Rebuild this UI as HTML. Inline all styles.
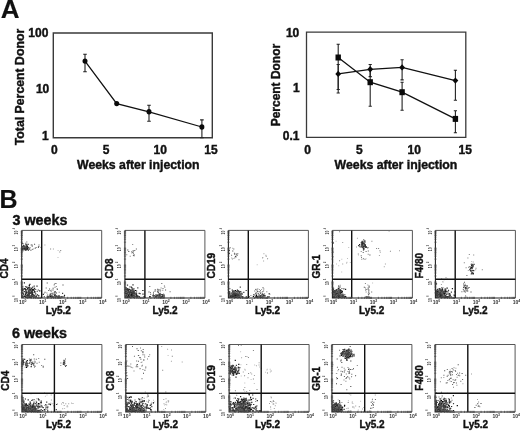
<!DOCTYPE html>
<html><head><meta charset="utf-8"><style>
html,body{margin:0;padding:0;background:#fff;width:520px;height:431px;overflow:hidden}
svg{display:block;filter:blur(0.35px)}
</style></head><body>
<svg width="520" height="431" viewBox="0 0 520 431">
<path fill="rgb(0,0,0)" d="M27.1 248.2h1.2v1.2h-1.2zM23.9 247.7h1.2v1.2h-1.2zM22.2 248.9h1.2v1.2h-1.2zM26.2 249.1h1.2v1.2h-1.2zM27.1 247.7h1.2v1.2h-1.2zM23.0 248.5h1.2v1.2h-1.2zM24.2 246.9h1.2v1.2h-1.2zM24.7 247.4h1.2v1.2h-1.2zM26.4 248.4h1.2v1.2h-1.2zM26.8 245.6h1.2v1.2h-1.2zM22.2 247.8h1.2v1.2h-1.2zM25.3 246.5h1.2v1.2h-1.2zM27.3 246.7h1.2v1.2h-1.2zM28.4 295.0h1.2v1.2h-1.2zM22.2 289.3h1.2v1.2h-1.2zM31.7 292.5h1.2v1.2h-1.2zM24.9 288.5h1.2v1.2h-1.2zM31.5 293.1h1.2v1.2h-1.2zM29.3 288.7h1.2v1.2h-1.2zM22.4 289.1h1.2v1.2h-1.2zM28.9 293.1h1.2v1.2h-1.2zM32.1 291.7h1.2v1.2h-1.2zM22.2 292.7h1.2v1.2h-1.2zM25.3 293.2h1.2v1.2h-1.2zM28.6 293.5h1.2v1.2h-1.2zM27.2 294.5h1.2v1.2h-1.2zM30.3 295.4h1.2v1.2h-1.2zM23.9 288.0h1.2v1.2h-1.2zM26.7 295.7h1.2v1.2h-1.2zM39.2 290.3h1.2v1.2h-1.2zM32.9 289.0h1.2v1.2h-1.2zM25.2 296.3h1.2v1.2h-1.2zM28.7 284.7h1.2v1.2h-1.2zM25.5 292.6h1.2v1.2h-1.2zM22.2 289.7h1.2v1.2h-1.2zM26.4 289.1h1.2v1.2h-1.2zM30.8 296.3h1.2v1.2h-1.2zM28.7 296.3h1.2v1.2h-1.2zM22.6 296.3h1.2v1.2h-1.2zM26.1 295.1h1.2v1.2h-1.2zM22.5 293.4h1.2v1.2h-1.2zM29.7 296.2h1.2v1.2h-1.2zM22.2 296.3h1.2v1.2h-1.2zM31.9 294.0h1.2v1.2h-1.2zM50.4 296.3h1.2v1.2h-1.2zM56.3 295.7h1.2v1.2h-1.2zM49.8 295.8h1.2v1.2h-1.2zM61.1 296.3h1.2v1.2h-1.2zM51.8 296.0h1.2v1.2h-1.2zM46.6 296.3h1.2v1.2h-1.2zM50.2 295.9h1.2v1.2h-1.2zM50.1 293.6h1.2v1.2h-1.2zM54.1 294.6h1.2v1.2h-1.2zM25.5 362.2h1.2v1.2h-1.2zM26.0 366.8h1.2v1.2h-1.2zM30.8 363.7h1.2v1.2h-1.2zM22.4 361.0h1.2v1.2h-1.2zM22.4 359.7h1.2v1.2h-1.2zM25.0 364.1h1.2v1.2h-1.2zM62.9 362.9h1.2v1.2h-1.2zM62.8 363.4h1.2v1.2h-1.2zM26.7 410.3h1.2v1.2h-1.2zM22.4 408.3h1.2v1.2h-1.2zM33.4 407.1h1.2v1.2h-1.2zM28.4 407.7h1.2v1.2h-1.2zM29.5 406.2h1.2v1.2h-1.2zM34.7 406.0h1.2v1.2h-1.2zM33.1 408.8h1.2v1.2h-1.2zM22.4 408.9h1.2v1.2h-1.2zM29.4 409.1h1.2v1.2h-1.2zM35.0 408.1h1.2v1.2h-1.2zM39.9 401.4h1.2v1.2h-1.2zM31.7 405.9h1.2v1.2h-1.2zM23.3 400.5h1.2v1.2h-1.2zM27.1 410.3h1.2v1.2h-1.2zM37.8 403.0h1.2v1.2h-1.2zM26.5 410.3h1.2v1.2h-1.2zM33.3 408.0h1.2v1.2h-1.2zM48.5 403.6h1.2v1.2h-1.2zM25.3 404.2h1.2v1.2h-1.2zM25.1 409.2h1.2v1.2h-1.2zM22.4 397.2h1.2v1.2h-1.2zM34.8 409.1h1.2v1.2h-1.2zM35.4 408.7h1.2v1.2h-1.2zM29.6 401.6h1.2v1.2h-1.2zM24.7 410.3h1.2v1.2h-1.2zM25.9 410.3h1.2v1.2h-1.2zM34.5 403.1h1.2v1.2h-1.2zM34.0 410.3h1.2v1.2h-1.2zM33.0 408.0h1.2v1.2h-1.2zM32.7 409.0h1.2v1.2h-1.2zM31.9 410.3h1.2v1.2h-1.2zM22.4 405.6h1.2v1.2h-1.2zM40.6 401.9h1.2v1.2h-1.2zM30.3 406.5h1.2v1.2h-1.2zM22.4 407.5h1.2v1.2h-1.2zM32.6 404.2h1.2v1.2h-1.2zM37.8 403.4h1.2v1.2h-1.2zM32.9 406.2h1.2v1.2h-1.2zM30.7 408.4h1.2v1.2h-1.2zM35.0 409.9h1.2v1.2h-1.2zM29.7 410.3h1.2v1.2h-1.2zM28.5 409.5h1.2v1.2h-1.2zM26.4 410.3h1.2v1.2h-1.2zM32.3 410.3h1.2v1.2h-1.2zM26.7 410.3h1.2v1.2h-1.2zM30.3 410.3h1.2v1.2h-1.2zM24.7 410.3h1.2v1.2h-1.2zM30.6 410.3h1.2v1.2h-1.2zM25.7 409.3h1.2v1.2h-1.2zM29.3 410.1h1.2v1.2h-1.2zM26.0 408.7h1.2v1.2h-1.2zM31.5 410.3h1.2v1.2h-1.2zM33.8 410.3h1.2v1.2h-1.2zM24.3 409.7h1.2v1.2h-1.2zM135.9 293.5h1.2v1.2h-1.2zM125.4 290.8h1.2v1.2h-1.2zM129.3 291.7h1.2v1.2h-1.2zM134.9 289.9h1.2v1.2h-1.2zM142.3 289.9h1.2v1.2h-1.2zM127.2 291.4h1.2v1.2h-1.2zM131.2 295.2h1.2v1.2h-1.2zM130.4 294.7h1.2v1.2h-1.2zM133.4 290.5h1.2v1.2h-1.2zM134.6 293.5h1.2v1.2h-1.2zM130.4 289.8h1.2v1.2h-1.2zM131.7 292.8h1.2v1.2h-1.2zM132.9 291.6h1.2v1.2h-1.2zM125.4 293.0h1.2v1.2h-1.2zM134.1 292.3h1.2v1.2h-1.2zM138.8 296.3h1.2v1.2h-1.2zM131.4 295.6h1.2v1.2h-1.2zM130.5 290.0h1.2v1.2h-1.2zM130.8 293.5h1.2v1.2h-1.2zM128.0 294.4h1.2v1.2h-1.2zM126.8 296.3h1.2v1.2h-1.2zM128.0 296.0h1.2v1.2h-1.2zM134.7 294.0h1.2v1.2h-1.2zM132.7 296.3h1.2v1.2h-1.2zM128.7 296.3h1.2v1.2h-1.2zM132.6 296.3h1.2v1.2h-1.2zM127.9 295.1h1.2v1.2h-1.2zM129.0 295.0h1.2v1.2h-1.2zM131.8 293.9h1.2v1.2h-1.2zM129.7 294.6h1.2v1.2h-1.2zM161.2 296.3h1.2v1.2h-1.2zM149.5 295.9h1.2v1.2h-1.2zM155.7 296.3h1.2v1.2h-1.2zM159.2 294.1h1.2v1.2h-1.2zM149.1 296.3h1.2v1.2h-1.2zM161.9 294.2h1.2v1.2h-1.2zM157.1 294.8h1.2v1.2h-1.2zM140.1 409.2h1.2v1.2h-1.2zM139.0 399.1h1.2v1.2h-1.2zM131.5 404.4h1.2v1.2h-1.2zM136.9 409.3h1.2v1.2h-1.2zM128.9 410.3h1.2v1.2h-1.2zM139.1 403.5h1.2v1.2h-1.2zM147.7 407.8h1.2v1.2h-1.2zM128.5 406.4h1.2v1.2h-1.2zM135.1 407.6h1.2v1.2h-1.2zM132.7 407.0h1.2v1.2h-1.2zM126.3 407.6h1.2v1.2h-1.2zM137.1 409.4h1.2v1.2h-1.2zM129.9 404.5h1.2v1.2h-1.2zM136.4 405.4h1.2v1.2h-1.2zM140.6 405.0h1.2v1.2h-1.2zM147.5 407.3h1.2v1.2h-1.2zM134.0 410.3h1.2v1.2h-1.2zM138.7 402.4h1.2v1.2h-1.2zM143.8 400.2h1.2v1.2h-1.2zM135.9 406.0h1.2v1.2h-1.2zM141.6 401.1h1.2v1.2h-1.2zM126.3 404.1h1.2v1.2h-1.2zM129.0 396.8h1.2v1.2h-1.2zM133.8 403.3h1.2v1.2h-1.2zM136.3 404.0h1.2v1.2h-1.2zM126.3 408.7h1.2v1.2h-1.2zM136.2 407.9h1.2v1.2h-1.2zM128.5 410.3h1.2v1.2h-1.2zM130.7 406.0h1.2v1.2h-1.2zM139.0 404.4h1.2v1.2h-1.2zM131.4 406.8h1.2v1.2h-1.2zM131.0 402.6h1.2v1.2h-1.2zM140.1 407.9h1.2v1.2h-1.2zM127.2 410.0h1.2v1.2h-1.2zM142.7 410.3h1.2v1.2h-1.2zM126.3 404.1h1.2v1.2h-1.2zM126.3 402.4h1.2v1.2h-1.2zM150.5 409.3h1.2v1.2h-1.2zM131.0 402.6h1.2v1.2h-1.2zM126.3 405.6h1.2v1.2h-1.2zM129.9 400.2h1.2v1.2h-1.2zM137.0 409.6h1.2v1.2h-1.2zM146.2 407.2h1.2v1.2h-1.2zM135.4 408.0h1.2v1.2h-1.2zM140.8 410.3h1.2v1.2h-1.2zM137.2 406.4h1.2v1.2h-1.2zM152.8 402.3h1.2v1.2h-1.2zM138.6 407.1h1.2v1.2h-1.2zM136.4 409.2h1.2v1.2h-1.2zM132.5 408.9h1.2v1.2h-1.2zM129.1 408.3h1.2v1.2h-1.2zM133.7 410.3h1.2v1.2h-1.2zM129.2 410.2h1.2v1.2h-1.2zM129.7 409.1h1.2v1.2h-1.2zM140.5 409.6h1.2v1.2h-1.2zM140.3 410.3h1.2v1.2h-1.2zM130.2 410.3h1.2v1.2h-1.2zM133.0 410.3h1.2v1.2h-1.2zM126.3 409.4h1.2v1.2h-1.2zM126.3 410.3h1.2v1.2h-1.2zM133.9 409.0h1.2v1.2h-1.2zM129.5 410.3h1.2v1.2h-1.2zM126.3 410.3h1.2v1.2h-1.2zM130.2 410.3h1.2v1.2h-1.2zM132.0 410.3h1.2v1.2h-1.2zM130.9 408.4h1.2v1.2h-1.2zM237.0 294.6h1.2v1.2h-1.2zM238.1 296.3h1.2v1.2h-1.2zM234.4 296.3h1.2v1.2h-1.2zM239.2 296.3h1.2v1.2h-1.2zM230.6 292.6h1.2v1.2h-1.2zM234.8 290.1h1.2v1.2h-1.2zM235.7 296.3h1.2v1.2h-1.2zM234.3 293.3h1.2v1.2h-1.2zM235.9 294.5h1.2v1.2h-1.2zM228.9 291.0h1.2v1.2h-1.2zM230.1 295.0h1.2v1.2h-1.2zM232.4 292.4h1.2v1.2h-1.2zM237.5 294.5h1.2v1.2h-1.2zM235.0 294.1h1.2v1.2h-1.2zM237.7 290.4h1.2v1.2h-1.2zM233.4 290.5h1.2v1.2h-1.2zM241.6 296.3h1.2v1.2h-1.2zM232.3 294.0h1.2v1.2h-1.2zM236.2 290.8h1.2v1.2h-1.2zM237.1 294.8h1.2v1.2h-1.2zM238.2 290.7h1.2v1.2h-1.2zM239.4 294.5h1.2v1.2h-1.2zM229.5 296.3h1.2v1.2h-1.2zM234.9 296.3h1.2v1.2h-1.2zM235.0 294.7h1.2v1.2h-1.2zM231.5 295.4h1.2v1.2h-1.2zM231.0 296.3h1.2v1.2h-1.2zM230.9 295.4h1.2v1.2h-1.2zM254.3 294.4h1.2v1.2h-1.2zM256.3 296.3h1.2v1.2h-1.2zM256.0 296.3h1.2v1.2h-1.2zM255.9 294.9h1.2v1.2h-1.2zM263.1 295.0h1.2v1.2h-1.2zM252.8 295.8h1.2v1.2h-1.2zM262.8 295.6h1.2v1.2h-1.2zM234.9 370.2h1.2v1.2h-1.2zM234.4 370.9h1.2v1.2h-1.2zM234.5 366.5h1.2v1.2h-1.2zM238.2 363.8h1.2v1.2h-1.2zM231.2 367.9h1.2v1.2h-1.2zM236.1 372.7h1.2v1.2h-1.2zM230.5 369.5h1.2v1.2h-1.2zM232.9 370.9h1.2v1.2h-1.2zM230.7 368.3h1.2v1.2h-1.2zM229.7 367.1h1.2v1.2h-1.2zM235.1 371.9h1.2v1.2h-1.2zM234.1 371.2h1.2v1.2h-1.2zM237.0 370.9h1.2v1.2h-1.2zM233.9 368.5h1.2v1.2h-1.2zM237.5 372.4h1.2v1.2h-1.2zM229.6 370.6h1.2v1.2h-1.2zM230.8 365.8h1.2v1.2h-1.2zM233.6 372.1h1.2v1.2h-1.2zM244.0 401.8h1.2v1.2h-1.2zM250.9 399.0h1.2v1.2h-1.2zM242.7 401.1h1.2v1.2h-1.2zM243.7 402.3h1.2v1.2h-1.2zM233.7 410.3h1.2v1.2h-1.2zM252.6 407.5h1.2v1.2h-1.2zM239.9 405.9h1.2v1.2h-1.2zM242.7 405.8h1.2v1.2h-1.2zM233.7 403.3h1.2v1.2h-1.2zM239.3 402.1h1.2v1.2h-1.2zM232.3 403.3h1.2v1.2h-1.2zM229.6 410.3h1.2v1.2h-1.2zM242.4 399.9h1.2v1.2h-1.2zM250.8 409.0h1.2v1.2h-1.2zM241.4 407.2h1.2v1.2h-1.2zM247.5 405.3h1.2v1.2h-1.2zM247.2 408.4h1.2v1.2h-1.2zM242.1 399.1h1.2v1.2h-1.2zM232.2 408.1h1.2v1.2h-1.2zM240.8 399.1h1.2v1.2h-1.2zM244.3 401.6h1.2v1.2h-1.2zM247.0 403.0h1.2v1.2h-1.2zM237.4 399.9h1.2v1.2h-1.2zM229.6 409.5h1.2v1.2h-1.2zM234.0 404.7h1.2v1.2h-1.2zM229.6 403.9h1.2v1.2h-1.2zM247.3 407.4h1.2v1.2h-1.2zM248.6 394.1h1.2v1.2h-1.2zM245.1 404.2h1.2v1.2h-1.2zM238.0 401.7h1.2v1.2h-1.2zM248.5 408.1h1.2v1.2h-1.2zM240.1 410.3h1.2v1.2h-1.2zM244.4 406.8h1.2v1.2h-1.2zM238.0 406.7h1.2v1.2h-1.2zM240.1 402.9h1.2v1.2h-1.2zM241.6 410.3h1.2v1.2h-1.2zM259.4 410.3h1.2v1.2h-1.2zM254.8 406.5h1.2v1.2h-1.2zM248.4 399.6h1.2v1.2h-1.2zM246.1 406.6h1.2v1.2h-1.2zM244.0 401.3h1.2v1.2h-1.2zM248.2 410.3h1.2v1.2h-1.2zM255.4 409.3h1.2v1.2h-1.2zM229.6 408.1h1.2v1.2h-1.2zM249.8 408.9h1.2v1.2h-1.2zM239.8 403.2h1.2v1.2h-1.2zM231.6 407.0h1.2v1.2h-1.2zM252.3 410.3h1.2v1.2h-1.2zM239.3 407.3h1.2v1.2h-1.2zM235.8 407.8h1.2v1.2h-1.2zM249.0 410.3h1.2v1.2h-1.2zM243.8 408.2h1.2v1.2h-1.2zM249.3 410.3h1.2v1.2h-1.2zM238.3 407.3h1.2v1.2h-1.2zM249.2 407.7h1.2v1.2h-1.2zM363.7 245.8h1.2v1.2h-1.2zM364.4 245.3h1.2v1.2h-1.2zM361.7 244.0h1.2v1.2h-1.2zM362.0 245.5h1.2v1.2h-1.2zM361.2 245.5h1.2v1.2h-1.2zM362.7 243.2h1.2v1.2h-1.2zM362.9 247.7h1.2v1.2h-1.2zM364.7 244.7h1.2v1.2h-1.2zM362.2 241.7h1.2v1.2h-1.2zM361.9 245.0h1.2v1.2h-1.2zM365.4 246.2h1.2v1.2h-1.2zM363.1 245.9h1.2v1.2h-1.2zM337.6 294.3h1.2v1.2h-1.2zM334.0 296.3h1.2v1.2h-1.2zM333.1 293.0h1.2v1.2h-1.2zM340.0 289.4h1.2v1.2h-1.2zM337.7 293.1h1.2v1.2h-1.2zM338.0 289.8h1.2v1.2h-1.2zM338.3 296.3h1.2v1.2h-1.2zM332.9 294.2h1.2v1.2h-1.2zM335.4 289.8h1.2v1.2h-1.2zM338.0 295.7h1.2v1.2h-1.2zM341.1 292.1h1.2v1.2h-1.2zM337.5 292.1h1.2v1.2h-1.2zM339.8 289.9h1.2v1.2h-1.2zM337.3 293.0h1.2v1.2h-1.2zM338.7 295.9h1.2v1.2h-1.2zM341.2 292.0h1.2v1.2h-1.2zM336.8 291.3h1.2v1.2h-1.2zM332.9 293.8h1.2v1.2h-1.2zM337.8 290.9h1.2v1.2h-1.2zM339.6 296.3h1.2v1.2h-1.2zM334.1 295.9h1.2v1.2h-1.2zM341.7 291.0h1.2v1.2h-1.2zM334.6 294.9h1.2v1.2h-1.2zM332.9 291.7h1.2v1.2h-1.2zM339.9 291.8h1.2v1.2h-1.2zM339.1 296.3h1.2v1.2h-1.2zM332.9 291.6h1.2v1.2h-1.2zM333.8 290.2h1.2v1.2h-1.2zM335.5 293.6h1.2v1.2h-1.2zM345.0 295.9h1.2v1.2h-1.2zM339.6 292.8h1.2v1.2h-1.2zM338.9 294.2h1.2v1.2h-1.2zM337.5 295.3h1.2v1.2h-1.2zM333.9 296.3h1.2v1.2h-1.2zM334.0 294.6h1.2v1.2h-1.2zM334.7 292.7h1.2v1.2h-1.2zM334.1 295.5h1.2v1.2h-1.2zM333.2 296.3h1.2v1.2h-1.2zM334.9 295.6h1.2v1.2h-1.2zM338.2 295.9h1.2v1.2h-1.2zM334.8 294.7h1.2v1.2h-1.2zM338.2 296.3h1.2v1.2h-1.2zM343.7 296.3h1.2v1.2h-1.2zM339.5 295.3h1.2v1.2h-1.2zM332.9 296.3h1.2v1.2h-1.2zM333.8 295.6h1.2v1.2h-1.2zM341.5 354.1h1.2v1.2h-1.2zM350.4 349.5h1.2v1.2h-1.2zM347.3 356.2h1.2v1.2h-1.2zM346.2 358.2h1.2v1.2h-1.2zM345.8 352.4h1.2v1.2h-1.2zM346.2 350.3h1.2v1.2h-1.2zM346.6 356.3h1.2v1.2h-1.2zM349.6 354.3h1.2v1.2h-1.2zM340.6 353.3h1.2v1.2h-1.2zM348.9 353.4h1.2v1.2h-1.2zM346.4 356.5h1.2v1.2h-1.2zM347.7 354.2h1.2v1.2h-1.2zM348.3 348.6h1.2v1.2h-1.2zM344.7 357.9h1.2v1.2h-1.2zM350.7 351.4h1.2v1.2h-1.2zM350.0 355.5h1.2v1.2h-1.2zM344.3 353.3h1.2v1.2h-1.2zM347.4 349.8h1.2v1.2h-1.2zM347.3 351.4h1.2v1.2h-1.2zM350.8 351.4h1.2v1.2h-1.2zM344.2 350.9h1.2v1.2h-1.2zM348.9 356.1h1.2v1.2h-1.2zM350.1 354.3h1.2v1.2h-1.2zM340.8 354.8h1.2v1.2h-1.2zM341.9 351.7h1.2v1.2h-1.2zM338.9 410.3h1.2v1.2h-1.2zM332.4 410.3h1.2v1.2h-1.2zM341.3 406.6h1.2v1.2h-1.2zM333.8 407.7h1.2v1.2h-1.2zM337.6 409.3h1.2v1.2h-1.2zM336.8 404.9h1.2v1.2h-1.2zM333.4 407.1h1.2v1.2h-1.2zM332.4 410.3h1.2v1.2h-1.2zM332.4 406.7h1.2v1.2h-1.2zM332.5 410.2h1.2v1.2h-1.2zM333.1 405.8h1.2v1.2h-1.2zM335.9 403.3h1.2v1.2h-1.2zM336.4 410.3h1.2v1.2h-1.2zM334.4 403.6h1.2v1.2h-1.2zM344.0 404.7h1.2v1.2h-1.2zM336.5 407.8h1.2v1.2h-1.2zM337.1 406.4h1.2v1.2h-1.2zM339.7 409.2h1.2v1.2h-1.2zM333.0 406.9h1.2v1.2h-1.2zM333.1 407.0h1.2v1.2h-1.2zM332.4 409.2h1.2v1.2h-1.2zM332.4 405.6h1.2v1.2h-1.2zM338.3 407.4h1.2v1.2h-1.2zM339.1 405.0h1.2v1.2h-1.2zM335.1 409.6h1.2v1.2h-1.2zM335.1 406.0h1.2v1.2h-1.2zM332.4 405.2h1.2v1.2h-1.2zM340.2 408.8h1.2v1.2h-1.2zM340.0 405.4h1.2v1.2h-1.2zM335.0 408.0h1.2v1.2h-1.2zM332.4 405.1h1.2v1.2h-1.2zM332.4 407.7h1.2v1.2h-1.2zM336.1 410.3h1.2v1.2h-1.2zM335.9 410.3h1.2v1.2h-1.2zM338.0 410.3h1.2v1.2h-1.2zM338.1 409.1h1.2v1.2h-1.2zM338.6 409.8h1.2v1.2h-1.2zM336.4 410.3h1.2v1.2h-1.2zM335.9 408.1h1.2v1.2h-1.2zM336.8 410.3h1.2v1.2h-1.2zM340.2 409.1h1.2v1.2h-1.2zM336.8 409.7h1.2v1.2h-1.2zM340.9 409.1h1.2v1.2h-1.2zM337.8 410.3h1.2v1.2h-1.2zM337.8 410.3h1.2v1.2h-1.2zM471.0 266.8h1.2v1.2h-1.2zM471.4 263.8h1.2v1.2h-1.2zM472.7 273.0h1.2v1.2h-1.2zM472.4 265.6h1.2v1.2h-1.2zM472.7 265.8h1.2v1.2h-1.2zM469.8 267.6h1.2v1.2h-1.2zM436.8 296.3h1.2v1.2h-1.2zM436.5 294.8h1.2v1.2h-1.2zM435.9 294.5h1.2v1.2h-1.2zM439.5 294.2h1.2v1.2h-1.2zM443.5 293.7h1.2v1.2h-1.2zM444.5 294.8h1.2v1.2h-1.2zM440.6 295.4h1.2v1.2h-1.2zM444.5 288.5h1.2v1.2h-1.2zM444.7 289.6h1.2v1.2h-1.2zM435.9 296.3h1.2v1.2h-1.2zM443.3 292.3h1.2v1.2h-1.2zM440.5 291.9h1.2v1.2h-1.2zM443.8 292.6h1.2v1.2h-1.2zM441.1 296.3h1.2v1.2h-1.2zM439.9 290.6h1.2v1.2h-1.2zM438.8 295.4h1.2v1.2h-1.2zM440.9 292.3h1.2v1.2h-1.2zM436.2 291.8h1.2v1.2h-1.2zM441.2 291.5h1.2v1.2h-1.2zM438.3 293.7h1.2v1.2h-1.2zM441.6 294.4h1.2v1.2h-1.2zM446.7 296.3h1.2v1.2h-1.2zM446.5 287.6h1.2v1.2h-1.2zM444.7 291.1h1.2v1.2h-1.2zM438.0 292.3h1.2v1.2h-1.2zM437.0 291.1h1.2v1.2h-1.2zM444.8 295.5h1.2v1.2h-1.2zM441.9 291.2h1.2v1.2h-1.2zM435.9 292.0h1.2v1.2h-1.2zM450.5 296.3h1.2v1.2h-1.2zM436.4 296.3h1.2v1.2h-1.2zM441.3 296.0h1.2v1.2h-1.2zM439.6 295.0h1.2v1.2h-1.2zM444.8 295.1h1.2v1.2h-1.2zM447.7 296.0h1.2v1.2h-1.2zM446.5 296.3h1.2v1.2h-1.2zM444.9 296.3h1.2v1.2h-1.2zM435.9 296.3h1.2v1.2h-1.2zM464.7 287.3h1.2v1.2h-1.2zM466.6 285.4h1.2v1.2h-1.2zM435.6 408.7h1.2v1.2h-1.2zM437.0 407.2h1.2v1.2h-1.2zM444.5 406.1h1.2v1.2h-1.2zM436.0 404.5h1.2v1.2h-1.2zM448.1 410.3h1.2v1.2h-1.2zM435.6 410.3h1.2v1.2h-1.2zM441.9 401.0h1.2v1.2h-1.2zM439.3 404.7h1.2v1.2h-1.2zM443.0 404.2h1.2v1.2h-1.2zM446.5 410.3h1.2v1.2h-1.2zM440.6 406.6h1.2v1.2h-1.2zM435.6 403.3h1.2v1.2h-1.2zM440.4 399.7h1.2v1.2h-1.2zM436.1 409.4h1.2v1.2h-1.2zM435.6 402.9h1.2v1.2h-1.2zM441.8 405.7h1.2v1.2h-1.2zM439.1 402.2h1.2v1.2h-1.2zM456.7 405.1h1.2v1.2h-1.2zM439.1 410.3h1.2v1.2h-1.2zM448.4 405.1h1.2v1.2h-1.2zM435.6 410.3h1.2v1.2h-1.2zM439.5 408.6h1.2v1.2h-1.2zM440.0 410.3h1.2v1.2h-1.2zM444.7 403.0h1.2v1.2h-1.2zM444.7 401.4h1.2v1.2h-1.2zM439.7 405.1h1.2v1.2h-1.2zM447.2 406.8h1.2v1.2h-1.2zM444.3 400.3h1.2v1.2h-1.2zM440.6 402.5h1.2v1.2h-1.2zM441.8 402.5h1.2v1.2h-1.2zM436.5 401.9h1.2v1.2h-1.2zM440.9 400.1h1.2v1.2h-1.2zM445.7 400.2h1.2v1.2h-1.2zM442.9 410.3h1.2v1.2h-1.2zM439.8 410.3h1.2v1.2h-1.2zM437.6 410.3h1.2v1.2h-1.2zM438.7 402.9h1.2v1.2h-1.2zM448.0 404.7h1.2v1.2h-1.2zM444.4 406.8h1.2v1.2h-1.2zM439.5 398.2h1.2v1.2h-1.2zM441.7 410.3h1.2v1.2h-1.2zM439.8 407.3h1.2v1.2h-1.2zM443.0 409.3h1.2v1.2h-1.2zM438.3 404.9h1.2v1.2h-1.2zM441.7 409.5h1.2v1.2h-1.2zM442.4 405.2h1.2v1.2h-1.2zM437.2 406.5h1.2v1.2h-1.2zM435.6 410.3h1.2v1.2h-1.2zM439.5 408.4h1.2v1.2h-1.2zM438.1 403.8h1.2v1.2h-1.2zM439.0 404.5h1.2v1.2h-1.2zM440.1 410.0h1.2v1.2h-1.2zM441.6 410.2h1.2v1.2h-1.2zM437.1 410.3h1.2v1.2h-1.2zM439.3 408.6h1.2v1.2h-1.2zM438.4 410.3h1.2v1.2h-1.2zM437.2 410.3h1.2v1.2h-1.2zM437.8 410.3h1.2v1.2h-1.2zM441.4 410.3h1.2v1.2h-1.2z"/>
<path fill="rgb(31,31,31)" d="M27.1 248.4h1.2v1.2h-1.2zM28.9 248.4h1.2v1.2h-1.2zM25.4 248.1h1.2v1.2h-1.2zM25.4 247.6h1.2v1.2h-1.2zM23.7 245.7h1.2v1.2h-1.2zM22.6 246.4h1.2v1.2h-1.2zM25.6 244.7h1.2v1.2h-1.2zM22.3 246.1h1.2v1.2h-1.2zM27.5 243.7h1.2v1.2h-1.2zM25.8 248.4h1.2v1.2h-1.2zM25.3 246.9h1.2v1.2h-1.2zM25.9 246.3h1.2v1.2h-1.2zM25.5 248.3h1.2v1.2h-1.2zM24.7 247.6h1.2v1.2h-1.2zM25.0 248.4h1.2v1.2h-1.2zM24.7 249.1h1.2v1.2h-1.2zM26.3 248.4h1.2v1.2h-1.2zM30.1 289.3h1.2v1.2h-1.2zM32.3 289.6h1.2v1.2h-1.2zM22.2 287.6h1.2v1.2h-1.2zM33.3 289.4h1.2v1.2h-1.2zM27.8 291.3h1.2v1.2h-1.2zM25.0 290.3h1.2v1.2h-1.2zM25.5 290.4h1.2v1.2h-1.2zM29.3 283.7h1.2v1.2h-1.2zM24.6 288.7h1.2v1.2h-1.2zM27.0 287.8h1.2v1.2h-1.2zM36.4 285.5h1.2v1.2h-1.2zM30.2 292.8h1.2v1.2h-1.2zM30.8 296.3h1.2v1.2h-1.2zM31.2 294.6h1.2v1.2h-1.2zM27.1 293.4h1.2v1.2h-1.2zM27.9 291.6h1.2v1.2h-1.2zM35.1 293.3h1.2v1.2h-1.2zM36.9 294.2h1.2v1.2h-1.2zM28.4 293.2h1.2v1.2h-1.2zM31.6 292.1h1.2v1.2h-1.2zM26.1 296.3h1.2v1.2h-1.2zM25.9 291.4h1.2v1.2h-1.2zM28.1 287.0h1.2v1.2h-1.2zM30.7 288.0h1.2v1.2h-1.2zM31.0 288.4h1.2v1.2h-1.2zM23.8 282.2h1.2v1.2h-1.2zM28.0 294.0h1.2v1.2h-1.2zM26.2 291.9h1.2v1.2h-1.2zM24.9 294.1h1.2v1.2h-1.2zM28.5 292.9h1.2v1.2h-1.2zM29.6 291.6h1.2v1.2h-1.2zM29.3 296.0h1.2v1.2h-1.2zM31.9 289.0h1.2v1.2h-1.2zM29.6 289.6h1.2v1.2h-1.2zM25.9 286.5h1.2v1.2h-1.2zM31.1 291.8h1.2v1.2h-1.2zM28.6 287.3h1.2v1.2h-1.2zM28.7 292.8h1.2v1.2h-1.2zM33.9 290.8h1.2v1.2h-1.2zM26.3 286.5h1.2v1.2h-1.2zM23.7 291.0h1.2v1.2h-1.2zM35.7 296.3h1.2v1.2h-1.2zM25.3 292.3h1.2v1.2h-1.2zM34.3 296.2h1.2v1.2h-1.2zM34.0 287.8h1.2v1.2h-1.2zM33.9 291.5h1.2v1.2h-1.2zM27.9 293.2h1.2v1.2h-1.2zM27.6 294.7h1.2v1.2h-1.2zM34.7 291.4h1.2v1.2h-1.2zM35.6 295.4h1.2v1.2h-1.2zM31.8 290.4h1.2v1.2h-1.2zM25.8 291.2h1.2v1.2h-1.2zM30.8 290.6h1.2v1.2h-1.2zM26.7 296.3h1.2v1.2h-1.2zM30.2 296.3h1.2v1.2h-1.2zM33.6 295.1h1.2v1.2h-1.2zM42.7 293.7h1.2v1.2h-1.2zM27.5 296.3h1.2v1.2h-1.2zM28.7 294.7h1.2v1.2h-1.2zM23.9 295.7h1.2v1.2h-1.2zM31.0 295.3h1.2v1.2h-1.2zM28.7 296.3h1.2v1.2h-1.2zM30.2 296.2h1.2v1.2h-1.2zM24.4 295.3h1.2v1.2h-1.2zM28.1 295.8h1.2v1.2h-1.2zM32.9 295.0h1.2v1.2h-1.2zM28.3 296.1h1.2v1.2h-1.2zM26.3 294.8h1.2v1.2h-1.2zM23.1 293.5h1.2v1.2h-1.2zM33.1 296.1h1.2v1.2h-1.2zM28.3 294.5h1.2v1.2h-1.2zM25.3 296.3h1.2v1.2h-1.2zM30.1 296.3h1.2v1.2h-1.2zM25.2 296.3h1.2v1.2h-1.2zM28.9 296.0h1.2v1.2h-1.2zM32.0 295.7h1.2v1.2h-1.2zM32.7 293.9h1.2v1.2h-1.2zM34.1 296.3h1.2v1.2h-1.2zM31.6 295.5h1.2v1.2h-1.2zM29.7 295.7h1.2v1.2h-1.2zM63.9 294.8h1.2v1.2h-1.2zM62.3 296.3h1.2v1.2h-1.2zM57.5 296.3h1.2v1.2h-1.2zM54.8 296.3h1.2v1.2h-1.2zM48.5 296.3h1.2v1.2h-1.2zM54.5 294.6h1.2v1.2h-1.2zM52.1 296.1h1.2v1.2h-1.2zM52.4 295.9h1.2v1.2h-1.2zM58.3 296.3h1.2v1.2h-1.2zM54.6 295.3h1.2v1.2h-1.2zM56.1 295.5h1.2v1.2h-1.2zM54.1 295.3h1.2v1.2h-1.2zM48.1 296.3h1.2v1.2h-1.2zM58.9 295.8h1.2v1.2h-1.2zM25.0 363.2h1.2v1.2h-1.2zM27.1 365.2h1.2v1.2h-1.2zM30.6 366.0h1.2v1.2h-1.2zM29.5 360.0h1.2v1.2h-1.2zM22.9 362.1h1.2v1.2h-1.2zM27.2 365.1h1.2v1.2h-1.2zM22.4 363.2h1.2v1.2h-1.2zM26.1 363.4h1.2v1.2h-1.2zM25.5 365.0h1.2v1.2h-1.2zM26.8 360.1h1.2v1.2h-1.2zM22.4 358.5h1.2v1.2h-1.2zM26.3 362.3h1.2v1.2h-1.2zM24.0 358.8h1.2v1.2h-1.2zM63.5 363.4h1.2v1.2h-1.2zM62.9 361.7h1.2v1.2h-1.2zM64.0 361.4h1.2v1.2h-1.2zM63.7 362.6h1.2v1.2h-1.2zM28.4 403.6h1.2v1.2h-1.2zM23.0 406.5h1.2v1.2h-1.2zM26.4 405.4h1.2v1.2h-1.2zM26.8 406.9h1.2v1.2h-1.2zM23.5 408.8h1.2v1.2h-1.2zM24.7 403.9h1.2v1.2h-1.2zM25.0 405.1h1.2v1.2h-1.2zM30.4 410.3h1.2v1.2h-1.2zM28.1 408.5h1.2v1.2h-1.2zM28.4 408.2h1.2v1.2h-1.2zM23.5 409.5h1.2v1.2h-1.2zM33.5 407.1h1.2v1.2h-1.2zM30.2 406.1h1.2v1.2h-1.2zM30.4 410.3h1.2v1.2h-1.2zM34.3 410.3h1.2v1.2h-1.2zM30.8 406.7h1.2v1.2h-1.2zM28.8 410.1h1.2v1.2h-1.2zM35.3 408.1h1.2v1.2h-1.2zM29.0 409.7h1.2v1.2h-1.2zM34.5 407.1h1.2v1.2h-1.2zM30.7 408.7h1.2v1.2h-1.2zM22.4 407.4h1.2v1.2h-1.2zM32.7 406.3h1.2v1.2h-1.2zM29.1 409.1h1.2v1.2h-1.2zM31.0 406.4h1.2v1.2h-1.2zM25.1 403.8h1.2v1.2h-1.2zM33.7 407.7h1.2v1.2h-1.2zM25.9 409.7h1.2v1.2h-1.2zM29.3 406.6h1.2v1.2h-1.2zM26.9 410.3h1.2v1.2h-1.2zM25.7 408.0h1.2v1.2h-1.2zM27.2 409.5h1.2v1.2h-1.2zM27.7 407.8h1.2v1.2h-1.2zM33.9 406.5h1.2v1.2h-1.2zM28.7 409.7h1.2v1.2h-1.2zM22.4 406.0h1.2v1.2h-1.2zM39.3 405.9h1.2v1.2h-1.2zM32.5 410.3h1.2v1.2h-1.2zM23.2 402.0h1.2v1.2h-1.2zM24.9 410.3h1.2v1.2h-1.2zM27.6 399.3h1.2v1.2h-1.2zM26.4 404.5h1.2v1.2h-1.2zM31.8 406.7h1.2v1.2h-1.2zM24.8 398.4h1.2v1.2h-1.2zM26.6 407.1h1.2v1.2h-1.2zM32.0 399.4h1.2v1.2h-1.2zM39.2 403.3h1.2v1.2h-1.2zM27.5 405.1h1.2v1.2h-1.2zM37.1 410.3h1.2v1.2h-1.2zM24.4 404.9h1.2v1.2h-1.2zM22.4 406.9h1.2v1.2h-1.2zM31.8 407.6h1.2v1.2h-1.2zM22.4 403.6h1.2v1.2h-1.2zM56.1 403.9h1.2v1.2h-1.2zM37.9 407.2h1.2v1.2h-1.2zM32.1 404.6h1.2v1.2h-1.2zM31.7 408.6h1.2v1.2h-1.2zM35.3 405.1h1.2v1.2h-1.2zM25.8 403.3h1.2v1.2h-1.2zM36.2 404.2h1.2v1.2h-1.2zM29.4 408.6h1.2v1.2h-1.2zM29.2 404.1h1.2v1.2h-1.2zM30.5 409.5h1.2v1.2h-1.2zM35.1 405.7h1.2v1.2h-1.2zM47.0 406.6h1.2v1.2h-1.2zM24.6 403.6h1.2v1.2h-1.2zM35.9 401.6h1.2v1.2h-1.2zM43.8 409.1h1.2v1.2h-1.2zM22.4 407.7h1.2v1.2h-1.2zM37.8 410.3h1.2v1.2h-1.2zM41.6 406.6h1.2v1.2h-1.2zM38.4 399.2h1.2v1.2h-1.2zM22.4 406.7h1.2v1.2h-1.2zM42.1 410.0h1.2v1.2h-1.2zM38.6 409.8h1.2v1.2h-1.2zM31.1 408.5h1.2v1.2h-1.2zM33.1 402.9h1.2v1.2h-1.2zM33.4 405.4h1.2v1.2h-1.2zM49.9 404.1h1.2v1.2h-1.2zM22.4 409.2h1.2v1.2h-1.2zM28.9 406.2h1.2v1.2h-1.2zM30.7 410.3h1.2v1.2h-1.2zM31.9 410.3h1.2v1.2h-1.2zM38.2 405.5h1.2v1.2h-1.2zM41.1 405.2h1.2v1.2h-1.2zM34.9 408.0h1.2v1.2h-1.2zM26.4 408.3h1.2v1.2h-1.2zM35.7 410.3h1.2v1.2h-1.2zM22.4 404.9h1.2v1.2h-1.2zM29.7 409.3h1.2v1.2h-1.2zM32.6 410.3h1.2v1.2h-1.2zM26.8 410.3h1.2v1.2h-1.2zM31.6 404.2h1.2v1.2h-1.2zM40.6 400.5h1.2v1.2h-1.2zM25.8 404.1h1.2v1.2h-1.2zM22.4 408.2h1.2v1.2h-1.2zM24.0 409.7h1.2v1.2h-1.2zM23.2 406.5h1.2v1.2h-1.2zM37.1 405.8h1.2v1.2h-1.2zM28.3 406.2h1.2v1.2h-1.2zM37.3 407.3h1.2v1.2h-1.2zM38.3 409.8h1.2v1.2h-1.2zM30.2 410.3h1.2v1.2h-1.2zM24.7 410.0h1.2v1.2h-1.2zM23.2 408.5h1.2v1.2h-1.2zM22.4 410.3h1.2v1.2h-1.2zM27.7 409.9h1.2v1.2h-1.2zM27.2 410.3h1.2v1.2h-1.2zM34.4 410.0h1.2v1.2h-1.2zM26.1 410.3h1.2v1.2h-1.2zM24.7 410.3h1.2v1.2h-1.2zM22.4 410.3h1.2v1.2h-1.2zM30.1 410.3h1.2v1.2h-1.2zM32.5 410.3h1.2v1.2h-1.2zM30.0 408.8h1.2v1.2h-1.2zM29.4 410.3h1.2v1.2h-1.2zM35.1 410.3h1.2v1.2h-1.2zM22.4 410.3h1.2v1.2h-1.2zM33.5 409.5h1.2v1.2h-1.2zM22.4 409.8h1.2v1.2h-1.2zM24.0 409.5h1.2v1.2h-1.2zM23.5 409.5h1.2v1.2h-1.2zM27.4 410.3h1.2v1.2h-1.2zM24.7 408.0h1.2v1.2h-1.2zM28.0 410.3h1.2v1.2h-1.2zM29.3 410.3h1.2v1.2h-1.2zM27.1 408.9h1.2v1.2h-1.2zM32.3 407.8h1.2v1.2h-1.2zM25.3 407.4h1.2v1.2h-1.2zM24.7 410.3h1.2v1.2h-1.2zM136.0 290.4h1.2v1.2h-1.2zM136.1 295.8h1.2v1.2h-1.2zM131.5 292.2h1.2v1.2h-1.2zM131.2 291.6h1.2v1.2h-1.2zM133.3 288.3h1.2v1.2h-1.2zM133.9 293.6h1.2v1.2h-1.2zM132.6 294.9h1.2v1.2h-1.2zM127.6 291.0h1.2v1.2h-1.2zM135.9 292.5h1.2v1.2h-1.2zM130.5 294.8h1.2v1.2h-1.2zM130.5 296.3h1.2v1.2h-1.2zM125.5 292.2h1.2v1.2h-1.2zM127.3 292.7h1.2v1.2h-1.2zM138.6 292.7h1.2v1.2h-1.2zM126.3 293.7h1.2v1.2h-1.2zM131.6 293.4h1.2v1.2h-1.2zM129.6 291.8h1.2v1.2h-1.2zM125.4 288.1h1.2v1.2h-1.2zM131.7 295.4h1.2v1.2h-1.2zM125.4 287.2h1.2v1.2h-1.2zM126.2 294.9h1.2v1.2h-1.2zM128.5 290.5h1.2v1.2h-1.2zM128.5 291.1h1.2v1.2h-1.2zM136.8 295.3h1.2v1.2h-1.2zM128.1 289.0h1.2v1.2h-1.2zM131.4 287.2h1.2v1.2h-1.2zM132.4 284.2h1.2v1.2h-1.2zM131.2 292.7h1.2v1.2h-1.2zM127.2 288.1h1.2v1.2h-1.2zM134.6 296.3h1.2v1.2h-1.2zM125.5 292.4h1.2v1.2h-1.2zM132.2 289.2h1.2v1.2h-1.2zM135.9 294.1h1.2v1.2h-1.2zM129.0 290.9h1.2v1.2h-1.2zM130.6 295.6h1.2v1.2h-1.2zM127.2 296.3h1.2v1.2h-1.2zM132.3 290.2h1.2v1.2h-1.2zM128.8 288.7h1.2v1.2h-1.2zM125.4 289.4h1.2v1.2h-1.2zM130.5 291.6h1.2v1.2h-1.2zM142.4 293.5h1.2v1.2h-1.2zM132.3 291.3h1.2v1.2h-1.2zM133.5 294.8h1.2v1.2h-1.2zM129.0 292.4h1.2v1.2h-1.2zM125.4 292.6h1.2v1.2h-1.2zM130.1 289.4h1.2v1.2h-1.2zM125.4 296.3h1.2v1.2h-1.2zM128.9 294.0h1.2v1.2h-1.2zM130.7 286.5h1.2v1.2h-1.2zM125.4 287.1h1.2v1.2h-1.2zM126.6 288.8h1.2v1.2h-1.2zM130.0 289.5h1.2v1.2h-1.2zM126.6 289.5h1.2v1.2h-1.2zM127.6 289.7h1.2v1.2h-1.2zM125.4 296.2h1.2v1.2h-1.2zM135.5 295.3h1.2v1.2h-1.2zM125.4 295.5h1.2v1.2h-1.2zM134.6 296.3h1.2v1.2h-1.2zM131.7 295.6h1.2v1.2h-1.2zM126.2 296.3h1.2v1.2h-1.2zM129.2 296.1h1.2v1.2h-1.2zM137.4 295.9h1.2v1.2h-1.2zM134.6 296.3h1.2v1.2h-1.2zM127.8 295.8h1.2v1.2h-1.2zM133.8 296.3h1.2v1.2h-1.2zM132.4 294.9h1.2v1.2h-1.2zM125.4 294.6h1.2v1.2h-1.2zM137.4 295.6h1.2v1.2h-1.2zM131.1 294.7h1.2v1.2h-1.2zM136.5 296.2h1.2v1.2h-1.2zM125.4 296.3h1.2v1.2h-1.2zM125.4 296.3h1.2v1.2h-1.2zM127.6 294.2h1.2v1.2h-1.2zM133.2 296.3h1.2v1.2h-1.2zM143.5 296.0h1.2v1.2h-1.2zM153.3 295.6h1.2v1.2h-1.2zM159.2 296.3h1.2v1.2h-1.2zM152.4 295.1h1.2v1.2h-1.2zM157.9 295.2h1.2v1.2h-1.2zM161.8 296.1h1.2v1.2h-1.2zM161.7 295.4h1.2v1.2h-1.2zM156.9 295.3h1.2v1.2h-1.2zM159.6 296.3h1.2v1.2h-1.2zM159.1 294.6h1.2v1.2h-1.2zM159.6 294.4h1.2v1.2h-1.2zM154.8 296.3h1.2v1.2h-1.2zM158.2 296.3h1.2v1.2h-1.2zM155.4 294.2h1.2v1.2h-1.2zM146.5 404.1h1.2v1.2h-1.2zM126.3 410.3h1.2v1.2h-1.2zM141.4 410.3h1.2v1.2h-1.2zM131.3 401.9h1.2v1.2h-1.2zM130.3 400.6h1.2v1.2h-1.2zM126.3 402.0h1.2v1.2h-1.2zM133.2 404.9h1.2v1.2h-1.2zM138.3 410.3h1.2v1.2h-1.2zM141.8 396.9h1.2v1.2h-1.2zM138.5 406.4h1.2v1.2h-1.2zM133.8 402.2h1.2v1.2h-1.2zM138.4 410.3h1.2v1.2h-1.2zM139.7 410.3h1.2v1.2h-1.2zM135.3 405.1h1.2v1.2h-1.2zM132.1 404.2h1.2v1.2h-1.2zM142.7 410.3h1.2v1.2h-1.2zM142.8 409.8h1.2v1.2h-1.2zM136.6 407.0h1.2v1.2h-1.2zM141.7 400.4h1.2v1.2h-1.2zM149.9 408.8h1.2v1.2h-1.2zM139.1 408.4h1.2v1.2h-1.2zM143.2 408.0h1.2v1.2h-1.2zM130.6 400.9h1.2v1.2h-1.2zM129.5 401.5h1.2v1.2h-1.2zM136.8 410.3h1.2v1.2h-1.2zM146.7 405.4h1.2v1.2h-1.2zM137.3 404.3h1.2v1.2h-1.2zM126.3 403.9h1.2v1.2h-1.2zM133.0 404.3h1.2v1.2h-1.2zM128.1 405.9h1.2v1.2h-1.2zM130.1 399.4h1.2v1.2h-1.2zM126.3 408.7h1.2v1.2h-1.2zM133.8 410.0h1.2v1.2h-1.2zM135.0 409.5h1.2v1.2h-1.2zM132.0 410.3h1.2v1.2h-1.2zM140.2 406.3h1.2v1.2h-1.2zM135.9 403.5h1.2v1.2h-1.2zM146.4 407.6h1.2v1.2h-1.2zM136.9 406.8h1.2v1.2h-1.2zM137.9 408.0h1.2v1.2h-1.2zM146.3 405.3h1.2v1.2h-1.2zM148.7 407.9h1.2v1.2h-1.2zM135.6 407.1h1.2v1.2h-1.2zM127.0 403.4h1.2v1.2h-1.2zM137.1 403.5h1.2v1.2h-1.2zM132.4 406.2h1.2v1.2h-1.2zM137.4 403.4h1.2v1.2h-1.2zM136.3 403.7h1.2v1.2h-1.2zM137.1 410.3h1.2v1.2h-1.2zM136.0 407.5h1.2v1.2h-1.2zM138.7 407.6h1.2v1.2h-1.2zM138.1 409.1h1.2v1.2h-1.2zM137.7 407.5h1.2v1.2h-1.2zM134.3 410.3h1.2v1.2h-1.2zM135.5 404.9h1.2v1.2h-1.2zM126.3 410.3h1.2v1.2h-1.2zM132.2 407.3h1.2v1.2h-1.2zM140.6 405.6h1.2v1.2h-1.2zM126.3 405.8h1.2v1.2h-1.2zM145.5 406.2h1.2v1.2h-1.2zM132.7 410.2h1.2v1.2h-1.2zM135.1 405.7h1.2v1.2h-1.2zM131.6 404.6h1.2v1.2h-1.2zM138.1 408.3h1.2v1.2h-1.2zM133.8 410.3h1.2v1.2h-1.2zM141.6 406.9h1.2v1.2h-1.2zM149.6 404.8h1.2v1.2h-1.2zM135.6 409.4h1.2v1.2h-1.2zM135.3 400.9h1.2v1.2h-1.2zM136.9 403.7h1.2v1.2h-1.2zM140.4 405.8h1.2v1.2h-1.2zM150.4 404.4h1.2v1.2h-1.2zM136.2 404.4h1.2v1.2h-1.2zM140.5 409.6h1.2v1.2h-1.2zM131.8 407.5h1.2v1.2h-1.2zM130.7 396.5h1.2v1.2h-1.2zM136.4 403.1h1.2v1.2h-1.2zM142.4 402.7h1.2v1.2h-1.2zM131.5 410.3h1.2v1.2h-1.2zM128.9 408.8h1.2v1.2h-1.2zM131.4 410.3h1.2v1.2h-1.2zM135.3 410.3h1.2v1.2h-1.2zM129.8 409.2h1.2v1.2h-1.2zM138.1 410.3h1.2v1.2h-1.2zM126.3 407.9h1.2v1.2h-1.2zM129.6 410.3h1.2v1.2h-1.2zM132.7 408.8h1.2v1.2h-1.2zM132.9 410.3h1.2v1.2h-1.2zM126.9 409.9h1.2v1.2h-1.2zM133.0 410.3h1.2v1.2h-1.2zM132.4 410.3h1.2v1.2h-1.2zM130.2 407.5h1.2v1.2h-1.2zM130.4 409.5h1.2v1.2h-1.2zM126.4 410.3h1.2v1.2h-1.2zM130.2 410.2h1.2v1.2h-1.2zM134.9 410.3h1.2v1.2h-1.2zM130.7 410.3h1.2v1.2h-1.2zM133.8 409.9h1.2v1.2h-1.2zM131.6 409.2h1.2v1.2h-1.2zM130.2 410.3h1.2v1.2h-1.2zM131.7 408.6h1.2v1.2h-1.2zM131.4 410.3h1.2v1.2h-1.2zM133.1 410.3h1.2v1.2h-1.2zM133.4 407.0h1.2v1.2h-1.2zM131.7 409.0h1.2v1.2h-1.2zM127.2 409.8h1.2v1.2h-1.2zM136.1 408.5h1.2v1.2h-1.2zM137.0 410.3h1.2v1.2h-1.2zM136.1 409.9h1.2v1.2h-1.2zM129.5 406.7h1.2v1.2h-1.2zM232.8 295.6h1.2v1.2h-1.2zM231.6 296.3h1.2v1.2h-1.2zM238.8 291.6h1.2v1.2h-1.2zM235.7 296.3h1.2v1.2h-1.2zM236.8 289.5h1.2v1.2h-1.2zM238.3 296.0h1.2v1.2h-1.2zM235.2 293.0h1.2v1.2h-1.2zM229.3 296.3h1.2v1.2h-1.2zM236.2 296.1h1.2v1.2h-1.2zM239.2 296.3h1.2v1.2h-1.2zM228.9 292.4h1.2v1.2h-1.2zM231.7 289.6h1.2v1.2h-1.2zM237.3 295.5h1.2v1.2h-1.2zM234.0 294.0h1.2v1.2h-1.2zM230.9 296.0h1.2v1.2h-1.2zM228.9 296.3h1.2v1.2h-1.2zM233.9 293.3h1.2v1.2h-1.2zM237.1 293.5h1.2v1.2h-1.2zM233.5 296.3h1.2v1.2h-1.2zM229.8 296.3h1.2v1.2h-1.2zM234.1 294.8h1.2v1.2h-1.2zM229.0 296.3h1.2v1.2h-1.2zM238.3 294.3h1.2v1.2h-1.2zM234.5 294.5h1.2v1.2h-1.2zM231.9 291.3h1.2v1.2h-1.2zM228.9 293.0h1.2v1.2h-1.2zM236.3 295.2h1.2v1.2h-1.2zM239.7 291.3h1.2v1.2h-1.2zM233.4 292.8h1.2v1.2h-1.2zM235.1 295.9h1.2v1.2h-1.2zM238.2 295.1h1.2v1.2h-1.2zM236.5 296.3h1.2v1.2h-1.2zM228.9 291.4h1.2v1.2h-1.2zM232.5 296.3h1.2v1.2h-1.2zM231.7 295.6h1.2v1.2h-1.2zM230.3 296.0h1.2v1.2h-1.2zM228.9 295.8h1.2v1.2h-1.2zM233.5 296.3h1.2v1.2h-1.2zM228.9 296.3h1.2v1.2h-1.2zM232.1 293.9h1.2v1.2h-1.2zM234.5 296.3h1.2v1.2h-1.2zM231.8 296.3h1.2v1.2h-1.2zM232.3 293.8h1.2v1.2h-1.2zM234.0 295.1h1.2v1.2h-1.2zM232.0 296.3h1.2v1.2h-1.2zM234.6 293.9h1.2v1.2h-1.2zM234.2 296.3h1.2v1.2h-1.2zM245.7 296.3h1.2v1.2h-1.2zM236.5 294.0h1.2v1.2h-1.2zM232.0 296.3h1.2v1.2h-1.2zM237.7 294.9h1.2v1.2h-1.2zM229.6 296.3h1.2v1.2h-1.2zM238.1 295.1h1.2v1.2h-1.2zM238.4 295.2h1.2v1.2h-1.2zM229.1 296.3h1.2v1.2h-1.2zM231.7 294.4h1.2v1.2h-1.2zM232.1 295.9h1.2v1.2h-1.2zM268.7 293.3h1.2v1.2h-1.2zM262.8 294.1h1.2v1.2h-1.2zM260.5 296.3h1.2v1.2h-1.2zM257.2 296.3h1.2v1.2h-1.2zM263.1 295.1h1.2v1.2h-1.2zM264.3 295.2h1.2v1.2h-1.2zM259.5 296.3h1.2v1.2h-1.2zM256.6 296.3h1.2v1.2h-1.2zM261.1 296.3h1.2v1.2h-1.2zM258.1 295.9h1.2v1.2h-1.2zM262.5 296.3h1.2v1.2h-1.2zM255.5 296.1h1.2v1.2h-1.2zM261.8 296.3h1.2v1.2h-1.2zM231.7 367.2h1.2v1.2h-1.2zM233.1 370.8h1.2v1.2h-1.2zM233.1 372.0h1.2v1.2h-1.2zM234.7 359.8h1.2v1.2h-1.2zM237.2 370.7h1.2v1.2h-1.2zM235.4 368.2h1.2v1.2h-1.2zM238.6 372.7h1.2v1.2h-1.2zM229.6 373.0h1.2v1.2h-1.2zM231.4 366.2h1.2v1.2h-1.2zM233.8 368.6h1.2v1.2h-1.2zM231.8 369.8h1.2v1.2h-1.2zM232.2 364.8h1.2v1.2h-1.2zM235.8 369.9h1.2v1.2h-1.2zM232.0 370.9h1.2v1.2h-1.2zM231.1 371.6h1.2v1.2h-1.2zM229.6 371.4h1.2v1.2h-1.2zM229.6 371.4h1.2v1.2h-1.2zM234.8 372.5h1.2v1.2h-1.2zM238.0 367.1h1.2v1.2h-1.2zM229.6 371.8h1.2v1.2h-1.2zM234.2 368.8h1.2v1.2h-1.2zM233.0 368.9h1.2v1.2h-1.2zM234.5 370.6h1.2v1.2h-1.2zM236.1 373.7h1.2v1.2h-1.2zM232.6 373.0h1.2v1.2h-1.2zM237.0 372.3h1.2v1.2h-1.2zM233.3 371.0h1.2v1.2h-1.2zM229.6 369.4h1.2v1.2h-1.2zM229.6 372.8h1.2v1.2h-1.2zM232.9 373.6h1.2v1.2h-1.2zM232.5 368.3h1.2v1.2h-1.2zM235.4 376.6h1.2v1.2h-1.2zM232.9 365.2h1.2v1.2h-1.2zM230.4 368.0h1.2v1.2h-1.2zM232.6 374.7h1.2v1.2h-1.2zM235.3 373.4h1.2v1.2h-1.2zM232.5 371.7h1.2v1.2h-1.2zM235.8 369.7h1.2v1.2h-1.2zM238.1 370.0h1.2v1.2h-1.2zM252.1 394.4h1.2v1.2h-1.2zM250.0 396.7h1.2v1.2h-1.2zM237.0 403.2h1.2v1.2h-1.2zM239.7 410.3h1.2v1.2h-1.2zM240.7 403.0h1.2v1.2h-1.2zM234.7 397.5h1.2v1.2h-1.2zM240.4 404.8h1.2v1.2h-1.2zM246.9 407.3h1.2v1.2h-1.2zM239.8 410.3h1.2v1.2h-1.2zM236.9 401.0h1.2v1.2h-1.2zM256.7 400.0h1.2v1.2h-1.2zM229.6 401.3h1.2v1.2h-1.2zM241.9 406.4h1.2v1.2h-1.2zM242.6 402.2h1.2v1.2h-1.2zM250.1 404.2h1.2v1.2h-1.2zM250.0 397.4h1.2v1.2h-1.2zM251.2 401.8h1.2v1.2h-1.2zM236.4 404.2h1.2v1.2h-1.2zM232.8 409.8h1.2v1.2h-1.2zM242.2 400.0h1.2v1.2h-1.2zM258.5 410.3h1.2v1.2h-1.2zM232.9 403.9h1.2v1.2h-1.2zM249.3 404.0h1.2v1.2h-1.2zM234.7 401.8h1.2v1.2h-1.2zM242.1 408.0h1.2v1.2h-1.2zM243.1 410.3h1.2v1.2h-1.2zM238.1 402.2h1.2v1.2h-1.2zM242.6 407.1h1.2v1.2h-1.2zM244.4 398.3h1.2v1.2h-1.2zM243.3 410.3h1.2v1.2h-1.2zM232.9 408.9h1.2v1.2h-1.2zM242.8 401.7h1.2v1.2h-1.2zM243.0 398.8h1.2v1.2h-1.2zM241.0 398.6h1.2v1.2h-1.2zM244.0 407.8h1.2v1.2h-1.2zM246.5 406.2h1.2v1.2h-1.2zM243.2 404.3h1.2v1.2h-1.2zM240.1 406.9h1.2v1.2h-1.2zM239.7 406.0h1.2v1.2h-1.2zM242.1 409.8h1.2v1.2h-1.2zM244.4 399.5h1.2v1.2h-1.2zM245.6 409.7h1.2v1.2h-1.2zM244.4 402.9h1.2v1.2h-1.2zM229.6 405.8h1.2v1.2h-1.2zM240.6 404.2h1.2v1.2h-1.2zM247.3 401.6h1.2v1.2h-1.2zM229.6 400.9h1.2v1.2h-1.2zM229.6 403.5h1.2v1.2h-1.2zM248.3 404.9h1.2v1.2h-1.2zM238.5 410.3h1.2v1.2h-1.2zM247.2 407.6h1.2v1.2h-1.2zM233.9 406.6h1.2v1.2h-1.2zM236.4 407.2h1.2v1.2h-1.2zM240.8 400.6h1.2v1.2h-1.2zM236.5 402.4h1.2v1.2h-1.2zM240.3 408.9h1.2v1.2h-1.2zM244.4 400.2h1.2v1.2h-1.2zM253.1 403.9h1.2v1.2h-1.2zM241.7 402.5h1.2v1.2h-1.2zM237.1 408.9h1.2v1.2h-1.2zM230.2 407.2h1.2v1.2h-1.2zM243.5 408.0h1.2v1.2h-1.2zM242.5 400.4h1.2v1.2h-1.2zM229.6 408.6h1.2v1.2h-1.2zM233.8 405.7h1.2v1.2h-1.2zM239.7 405.1h1.2v1.2h-1.2zM239.6 407.2h1.2v1.2h-1.2zM244.9 407.2h1.2v1.2h-1.2zM246.2 399.7h1.2v1.2h-1.2zM241.2 406.3h1.2v1.2h-1.2zM239.7 401.5h1.2v1.2h-1.2zM237.2 402.1h1.2v1.2h-1.2zM229.6 408.1h1.2v1.2h-1.2zM245.4 406.1h1.2v1.2h-1.2zM240.0 396.1h1.2v1.2h-1.2zM242.8 402.4h1.2v1.2h-1.2zM237.3 397.9h1.2v1.2h-1.2zM247.9 409.4h1.2v1.2h-1.2zM244.9 406.3h1.2v1.2h-1.2zM246.5 402.0h1.2v1.2h-1.2zM239.7 400.9h1.2v1.2h-1.2zM249.6 410.3h1.2v1.2h-1.2zM244.5 401.1h1.2v1.2h-1.2zM235.6 409.4h1.2v1.2h-1.2zM243.1 404.7h1.2v1.2h-1.2zM241.7 407.9h1.2v1.2h-1.2zM241.5 407.8h1.2v1.2h-1.2zM249.2 407.1h1.2v1.2h-1.2zM242.9 406.0h1.2v1.2h-1.2zM248.7 407.1h1.2v1.2h-1.2zM243.1 408.1h1.2v1.2h-1.2zM238.6 405.4h1.2v1.2h-1.2zM239.1 410.3h1.2v1.2h-1.2zM235.0 408.2h1.2v1.2h-1.2zM243.8 409.5h1.2v1.2h-1.2zM248.8 404.6h1.2v1.2h-1.2zM241.3 409.4h1.2v1.2h-1.2zM248.0 409.9h1.2v1.2h-1.2zM239.6 406.8h1.2v1.2h-1.2zM240.7 409.6h1.2v1.2h-1.2zM237.4 409.1h1.2v1.2h-1.2zM246.7 409.1h1.2v1.2h-1.2zM234.2 410.3h1.2v1.2h-1.2zM243.7 408.6h1.2v1.2h-1.2zM240.4 410.3h1.2v1.2h-1.2zM247.7 407.9h1.2v1.2h-1.2zM235.5 405.6h1.2v1.2h-1.2zM230.2 407.6h1.2v1.2h-1.2zM237.5 409.5h1.2v1.2h-1.2zM241.3 406.3h1.2v1.2h-1.2zM247.4 409.2h1.2v1.2h-1.2zM229.6 406.1h1.2v1.2h-1.2zM238.7 410.3h1.2v1.2h-1.2zM236.3 410.3h1.2v1.2h-1.2zM247.9 410.3h1.2v1.2h-1.2zM233.4 406.8h1.2v1.2h-1.2zM237.7 409.6h1.2v1.2h-1.2zM236.1 408.4h1.2v1.2h-1.2zM234.4 406.6h1.2v1.2h-1.2zM232.8 402.0h1.2v1.2h-1.2zM243.8 408.0h1.2v1.2h-1.2zM243.3 408.9h1.2v1.2h-1.2zM242.6 409.2h1.2v1.2h-1.2zM244.6 410.3h1.2v1.2h-1.2zM365.3 246.3h1.2v1.2h-1.2zM359.0 243.9h1.2v1.2h-1.2zM362.2 241.4h1.2v1.2h-1.2zM363.1 246.0h1.2v1.2h-1.2zM362.3 246.7h1.2v1.2h-1.2zM364.0 244.4h1.2v1.2h-1.2zM361.5 246.5h1.2v1.2h-1.2zM362.9 249.3h1.2v1.2h-1.2zM364.0 240.5h1.2v1.2h-1.2zM361.7 242.9h1.2v1.2h-1.2zM365.3 246.8h1.2v1.2h-1.2zM362.4 242.8h1.2v1.2h-1.2zM342.2 296.2h1.2v1.2h-1.2zM334.1 291.8h1.2v1.2h-1.2zM338.3 294.0h1.2v1.2h-1.2zM336.0 292.5h1.2v1.2h-1.2zM340.1 293.0h1.2v1.2h-1.2zM339.5 291.1h1.2v1.2h-1.2zM339.3 296.3h1.2v1.2h-1.2zM336.8 295.6h1.2v1.2h-1.2zM334.1 293.4h1.2v1.2h-1.2zM332.9 291.1h1.2v1.2h-1.2zM334.6 293.1h1.2v1.2h-1.2zM336.5 293.4h1.2v1.2h-1.2zM332.9 291.8h1.2v1.2h-1.2zM334.7 294.0h1.2v1.2h-1.2zM336.1 296.3h1.2v1.2h-1.2zM332.9 293.9h1.2v1.2h-1.2zM332.9 293.1h1.2v1.2h-1.2zM337.7 287.7h1.2v1.2h-1.2zM341.2 290.2h1.2v1.2h-1.2zM334.1 296.3h1.2v1.2h-1.2zM334.7 293.4h1.2v1.2h-1.2zM345.0 288.8h1.2v1.2h-1.2zM335.8 293.3h1.2v1.2h-1.2zM337.7 290.6h1.2v1.2h-1.2zM335.3 291.0h1.2v1.2h-1.2zM338.6 293.8h1.2v1.2h-1.2zM345.0 296.3h1.2v1.2h-1.2zM332.9 296.3h1.2v1.2h-1.2zM334.8 291.0h1.2v1.2h-1.2zM340.1 292.8h1.2v1.2h-1.2zM332.9 293.2h1.2v1.2h-1.2zM339.1 295.3h1.2v1.2h-1.2zM337.5 290.2h1.2v1.2h-1.2zM333.9 295.5h1.2v1.2h-1.2zM342.5 294.5h1.2v1.2h-1.2zM340.1 292.3h1.2v1.2h-1.2zM335.6 296.3h1.2v1.2h-1.2zM336.4 289.1h1.2v1.2h-1.2zM333.3 296.3h1.2v1.2h-1.2zM335.5 289.8h1.2v1.2h-1.2zM339.3 289.2h1.2v1.2h-1.2zM333.4 290.7h1.2v1.2h-1.2zM338.5 287.5h1.2v1.2h-1.2zM334.5 296.0h1.2v1.2h-1.2zM336.0 296.3h1.2v1.2h-1.2zM338.1 296.3h1.2v1.2h-1.2zM335.4 295.9h1.2v1.2h-1.2zM341.3 294.8h1.2v1.2h-1.2zM344.7 296.3h1.2v1.2h-1.2zM335.1 293.0h1.2v1.2h-1.2zM338.0 295.9h1.2v1.2h-1.2zM337.5 294.1h1.2v1.2h-1.2zM332.9 295.8h1.2v1.2h-1.2zM338.8 296.3h1.2v1.2h-1.2zM336.8 294.6h1.2v1.2h-1.2zM347.8 356.8h1.2v1.2h-1.2zM351.4 356.0h1.2v1.2h-1.2zM345.8 351.3h1.2v1.2h-1.2zM346.3 355.2h1.2v1.2h-1.2zM349.2 355.5h1.2v1.2h-1.2zM343.5 355.2h1.2v1.2h-1.2zM346.1 359.3h1.2v1.2h-1.2zM348.1 357.2h1.2v1.2h-1.2zM345.6 354.6h1.2v1.2h-1.2zM350.6 353.3h1.2v1.2h-1.2zM345.2 355.9h1.2v1.2h-1.2zM345.9 352.7h1.2v1.2h-1.2zM345.9 356.9h1.2v1.2h-1.2zM348.3 352.2h1.2v1.2h-1.2zM347.8 352.9h1.2v1.2h-1.2zM347.3 354.6h1.2v1.2h-1.2zM353.5 355.3h1.2v1.2h-1.2zM344.1 350.3h1.2v1.2h-1.2zM342.4 353.2h1.2v1.2h-1.2zM346.5 350.4h1.2v1.2h-1.2zM343.5 352.2h1.2v1.2h-1.2zM344.1 348.7h1.2v1.2h-1.2zM346.3 355.7h1.2v1.2h-1.2zM347.5 351.1h1.2v1.2h-1.2zM346.2 353.7h1.2v1.2h-1.2zM345.4 354.8h1.2v1.2h-1.2zM349.4 356.2h1.2v1.2h-1.2zM346.5 357.3h1.2v1.2h-1.2zM348.2 352.1h1.2v1.2h-1.2zM346.4 351.9h1.2v1.2h-1.2zM347.3 354.7h1.2v1.2h-1.2zM341.2 352.3h1.2v1.2h-1.2zM341.3 353.3h1.2v1.2h-1.2zM349.7 354.2h1.2v1.2h-1.2zM348.7 352.1h1.2v1.2h-1.2zM341.3 353.1h1.2v1.2h-1.2zM350.1 354.1h1.2v1.2h-1.2zM344.9 355.7h1.2v1.2h-1.2zM343.0 351.2h1.2v1.2h-1.2zM349.4 355.6h1.2v1.2h-1.2zM345.7 349.8h1.2v1.2h-1.2zM339.9 410.3h1.2v1.2h-1.2zM340.4 405.3h1.2v1.2h-1.2zM343.9 405.5h1.2v1.2h-1.2zM336.8 407.2h1.2v1.2h-1.2zM339.1 410.3h1.2v1.2h-1.2zM332.9 408.8h1.2v1.2h-1.2zM334.5 410.3h1.2v1.2h-1.2zM340.1 410.3h1.2v1.2h-1.2zM335.5 410.3h1.2v1.2h-1.2zM333.8 407.2h1.2v1.2h-1.2zM340.8 406.4h1.2v1.2h-1.2zM333.4 410.2h1.2v1.2h-1.2zM337.2 405.5h1.2v1.2h-1.2zM335.3 407.9h1.2v1.2h-1.2zM337.5 410.3h1.2v1.2h-1.2zM332.4 405.7h1.2v1.2h-1.2zM337.4 404.6h1.2v1.2h-1.2zM333.0 407.5h1.2v1.2h-1.2zM335.0 410.3h1.2v1.2h-1.2zM334.8 410.3h1.2v1.2h-1.2zM336.2 409.3h1.2v1.2h-1.2zM335.3 409.0h1.2v1.2h-1.2zM335.5 402.2h1.2v1.2h-1.2zM333.8 405.5h1.2v1.2h-1.2zM338.9 400.2h1.2v1.2h-1.2zM337.7 410.3h1.2v1.2h-1.2zM333.8 403.5h1.2v1.2h-1.2zM332.5 407.6h1.2v1.2h-1.2zM335.5 402.6h1.2v1.2h-1.2zM336.4 404.6h1.2v1.2h-1.2zM339.3 404.2h1.2v1.2h-1.2zM332.4 407.5h1.2v1.2h-1.2zM338.2 410.3h1.2v1.2h-1.2zM334.5 410.3h1.2v1.2h-1.2zM339.0 402.0h1.2v1.2h-1.2zM337.3 405.0h1.2v1.2h-1.2zM334.1 409.5h1.2v1.2h-1.2zM333.3 409.9h1.2v1.2h-1.2zM332.4 408.9h1.2v1.2h-1.2zM337.4 410.3h1.2v1.2h-1.2zM335.5 410.3h1.2v1.2h-1.2zM335.7 402.5h1.2v1.2h-1.2zM337.8 409.0h1.2v1.2h-1.2zM337.6 406.8h1.2v1.2h-1.2zM332.9 410.3h1.2v1.2h-1.2zM332.4 407.2h1.2v1.2h-1.2zM332.4 410.3h1.2v1.2h-1.2zM334.1 410.1h1.2v1.2h-1.2zM337.2 410.3h1.2v1.2h-1.2zM335.0 405.6h1.2v1.2h-1.2zM339.6 403.7h1.2v1.2h-1.2zM334.0 408.0h1.2v1.2h-1.2zM337.2 407.1h1.2v1.2h-1.2zM337.8 410.3h1.2v1.2h-1.2zM335.8 405.2h1.2v1.2h-1.2zM335.3 404.1h1.2v1.2h-1.2zM332.4 408.5h1.2v1.2h-1.2zM342.0 406.8h1.2v1.2h-1.2zM332.4 406.6h1.2v1.2h-1.2zM337.9 410.3h1.2v1.2h-1.2zM335.4 410.1h1.2v1.2h-1.2zM341.3 408.2h1.2v1.2h-1.2zM332.4 409.8h1.2v1.2h-1.2zM335.9 410.3h1.2v1.2h-1.2zM341.0 410.3h1.2v1.2h-1.2zM334.4 410.3h1.2v1.2h-1.2zM333.7 410.3h1.2v1.2h-1.2zM343.5 408.8h1.2v1.2h-1.2zM333.9 410.3h1.2v1.2h-1.2zM333.1 410.3h1.2v1.2h-1.2zM333.9 408.9h1.2v1.2h-1.2zM332.4 410.3h1.2v1.2h-1.2zM332.5 408.4h1.2v1.2h-1.2zM334.0 409.2h1.2v1.2h-1.2zM472.4 272.6h1.2v1.2h-1.2zM471.4 267.9h1.2v1.2h-1.2zM471.3 270.4h1.2v1.2h-1.2zM471.1 265.0h1.2v1.2h-1.2zM470.3 267.3h1.2v1.2h-1.2zM470.3 270.6h1.2v1.2h-1.2zM469.9 269.9h1.2v1.2h-1.2zM471.4 264.4h1.2v1.2h-1.2zM473.1 270.1h1.2v1.2h-1.2zM471.0 265.0h1.2v1.2h-1.2zM471.8 272.3h1.2v1.2h-1.2zM473.4 263.7h1.2v1.2h-1.2zM435.9 283.2h1.2v1.2h-1.2zM437.3 290.1h1.2v1.2h-1.2zM441.8 289.7h1.2v1.2h-1.2zM445.1 289.5h1.2v1.2h-1.2zM444.0 290.5h1.2v1.2h-1.2zM442.5 292.8h1.2v1.2h-1.2zM435.9 294.1h1.2v1.2h-1.2zM437.3 292.8h1.2v1.2h-1.2zM435.9 293.2h1.2v1.2h-1.2zM444.5 296.3h1.2v1.2h-1.2zM441.3 287.3h1.2v1.2h-1.2zM447.0 296.3h1.2v1.2h-1.2zM438.6 292.2h1.2v1.2h-1.2zM436.7 288.7h1.2v1.2h-1.2zM438.2 289.7h1.2v1.2h-1.2zM435.9 295.3h1.2v1.2h-1.2zM451.8 288.1h1.2v1.2h-1.2zM444.3 296.3h1.2v1.2h-1.2zM435.9 296.3h1.2v1.2h-1.2zM444.5 293.0h1.2v1.2h-1.2zM440.7 296.3h1.2v1.2h-1.2zM435.9 296.3h1.2v1.2h-1.2zM440.1 292.3h1.2v1.2h-1.2zM442.5 296.3h1.2v1.2h-1.2zM435.9 295.5h1.2v1.2h-1.2zM435.9 296.1h1.2v1.2h-1.2zM435.9 292.3h1.2v1.2h-1.2zM442.1 289.8h1.2v1.2h-1.2zM437.9 294.9h1.2v1.2h-1.2zM448.9 293.1h1.2v1.2h-1.2zM435.9 290.6h1.2v1.2h-1.2zM449.8 294.6h1.2v1.2h-1.2zM442.1 296.3h1.2v1.2h-1.2zM442.0 288.6h1.2v1.2h-1.2zM447.3 291.3h1.2v1.2h-1.2zM440.7 289.3h1.2v1.2h-1.2zM439.8 295.0h1.2v1.2h-1.2zM438.9 293.5h1.2v1.2h-1.2zM435.9 296.0h1.2v1.2h-1.2zM444.2 291.2h1.2v1.2h-1.2zM438.1 290.3h1.2v1.2h-1.2zM436.8 294.7h1.2v1.2h-1.2zM445.8 296.3h1.2v1.2h-1.2zM437.4 292.3h1.2v1.2h-1.2zM445.4 296.3h1.2v1.2h-1.2zM438.9 288.0h1.2v1.2h-1.2zM439.6 293.9h1.2v1.2h-1.2zM435.9 296.0h1.2v1.2h-1.2zM441.4 294.0h1.2v1.2h-1.2zM438.4 292.8h1.2v1.2h-1.2zM439.9 289.7h1.2v1.2h-1.2zM437.8 296.3h1.2v1.2h-1.2zM435.9 294.3h1.2v1.2h-1.2zM439.0 294.1h1.2v1.2h-1.2zM435.9 292.6h1.2v1.2h-1.2zM439.2 292.7h1.2v1.2h-1.2zM438.7 295.8h1.2v1.2h-1.2zM441.3 295.9h1.2v1.2h-1.2zM439.3 289.0h1.2v1.2h-1.2zM445.9 296.1h1.2v1.2h-1.2zM444.1 294.5h1.2v1.2h-1.2zM444.4 295.5h1.2v1.2h-1.2zM439.8 296.3h1.2v1.2h-1.2zM439.2 296.3h1.2v1.2h-1.2zM443.0 296.3h1.2v1.2h-1.2zM437.5 295.5h1.2v1.2h-1.2zM440.3 295.8h1.2v1.2h-1.2zM436.8 294.9h1.2v1.2h-1.2zM453.5 294.6h1.2v1.2h-1.2zM443.2 296.3h1.2v1.2h-1.2zM435.9 294.9h1.2v1.2h-1.2zM438.2 294.3h1.2v1.2h-1.2zM440.4 294.8h1.2v1.2h-1.2zM440.6 296.3h1.2v1.2h-1.2zM435.9 296.3h1.2v1.2h-1.2zM443.8 294.6h1.2v1.2h-1.2zM439.5 296.3h1.2v1.2h-1.2zM446.0 296.3h1.2v1.2h-1.2zM441.3 294.7h1.2v1.2h-1.2zM464.4 284.9h1.2v1.2h-1.2zM465.2 287.1h1.2v1.2h-1.2zM465.2 288.4h1.2v1.2h-1.2zM467.6 287.4h1.2v1.2h-1.2zM435.6 405.4h1.2v1.2h-1.2zM435.6 406.5h1.2v1.2h-1.2zM435.6 403.6h1.2v1.2h-1.2zM437.4 408.9h1.2v1.2h-1.2zM443.7 397.8h1.2v1.2h-1.2zM450.2 401.3h1.2v1.2h-1.2zM436.9 409.8h1.2v1.2h-1.2zM441.7 410.3h1.2v1.2h-1.2zM444.9 410.3h1.2v1.2h-1.2zM440.3 405.6h1.2v1.2h-1.2zM441.7 404.7h1.2v1.2h-1.2zM441.9 403.4h1.2v1.2h-1.2zM436.9 410.3h1.2v1.2h-1.2zM442.9 406.8h1.2v1.2h-1.2zM442.8 407.4h1.2v1.2h-1.2zM435.6 403.4h1.2v1.2h-1.2zM443.1 410.3h1.2v1.2h-1.2zM438.6 409.5h1.2v1.2h-1.2zM438.1 410.3h1.2v1.2h-1.2zM440.0 401.3h1.2v1.2h-1.2zM442.8 405.5h1.2v1.2h-1.2zM444.5 410.3h1.2v1.2h-1.2zM435.6 410.3h1.2v1.2h-1.2zM445.9 410.3h1.2v1.2h-1.2zM449.0 402.2h1.2v1.2h-1.2zM443.2 400.9h1.2v1.2h-1.2zM445.8 400.7h1.2v1.2h-1.2zM435.6 409.5h1.2v1.2h-1.2zM444.2 408.4h1.2v1.2h-1.2zM439.4 404.6h1.2v1.2h-1.2zM445.9 403.3h1.2v1.2h-1.2zM435.6 402.1h1.2v1.2h-1.2zM435.6 401.0h1.2v1.2h-1.2zM435.6 408.4h1.2v1.2h-1.2zM437.9 408.2h1.2v1.2h-1.2zM446.0 409.8h1.2v1.2h-1.2zM438.7 406.5h1.2v1.2h-1.2zM439.0 406.4h1.2v1.2h-1.2zM435.6 408.4h1.2v1.2h-1.2zM440.3 404.1h1.2v1.2h-1.2zM442.1 404.2h1.2v1.2h-1.2zM439.8 404.7h1.2v1.2h-1.2zM438.5 408.5h1.2v1.2h-1.2zM441.0 410.3h1.2v1.2h-1.2zM441.9 405.8h1.2v1.2h-1.2zM440.1 407.4h1.2v1.2h-1.2zM451.0 405.9h1.2v1.2h-1.2zM440.1 400.7h1.2v1.2h-1.2zM435.6 409.6h1.2v1.2h-1.2zM442.5 406.1h1.2v1.2h-1.2zM441.7 410.3h1.2v1.2h-1.2zM441.4 403.5h1.2v1.2h-1.2zM440.1 405.2h1.2v1.2h-1.2zM439.5 410.3h1.2v1.2h-1.2zM446.5 403.9h1.2v1.2h-1.2zM439.4 409.8h1.2v1.2h-1.2zM444.2 399.4h1.2v1.2h-1.2zM448.8 405.7h1.2v1.2h-1.2zM444.3 406.0h1.2v1.2h-1.2zM437.5 410.3h1.2v1.2h-1.2zM440.4 402.9h1.2v1.2h-1.2zM437.0 410.3h1.2v1.2h-1.2zM442.1 403.5h1.2v1.2h-1.2zM444.6 401.4h1.2v1.2h-1.2zM444.9 409.4h1.2v1.2h-1.2zM435.6 403.2h1.2v1.2h-1.2zM448.6 401.2h1.2v1.2h-1.2zM444.1 403.1h1.2v1.2h-1.2zM439.2 401.2h1.2v1.2h-1.2zM442.3 405.8h1.2v1.2h-1.2zM437.2 405.9h1.2v1.2h-1.2zM445.3 406.4h1.2v1.2h-1.2zM435.6 403.8h1.2v1.2h-1.2zM452.8 395.0h1.2v1.2h-1.2zM435.6 410.3h1.2v1.2h-1.2zM442.8 410.3h1.2v1.2h-1.2zM440.7 410.3h1.2v1.2h-1.2zM438.7 404.7h1.2v1.2h-1.2zM441.6 405.8h1.2v1.2h-1.2zM448.8 398.8h1.2v1.2h-1.2zM441.1 408.8h1.2v1.2h-1.2zM441.4 410.3h1.2v1.2h-1.2zM440.7 410.3h1.2v1.2h-1.2zM441.5 410.3h1.2v1.2h-1.2zM436.7 410.3h1.2v1.2h-1.2zM435.7 409.7h1.2v1.2h-1.2zM435.6 410.3h1.2v1.2h-1.2zM440.6 410.3h1.2v1.2h-1.2zM435.6 410.3h1.2v1.2h-1.2zM435.6 410.3h1.2v1.2h-1.2zM446.4 407.3h1.2v1.2h-1.2zM435.6 410.3h1.2v1.2h-1.2zM442.6 410.3h1.2v1.2h-1.2zM436.8 410.3h1.2v1.2h-1.2zM445.6 410.3h1.2v1.2h-1.2zM435.6 408.7h1.2v1.2h-1.2zM449.5 410.3h1.2v1.2h-1.2zM439.3 410.2h1.2v1.2h-1.2zM437.8 409.8h1.2v1.2h-1.2zM438.4 406.7h1.2v1.2h-1.2zM441.3 410.3h1.2v1.2h-1.2zM441.9 410.3h1.2v1.2h-1.2zM439.2 409.1h1.2v1.2h-1.2zM437.9 409.2h1.2v1.2h-1.2zM442.6 410.3h1.2v1.2h-1.2zM439.4 408.7h1.2v1.2h-1.2zM440.6 410.3h1.2v1.2h-1.2zM452.9 409.9h1.2v1.2h-1.2zM444.9 409.1h1.2v1.2h-1.2zM443.4 409.3h1.2v1.2h-1.2zM439.2 408.5h1.2v1.2h-1.2z"/>
<path fill="rgb(63,63,63)" d="M30.4 249.8h1.0v1.0h-1.0zM34.1 243.7h1.0v1.0h-1.0zM26.0 247.1h1.0v1.0h-1.0zM34.7 247.8h1.0v1.0h-1.0zM28.4 248.7h1.0v1.0h-1.0zM25.6 243.7h1.0v1.0h-1.0zM30.7 244.5h1.0v1.0h-1.0zM38.3 246.1h1.0v1.0h-1.0zM28.2 247.0h1.0v1.0h-1.0zM52.4 294.0h1.0v1.0h-1.0zM54.5 291.1h1.0v1.0h-1.0zM44.5 291.7h1.0v1.0h-1.0zM53.7 292.7h1.0v1.0h-1.0zM62.5 284.5h1.0v1.0h-1.0zM52.6 287.7h1.0v1.0h-1.0zM54.6 293.9h1.0v1.0h-1.0zM46.7 282.6h1.0v1.0h-1.0zM56.6 288.6h1.0v1.0h-1.0zM55.4 283.1h1.0v1.0h-1.0zM49.1 288.6h1.0v1.0h-1.0zM52.2 292.8h1.0v1.0h-1.0zM48.3 289.9h1.0v1.0h-1.0zM57.0 288.8h1.0v1.0h-1.0zM33.9 366.6h1.0v1.0h-1.0zM34.7 361.6h1.0v1.0h-1.0zM32.8 363.1h1.0v1.0h-1.0zM44.3 358.8h1.0v1.0h-1.0zM32.7 363.9h1.0v1.0h-1.0zM29.8 358.9h1.0v1.0h-1.0zM32.0 362.6h1.0v1.0h-1.0zM33.2 354.2h1.0v1.0h-1.0zM42.7 365.7h1.0v1.0h-1.0zM65.1 365.9h1.0v1.0h-1.0zM64.6 364.9h1.0v1.0h-1.0zM133.6 255.3h1.0v1.0h-1.0zM128.3 251.1h1.0v1.0h-1.0zM127.3 249.4h1.0v1.0h-1.0zM133.1 250.4h1.0v1.0h-1.0zM158.6 294.4h1.0v1.0h-1.0zM158.8 293.7h1.0v1.0h-1.0zM150.2 293.8h1.0v1.0h-1.0zM153.0 293.4h1.0v1.0h-1.0zM157.2 288.8h1.0v1.0h-1.0zM159.5 293.0h1.0v1.0h-1.0zM157.9 289.5h1.0v1.0h-1.0zM156.5 295.5h1.0v1.0h-1.0zM152.8 293.7h1.0v1.0h-1.0zM148.5 291.6h1.0v1.0h-1.0zM157.0 291.0h1.0v1.0h-1.0zM160.4 296.5h1.0v1.0h-1.0zM165.1 289.6h1.0v1.0h-1.0zM156.4 294.7h1.0v1.0h-1.0zM154.8 289.2h1.0v1.0h-1.0zM154.2 295.1h1.0v1.0h-1.0zM144.4 369.8h1.0v1.0h-1.0zM139.5 356.9h1.0v1.0h-1.0zM143.3 359.5h1.0v1.0h-1.0zM126.3 360.5h1.0v1.0h-1.0zM127.3 365.6h1.0v1.0h-1.0zM127.1 378.0h1.0v1.0h-1.0zM136.5 348.3h1.0v1.0h-1.0zM137.7 350.0h1.0v1.0h-1.0zM143.0 372.7h1.0v1.0h-1.0zM126.3 375.1h1.0v1.0h-1.0zM235.3 255.7h1.0v1.0h-1.0zM234.0 253.5h1.0v1.0h-1.0zM228.9 252.9h1.0v1.0h-1.0zM236.3 253.7h1.0v1.0h-1.0zM228.9 249.9h1.0v1.0h-1.0zM234.9 256.0h1.0v1.0h-1.0zM232.3 250.6h1.0v1.0h-1.0zM260.9 296.5h1.0v1.0h-1.0zM257.1 290.9h1.0v1.0h-1.0zM262.5 287.2h1.0v1.0h-1.0zM264.1 293.4h1.0v1.0h-1.0zM248.7 295.9h1.0v1.0h-1.0zM257.7 292.9h1.0v1.0h-1.0zM254.9 296.5h1.0v1.0h-1.0zM257.8 294.7h1.0v1.0h-1.0zM260.3 291.7h1.0v1.0h-1.0zM255.9 292.5h1.0v1.0h-1.0zM260.1 296.5h1.0v1.0h-1.0zM258.4 295.9h1.0v1.0h-1.0zM254.9 292.8h1.0v1.0h-1.0zM362.4 247.3h1.0v1.0h-1.0zM359.3 245.4h1.0v1.0h-1.0zM369.4 254.4h1.0v1.0h-1.0zM363.8 286.8h1.0v1.0h-1.0zM368.3 291.7h1.0v1.0h-1.0zM368.5 285.5h1.0v1.0h-1.0zM367.2 296.3h1.0v1.0h-1.0zM367.6 296.5h1.0v1.0h-1.0zM365.2 289.5h1.0v1.0h-1.0zM368.8 296.5h1.0v1.0h-1.0zM364.9 296.5h1.0v1.0h-1.0zM368.4 289.5h1.0v1.0h-1.0zM368.0 294.3h1.0v1.0h-1.0zM348.0 369.1h1.0v1.0h-1.0zM349.1 372.5h1.0v1.0h-1.0zM350.3 385.9h1.0v1.0h-1.0zM332.4 400.7h1.0v1.0h-1.0zM353.0 368.2h1.0v1.0h-1.0zM340.7 359.4h1.0v1.0h-1.0zM336.0 383.2h1.0v1.0h-1.0zM342.1 371.3h1.0v1.0h-1.0zM355.1 375.2h1.0v1.0h-1.0zM336.7 358.6h1.0v1.0h-1.0zM337.0 378.0h1.0v1.0h-1.0zM347.2 376.2h1.0v1.0h-1.0zM341.3 361.9h1.0v1.0h-1.0zM340.3 360.6h1.0v1.0h-1.0zM340.8 373.4h1.0v1.0h-1.0zM348.7 371.3h1.0v1.0h-1.0zM346.1 377.3h1.0v1.0h-1.0zM370.1 407.8h1.0v1.0h-1.0zM372.1 403.2h1.0v1.0h-1.0zM370.7 401.8h1.0v1.0h-1.0zM372.8 404.2h1.0v1.0h-1.0zM470.5 291.5h1.0v1.0h-1.0zM465.4 296.5h1.0v1.0h-1.0zM466.5 290.2h1.0v1.0h-1.0zM463.8 285.8h1.0v1.0h-1.0zM463.7 290.8h1.0v1.0h-1.0zM463.1 289.2h1.0v1.0h-1.0zM463.9 281.8h1.0v1.0h-1.0zM465.0 287.5h1.0v1.0h-1.0zM454.5 379.8h1.0v1.0h-1.0zM446.6 382.2h1.0v1.0h-1.0zM461.6 372.9h1.0v1.0h-1.0zM446.7 375.7h1.0v1.0h-1.0zM457.7 364.3h1.0v1.0h-1.0zM452.0 371.6h1.0v1.0h-1.0zM450.1 374.2h1.0v1.0h-1.0zM453.6 382.0h1.0v1.0h-1.0zM449.0 378.8h1.0v1.0h-1.0zM450.2 372.5h1.0v1.0h-1.0zM450.3 377.9h1.0v1.0h-1.0zM444.2 370.2h1.0v1.0h-1.0zM445.5 400.6h1.0v1.0h-1.0zM441.7 395.6h1.0v1.0h-1.0zM445.6 399.4h1.0v1.0h-1.0zM446.1 403.6h1.0v1.0h-1.0zM440.5 407.0h1.0v1.0h-1.0zM443.1 406.5h1.0v1.0h-1.0zM477.3 403.3h1.0v1.0h-1.0zM478.3 405.7h1.0v1.0h-1.0zM480.5 403.1h1.0v1.0h-1.0zM474.4 406.9h1.0v1.0h-1.0zM478.0 405.4h1.0v1.0h-1.0zM477.2 403.2h1.0v1.0h-1.0z"/>
<path fill="rgb(63,63,63)" d="M24.1 248.3h1.2v1.2h-1.2zM25.3 246.4h1.2v1.2h-1.2zM23.3 246.1h1.2v1.2h-1.2zM22.3 246.4h1.2v1.2h-1.2zM26.4 248.7h1.2v1.2h-1.2zM22.9 244.7h1.2v1.2h-1.2zM26.1 246.3h1.2v1.2h-1.2zM24.3 246.9h1.2v1.2h-1.2zM22.2 242.9h1.2v1.2h-1.2zM24.2 249.1h1.2v1.2h-1.2zM25.3 247.8h1.2v1.2h-1.2zM22.2 246.3h1.2v1.2h-1.2zM25.0 249.5h1.2v1.2h-1.2zM23.7 245.4h1.2v1.2h-1.2zM25.5 243.8h1.2v1.2h-1.2zM33.1 289.9h1.2v1.2h-1.2zM27.8 293.9h1.2v1.2h-1.2zM28.9 291.7h1.2v1.2h-1.2zM31.1 294.9h1.2v1.2h-1.2zM29.4 287.3h1.2v1.2h-1.2zM22.2 292.5h1.2v1.2h-1.2zM22.2 288.3h1.2v1.2h-1.2zM32.7 296.0h1.2v1.2h-1.2zM22.2 292.2h1.2v1.2h-1.2zM28.5 290.7h1.2v1.2h-1.2zM22.2 295.0h1.2v1.2h-1.2zM38.2 295.0h1.2v1.2h-1.2zM29.3 290.0h1.2v1.2h-1.2zM32.2 286.6h1.2v1.2h-1.2zM29.9 292.4h1.2v1.2h-1.2zM33.6 285.5h1.2v1.2h-1.2zM28.7 286.3h1.2v1.2h-1.2zM31.2 291.2h1.2v1.2h-1.2zM27.9 290.6h1.2v1.2h-1.2zM33.6 288.3h1.2v1.2h-1.2zM22.2 291.2h1.2v1.2h-1.2zM31.5 287.3h1.2v1.2h-1.2zM35.5 295.5h1.2v1.2h-1.2zM24.3 287.9h1.2v1.2h-1.2zM28.3 291.4h1.2v1.2h-1.2zM27.8 290.3h1.2v1.2h-1.2zM28.3 289.0h1.2v1.2h-1.2zM22.2 292.1h1.2v1.2h-1.2zM30.8 293.5h1.2v1.2h-1.2zM32.0 292.4h1.2v1.2h-1.2zM31.6 290.6h1.2v1.2h-1.2zM37.7 289.4h1.2v1.2h-1.2zM28.2 287.6h1.2v1.2h-1.2zM26.4 296.3h1.2v1.2h-1.2zM32.5 295.8h1.2v1.2h-1.2zM28.4 296.3h1.2v1.2h-1.2zM32.9 296.3h1.2v1.2h-1.2zM38.0 295.2h1.2v1.2h-1.2zM30.0 295.9h1.2v1.2h-1.2zM33.2 295.1h1.2v1.2h-1.2zM27.4 294.2h1.2v1.2h-1.2zM28.6 296.3h1.2v1.2h-1.2zM22.2 296.3h1.2v1.2h-1.2zM28.9 296.3h1.2v1.2h-1.2zM27.3 295.2h1.2v1.2h-1.2zM32.9 295.7h1.2v1.2h-1.2zM29.1 296.3h1.2v1.2h-1.2zM22.2 296.3h1.2v1.2h-1.2zM28.7 295.6h1.2v1.2h-1.2zM55.2 295.6h1.2v1.2h-1.2zM57.3 296.3h1.2v1.2h-1.2zM58.3 295.0h1.2v1.2h-1.2zM47.3 296.3h1.2v1.2h-1.2zM58.7 296.3h1.2v1.2h-1.2zM49.6 295.0h1.2v1.2h-1.2zM52.3 296.3h1.2v1.2h-1.2zM52.9 296.0h1.2v1.2h-1.2zM50.8 296.0h1.2v1.2h-1.2zM52.5 295.9h1.2v1.2h-1.2zM59.4 296.3h1.2v1.2h-1.2zM62.0 292.8h1.2v1.2h-1.2zM57.1 296.3h1.2v1.2h-1.2zM51.2 295.0h1.2v1.2h-1.2zM48.7 295.4h1.2v1.2h-1.2zM63.7 296.3h1.2v1.2h-1.2zM26.5 365.1h1.2v1.2h-1.2zM26.7 363.2h1.2v1.2h-1.2zM25.9 362.8h1.2v1.2h-1.2zM23.3 361.8h1.2v1.2h-1.2zM22.4 364.1h1.2v1.2h-1.2zM29.9 360.3h1.2v1.2h-1.2zM31.7 362.7h1.2v1.2h-1.2zM28.5 362.9h1.2v1.2h-1.2zM23.9 358.9h1.2v1.2h-1.2zM25.8 360.7h1.2v1.2h-1.2zM22.8 360.3h1.2v1.2h-1.2zM29.2 362.2h1.2v1.2h-1.2zM63.4 359.8h1.2v1.2h-1.2zM64.2 360.4h1.2v1.2h-1.2zM63.9 363.2h1.2v1.2h-1.2zM62.9 363.9h1.2v1.2h-1.2zM29.8 410.3h1.2v1.2h-1.2zM29.8 404.9h1.2v1.2h-1.2zM22.8 409.7h1.2v1.2h-1.2zM26.6 407.7h1.2v1.2h-1.2zM24.4 406.9h1.2v1.2h-1.2zM23.2 407.8h1.2v1.2h-1.2zM28.6 409.4h1.2v1.2h-1.2zM33.7 410.3h1.2v1.2h-1.2zM25.9 406.3h1.2v1.2h-1.2zM24.1 405.2h1.2v1.2h-1.2zM25.6 408.3h1.2v1.2h-1.2zM23.8 409.2h1.2v1.2h-1.2zM22.9 410.3h1.2v1.2h-1.2zM29.4 406.9h1.2v1.2h-1.2zM33.1 406.3h1.2v1.2h-1.2zM24.7 404.3h1.2v1.2h-1.2zM30.3 406.9h1.2v1.2h-1.2zM24.2 408.1h1.2v1.2h-1.2zM29.2 407.8h1.2v1.2h-1.2zM23.9 408.5h1.2v1.2h-1.2zM30.4 407.8h1.2v1.2h-1.2zM28.3 407.6h1.2v1.2h-1.2zM29.7 407.7h1.2v1.2h-1.2zM26.3 406.7h1.2v1.2h-1.2zM24.4 409.2h1.2v1.2h-1.2zM34.7 407.5h1.2v1.2h-1.2zM24.0 406.5h1.2v1.2h-1.2zM35.1 408.8h1.2v1.2h-1.2zM24.4 406.2h1.2v1.2h-1.2zM33.5 406.5h1.2v1.2h-1.2zM24.6 405.8h1.2v1.2h-1.2zM27.7 406.7h1.2v1.2h-1.2zM29.4 408.5h1.2v1.2h-1.2zM32.0 404.8h1.2v1.2h-1.2zM27.1 409.9h1.2v1.2h-1.2zM30.1 407.7h1.2v1.2h-1.2zM30.9 408.2h1.2v1.2h-1.2zM32.8 408.2h1.2v1.2h-1.2zM27.3 408.5h1.2v1.2h-1.2zM35.3 406.1h1.2v1.2h-1.2zM32.9 407.0h1.2v1.2h-1.2zM45.0 408.6h1.2v1.2h-1.2zM29.9 404.5h1.2v1.2h-1.2zM24.4 410.3h1.2v1.2h-1.2zM25.0 408.4h1.2v1.2h-1.2zM45.1 404.1h1.2v1.2h-1.2zM22.4 399.7h1.2v1.2h-1.2zM37.8 404.0h1.2v1.2h-1.2zM22.4 401.4h1.2v1.2h-1.2zM22.5 409.0h1.2v1.2h-1.2zM33.7 405.7h1.2v1.2h-1.2zM38.0 399.1h1.2v1.2h-1.2zM29.6 410.3h1.2v1.2h-1.2zM40.6 409.1h1.2v1.2h-1.2zM33.0 410.3h1.2v1.2h-1.2zM44.3 410.3h1.2v1.2h-1.2zM29.2 407.8h1.2v1.2h-1.2zM33.0 404.2h1.2v1.2h-1.2zM55.7 409.1h1.2v1.2h-1.2zM37.9 405.7h1.2v1.2h-1.2zM22.4 398.8h1.2v1.2h-1.2zM46.1 401.5h1.2v1.2h-1.2zM45.3 408.5h1.2v1.2h-1.2zM28.9 403.5h1.2v1.2h-1.2zM31.3 405.9h1.2v1.2h-1.2zM35.3 410.3h1.2v1.2h-1.2zM47.0 410.3h1.2v1.2h-1.2zM35.9 402.4h1.2v1.2h-1.2zM35.5 409.1h1.2v1.2h-1.2zM34.1 405.7h1.2v1.2h-1.2zM37.7 410.3h1.2v1.2h-1.2zM34.9 410.3h1.2v1.2h-1.2zM31.4 405.2h1.2v1.2h-1.2zM24.1 410.3h1.2v1.2h-1.2zM35.9 409.8h1.2v1.2h-1.2zM27.9 406.3h1.2v1.2h-1.2zM30.0 402.7h1.2v1.2h-1.2zM42.7 407.1h1.2v1.2h-1.2zM38.9 410.3h1.2v1.2h-1.2zM38.2 410.3h1.2v1.2h-1.2zM25.5 409.2h1.2v1.2h-1.2zM37.8 398.2h1.2v1.2h-1.2zM22.4 401.1h1.2v1.2h-1.2zM33.5 405.8h1.2v1.2h-1.2zM22.4 404.1h1.2v1.2h-1.2zM29.5 404.9h1.2v1.2h-1.2zM40.5 409.1h1.2v1.2h-1.2zM23.9 403.2h1.2v1.2h-1.2zM24.1 406.2h1.2v1.2h-1.2zM39.3 406.8h1.2v1.2h-1.2zM25.3 409.3h1.2v1.2h-1.2zM24.7 410.3h1.2v1.2h-1.2zM31.0 399.9h1.2v1.2h-1.2zM22.4 407.6h1.2v1.2h-1.2zM35.5 405.4h1.2v1.2h-1.2zM45.5 406.7h1.2v1.2h-1.2zM22.4 406.6h1.2v1.2h-1.2zM22.4 410.0h1.2v1.2h-1.2zM25.7 410.3h1.2v1.2h-1.2zM30.4 408.6h1.2v1.2h-1.2zM25.0 410.3h1.2v1.2h-1.2zM22.4 406.0h1.2v1.2h-1.2zM26.1 408.9h1.2v1.2h-1.2zM22.4 410.3h1.2v1.2h-1.2zM23.6 409.5h1.2v1.2h-1.2zM24.5 410.3h1.2v1.2h-1.2zM33.9 408.6h1.2v1.2h-1.2zM31.5 408.3h1.2v1.2h-1.2zM29.8 410.3h1.2v1.2h-1.2zM30.0 410.3h1.2v1.2h-1.2zM22.4 409.6h1.2v1.2h-1.2zM28.5 408.7h1.2v1.2h-1.2zM36.7 410.3h1.2v1.2h-1.2zM37.8 410.3h1.2v1.2h-1.2zM33.1 409.6h1.2v1.2h-1.2zM29.6 408.8h1.2v1.2h-1.2zM28.1 410.3h1.2v1.2h-1.2zM28.7 410.3h1.2v1.2h-1.2zM32.0 409.8h1.2v1.2h-1.2zM22.4 410.3h1.2v1.2h-1.2zM30.4 410.3h1.2v1.2h-1.2zM25.4 410.2h1.2v1.2h-1.2zM27.2 410.3h1.2v1.2h-1.2zM25.4 410.3h1.2v1.2h-1.2zM28.6 408.5h1.2v1.2h-1.2zM30.6 410.3h1.2v1.2h-1.2zM28.3 410.3h1.2v1.2h-1.2zM29.5 406.9h1.2v1.2h-1.2zM22.4 410.3h1.2v1.2h-1.2zM34.8 408.7h1.2v1.2h-1.2zM32.1 410.3h1.2v1.2h-1.2zM32.0 410.3h1.2v1.2h-1.2zM37.4 410.3h1.2v1.2h-1.2zM27.9 409.4h1.2v1.2h-1.2zM22.4 410.3h1.2v1.2h-1.2zM22.4 410.3h1.2v1.2h-1.2zM27.2 407.2h1.2v1.2h-1.2zM26.3 410.1h1.2v1.2h-1.2zM22.4 408.9h1.2v1.2h-1.2zM26.9 410.3h1.2v1.2h-1.2zM132.3 295.5h1.2v1.2h-1.2zM127.9 291.6h1.2v1.2h-1.2zM129.3 293.5h1.2v1.2h-1.2zM125.4 291.3h1.2v1.2h-1.2zM133.5 295.3h1.2v1.2h-1.2zM128.7 292.7h1.2v1.2h-1.2zM125.4 296.2h1.2v1.2h-1.2zM132.9 292.9h1.2v1.2h-1.2zM125.4 290.5h1.2v1.2h-1.2zM131.7 288.2h1.2v1.2h-1.2zM128.9 294.3h1.2v1.2h-1.2zM137.2 287.3h1.2v1.2h-1.2zM128.8 296.3h1.2v1.2h-1.2zM128.7 296.3h1.2v1.2h-1.2zM131.5 289.3h1.2v1.2h-1.2zM132.4 294.4h1.2v1.2h-1.2zM125.4 288.8h1.2v1.2h-1.2zM129.7 291.7h1.2v1.2h-1.2zM132.7 295.8h1.2v1.2h-1.2zM128.0 296.3h1.2v1.2h-1.2zM139.5 293.0h1.2v1.2h-1.2zM132.2 292.3h1.2v1.2h-1.2zM132.1 293.8h1.2v1.2h-1.2zM126.0 291.4h1.2v1.2h-1.2zM130.7 290.1h1.2v1.2h-1.2zM133.6 292.3h1.2v1.2h-1.2zM135.1 293.7h1.2v1.2h-1.2zM132.3 293.9h1.2v1.2h-1.2zM132.4 291.6h1.2v1.2h-1.2zM131.8 291.6h1.2v1.2h-1.2zM132.8 296.3h1.2v1.2h-1.2zM128.9 291.7h1.2v1.2h-1.2zM132.9 290.7h1.2v1.2h-1.2zM133.6 290.5h1.2v1.2h-1.2zM132.5 291.0h1.2v1.2h-1.2zM132.7 291.5h1.2v1.2h-1.2zM132.8 293.4h1.2v1.2h-1.2zM133.6 292.9h1.2v1.2h-1.2zM130.1 290.8h1.2v1.2h-1.2zM133.1 296.3h1.2v1.2h-1.2zM127.0 292.2h1.2v1.2h-1.2zM130.5 292.7h1.2v1.2h-1.2zM128.2 289.3h1.2v1.2h-1.2zM126.9 284.5h1.2v1.2h-1.2zM131.3 292.4h1.2v1.2h-1.2zM133.5 291.4h1.2v1.2h-1.2zM136.4 296.2h1.2v1.2h-1.2zM131.9 291.9h1.2v1.2h-1.2zM128.4 296.3h1.2v1.2h-1.2zM125.4 296.2h1.2v1.2h-1.2zM129.5 296.3h1.2v1.2h-1.2zM135.9 296.3h1.2v1.2h-1.2zM132.2 296.3h1.2v1.2h-1.2zM127.1 296.3h1.2v1.2h-1.2zM129.7 296.3h1.2v1.2h-1.2zM125.4 296.0h1.2v1.2h-1.2zM125.9 296.0h1.2v1.2h-1.2zM137.0 296.3h1.2v1.2h-1.2zM131.2 296.3h1.2v1.2h-1.2zM132.3 296.2h1.2v1.2h-1.2zM129.6 295.7h1.2v1.2h-1.2zM129.3 294.7h1.2v1.2h-1.2zM138.6 295.9h1.2v1.2h-1.2zM160.0 296.3h1.2v1.2h-1.2zM162.2 295.4h1.2v1.2h-1.2zM155.3 295.5h1.2v1.2h-1.2zM163.3 296.3h1.2v1.2h-1.2zM159.3 294.9h1.2v1.2h-1.2zM160.5 296.3h1.2v1.2h-1.2zM159.5 293.3h1.2v1.2h-1.2zM156.2 295.3h1.2v1.2h-1.2zM163.7 295.5h1.2v1.2h-1.2zM163.4 294.8h1.2v1.2h-1.2zM161.1 294.0h1.2v1.2h-1.2zM158.6 295.0h1.2v1.2h-1.2zM128.7 409.0h1.2v1.2h-1.2zM130.8 405.1h1.2v1.2h-1.2zM147.8 401.4h1.2v1.2h-1.2zM140.2 401.3h1.2v1.2h-1.2zM143.2 410.3h1.2v1.2h-1.2zM127.3 396.8h1.2v1.2h-1.2zM142.9 408.1h1.2v1.2h-1.2zM136.5 405.4h1.2v1.2h-1.2zM139.6 408.3h1.2v1.2h-1.2zM132.4 409.5h1.2v1.2h-1.2zM142.6 400.3h1.2v1.2h-1.2zM128.1 401.8h1.2v1.2h-1.2zM129.0 409.3h1.2v1.2h-1.2zM140.9 409.8h1.2v1.2h-1.2zM131.5 407.5h1.2v1.2h-1.2zM137.6 409.5h1.2v1.2h-1.2zM130.1 396.2h1.2v1.2h-1.2zM150.7 403.6h1.2v1.2h-1.2zM149.7 407.2h1.2v1.2h-1.2zM126.6 410.3h1.2v1.2h-1.2zM151.2 406.0h1.2v1.2h-1.2zM143.2 406.0h1.2v1.2h-1.2zM126.3 410.3h1.2v1.2h-1.2zM141.4 408.0h1.2v1.2h-1.2zM141.9 403.5h1.2v1.2h-1.2zM133.4 407.8h1.2v1.2h-1.2zM127.2 403.6h1.2v1.2h-1.2zM133.4 407.1h1.2v1.2h-1.2zM145.4 410.3h1.2v1.2h-1.2zM136.7 410.3h1.2v1.2h-1.2zM140.2 401.4h1.2v1.2h-1.2zM128.2 398.4h1.2v1.2h-1.2zM145.5 410.3h1.2v1.2h-1.2zM136.2 406.4h1.2v1.2h-1.2zM128.9 402.8h1.2v1.2h-1.2zM137.9 407.1h1.2v1.2h-1.2zM135.8 405.6h1.2v1.2h-1.2zM150.5 410.3h1.2v1.2h-1.2zM133.9 407.9h1.2v1.2h-1.2zM131.8 409.0h1.2v1.2h-1.2zM143.9 410.3h1.2v1.2h-1.2zM126.6 398.9h1.2v1.2h-1.2zM147.5 395.5h1.2v1.2h-1.2zM140.8 406.9h1.2v1.2h-1.2zM141.3 404.8h1.2v1.2h-1.2zM138.1 398.2h1.2v1.2h-1.2zM132.6 406.1h1.2v1.2h-1.2zM126.3 405.4h1.2v1.2h-1.2zM141.2 406.8h1.2v1.2h-1.2zM131.7 400.8h1.2v1.2h-1.2zM134.7 410.3h1.2v1.2h-1.2zM127.2 403.3h1.2v1.2h-1.2zM133.4 410.3h1.2v1.2h-1.2zM141.6 405.0h1.2v1.2h-1.2zM143.5 400.8h1.2v1.2h-1.2zM139.2 405.2h1.2v1.2h-1.2zM128.3 410.3h1.2v1.2h-1.2zM130.8 403.0h1.2v1.2h-1.2zM145.6 408.3h1.2v1.2h-1.2zM141.6 409.5h1.2v1.2h-1.2zM126.3 408.3h1.2v1.2h-1.2zM140.3 407.7h1.2v1.2h-1.2zM133.8 409.0h1.2v1.2h-1.2zM126.3 407.7h1.2v1.2h-1.2zM136.6 410.3h1.2v1.2h-1.2zM133.5 404.7h1.2v1.2h-1.2zM146.6 404.3h1.2v1.2h-1.2zM136.2 408.9h1.2v1.2h-1.2zM128.9 407.7h1.2v1.2h-1.2zM126.3 405.1h1.2v1.2h-1.2zM136.2 410.3h1.2v1.2h-1.2zM131.8 405.4h1.2v1.2h-1.2zM126.3 407.4h1.2v1.2h-1.2zM135.2 402.7h1.2v1.2h-1.2zM130.0 404.8h1.2v1.2h-1.2zM126.3 410.3h1.2v1.2h-1.2zM140.9 401.6h1.2v1.2h-1.2zM139.9 401.6h1.2v1.2h-1.2zM144.4 407.0h1.2v1.2h-1.2zM136.5 409.6h1.2v1.2h-1.2zM144.0 409.5h1.2v1.2h-1.2zM134.8 410.3h1.2v1.2h-1.2zM131.2 408.9h1.2v1.2h-1.2zM132.4 409.4h1.2v1.2h-1.2zM134.1 410.3h1.2v1.2h-1.2zM127.4 410.3h1.2v1.2h-1.2zM130.4 410.3h1.2v1.2h-1.2zM133.4 410.3h1.2v1.2h-1.2zM131.6 409.5h1.2v1.2h-1.2zM137.2 410.3h1.2v1.2h-1.2zM130.8 408.2h1.2v1.2h-1.2zM128.8 410.1h1.2v1.2h-1.2zM137.9 410.3h1.2v1.2h-1.2zM126.3 410.3h1.2v1.2h-1.2zM130.7 410.3h1.2v1.2h-1.2zM133.6 409.8h1.2v1.2h-1.2zM126.3 410.3h1.2v1.2h-1.2zM131.3 409.9h1.2v1.2h-1.2zM128.2 410.3h1.2v1.2h-1.2zM126.3 407.6h1.2v1.2h-1.2zM132.1 410.3h1.2v1.2h-1.2zM138.2 409.9h1.2v1.2h-1.2zM133.0 408.9h1.2v1.2h-1.2zM128.3 409.7h1.2v1.2h-1.2zM127.5 410.3h1.2v1.2h-1.2zM131.6 407.7h1.2v1.2h-1.2zM139.5 410.3h1.2v1.2h-1.2zM128.3 410.3h1.2v1.2h-1.2zM131.4 410.3h1.2v1.2h-1.2zM126.3 410.3h1.2v1.2h-1.2zM128.7 410.3h1.2v1.2h-1.2zM136.0 410.3h1.2v1.2h-1.2zM126.3 409.6h1.2v1.2h-1.2zM130.0 410.3h1.2v1.2h-1.2zM132.7 409.0h1.2v1.2h-1.2zM130.7 410.3h1.2v1.2h-1.2zM236.2 295.6h1.2v1.2h-1.2zM241.6 293.5h1.2v1.2h-1.2zM234.0 293.4h1.2v1.2h-1.2zM229.3 295.3h1.2v1.2h-1.2zM243.2 291.8h1.2v1.2h-1.2zM240.2 290.9h1.2v1.2h-1.2zM239.7 286.5h1.2v1.2h-1.2zM232.6 292.5h1.2v1.2h-1.2zM242.4 296.3h1.2v1.2h-1.2zM238.4 296.3h1.2v1.2h-1.2zM236.0 293.0h1.2v1.2h-1.2zM237.4 291.4h1.2v1.2h-1.2zM234.1 296.3h1.2v1.2h-1.2zM238.2 295.1h1.2v1.2h-1.2zM238.6 293.4h1.2v1.2h-1.2zM232.4 293.6h1.2v1.2h-1.2zM239.4 293.2h1.2v1.2h-1.2zM232.7 293.5h1.2v1.2h-1.2zM228.9 294.2h1.2v1.2h-1.2zM236.0 296.3h1.2v1.2h-1.2zM241.2 292.6h1.2v1.2h-1.2zM241.6 296.3h1.2v1.2h-1.2zM236.5 292.7h1.2v1.2h-1.2zM234.0 295.8h1.2v1.2h-1.2zM236.6 293.2h1.2v1.2h-1.2zM238.3 292.9h1.2v1.2h-1.2zM236.7 294.8h1.2v1.2h-1.2zM228.9 291.1h1.2v1.2h-1.2zM228.9 296.3h1.2v1.2h-1.2zM228.9 292.1h1.2v1.2h-1.2zM234.9 293.5h1.2v1.2h-1.2zM237.5 290.2h1.2v1.2h-1.2zM245.6 289.9h1.2v1.2h-1.2zM238.8 291.5h1.2v1.2h-1.2zM233.9 292.5h1.2v1.2h-1.2zM236.3 293.3h1.2v1.2h-1.2zM240.0 293.3h1.2v1.2h-1.2zM237.8 296.3h1.2v1.2h-1.2zM229.2 293.3h1.2v1.2h-1.2zM234.5 291.5h1.2v1.2h-1.2zM231.6 294.9h1.2v1.2h-1.2zM235.4 296.3h1.2v1.2h-1.2zM233.4 294.4h1.2v1.2h-1.2zM232.3 291.1h1.2v1.2h-1.2zM232.8 295.1h1.2v1.2h-1.2zM235.1 295.9h1.2v1.2h-1.2zM232.3 293.5h1.2v1.2h-1.2zM240.5 294.5h1.2v1.2h-1.2zM233.1 291.1h1.2v1.2h-1.2zM236.2 293.4h1.2v1.2h-1.2zM238.5 296.2h1.2v1.2h-1.2zM236.4 293.6h1.2v1.2h-1.2zM230.9 295.7h1.2v1.2h-1.2zM235.2 296.3h1.2v1.2h-1.2zM231.5 294.4h1.2v1.2h-1.2zM228.9 293.2h1.2v1.2h-1.2zM232.1 293.4h1.2v1.2h-1.2zM236.8 295.0h1.2v1.2h-1.2zM241.1 296.1h1.2v1.2h-1.2zM233.6 296.3h1.2v1.2h-1.2zM237.2 295.4h1.2v1.2h-1.2zM231.5 296.3h1.2v1.2h-1.2zM268.0 296.3h1.2v1.2h-1.2zM259.0 294.6h1.2v1.2h-1.2zM259.1 296.3h1.2v1.2h-1.2zM267.0 296.2h1.2v1.2h-1.2zM256.7 296.3h1.2v1.2h-1.2zM261.0 295.1h1.2v1.2h-1.2zM260.2 295.9h1.2v1.2h-1.2zM260.2 296.3h1.2v1.2h-1.2zM261.0 294.9h1.2v1.2h-1.2zM261.8 294.1h1.2v1.2h-1.2zM261.0 294.4h1.2v1.2h-1.2zM260.0 295.0h1.2v1.2h-1.2zM236.4 371.2h1.2v1.2h-1.2zM234.9 372.6h1.2v1.2h-1.2zM236.9 372.9h1.2v1.2h-1.2zM230.1 373.3h1.2v1.2h-1.2zM232.5 370.8h1.2v1.2h-1.2zM230.6 370.7h1.2v1.2h-1.2zM231.4 368.5h1.2v1.2h-1.2zM230.6 366.5h1.2v1.2h-1.2zM230.8 366.1h1.2v1.2h-1.2zM232.1 367.3h1.2v1.2h-1.2zM232.0 373.0h1.2v1.2h-1.2zM233.6 369.2h1.2v1.2h-1.2zM235.3 369.0h1.2v1.2h-1.2zM234.3 366.9h1.2v1.2h-1.2zM233.1 371.7h1.2v1.2h-1.2zM235.5 368.5h1.2v1.2h-1.2zM231.9 365.8h1.2v1.2h-1.2zM231.2 370.4h1.2v1.2h-1.2zM232.5 371.8h1.2v1.2h-1.2zM234.9 368.7h1.2v1.2h-1.2zM230.4 365.1h1.2v1.2h-1.2zM230.9 370.8h1.2v1.2h-1.2zM239.2 367.1h1.2v1.2h-1.2zM235.9 369.3h1.2v1.2h-1.2zM233.3 374.4h1.2v1.2h-1.2zM237.5 367.4h1.2v1.2h-1.2zM232.2 372.2h1.2v1.2h-1.2zM235.8 364.7h1.2v1.2h-1.2zM233.8 371.0h1.2v1.2h-1.2zM234.4 367.3h1.2v1.2h-1.2zM243.3 397.6h1.2v1.2h-1.2zM237.8 398.9h1.2v1.2h-1.2zM238.5 403.9h1.2v1.2h-1.2zM246.1 402.6h1.2v1.2h-1.2zM240.4 402.7h1.2v1.2h-1.2zM242.7 410.3h1.2v1.2h-1.2zM243.9 399.7h1.2v1.2h-1.2zM239.5 407.4h1.2v1.2h-1.2zM249.2 408.5h1.2v1.2h-1.2zM252.2 410.3h1.2v1.2h-1.2zM255.5 405.7h1.2v1.2h-1.2zM246.2 410.3h1.2v1.2h-1.2zM237.0 407.4h1.2v1.2h-1.2zM255.1 398.4h1.2v1.2h-1.2zM229.6 408.2h1.2v1.2h-1.2zM235.2 410.3h1.2v1.2h-1.2zM251.6 406.9h1.2v1.2h-1.2zM230.6 410.3h1.2v1.2h-1.2zM241.3 405.9h1.2v1.2h-1.2zM240.3 404.6h1.2v1.2h-1.2zM245.2 400.5h1.2v1.2h-1.2zM234.8 410.3h1.2v1.2h-1.2zM238.1 401.2h1.2v1.2h-1.2zM249.0 410.3h1.2v1.2h-1.2zM239.5 407.0h1.2v1.2h-1.2zM249.7 404.9h1.2v1.2h-1.2zM241.0 400.8h1.2v1.2h-1.2zM243.3 403.8h1.2v1.2h-1.2zM245.3 410.3h1.2v1.2h-1.2zM247.5 404.5h1.2v1.2h-1.2zM232.9 403.3h1.2v1.2h-1.2zM247.4 406.6h1.2v1.2h-1.2zM238.3 403.3h1.2v1.2h-1.2zM239.7 410.3h1.2v1.2h-1.2zM243.3 404.0h1.2v1.2h-1.2zM239.2 409.1h1.2v1.2h-1.2zM240.3 406.4h1.2v1.2h-1.2zM243.5 403.8h1.2v1.2h-1.2zM242.7 409.4h1.2v1.2h-1.2zM237.2 408.3h1.2v1.2h-1.2zM246.6 404.2h1.2v1.2h-1.2zM243.0 402.8h1.2v1.2h-1.2zM232.0 410.3h1.2v1.2h-1.2zM252.2 409.7h1.2v1.2h-1.2zM245.2 404.0h1.2v1.2h-1.2zM241.1 401.1h1.2v1.2h-1.2zM248.4 402.9h1.2v1.2h-1.2zM254.3 408.3h1.2v1.2h-1.2zM244.9 404.1h1.2v1.2h-1.2zM248.8 402.5h1.2v1.2h-1.2zM256.9 410.3h1.2v1.2h-1.2zM255.9 410.3h1.2v1.2h-1.2zM241.9 403.3h1.2v1.2h-1.2zM242.6 408.9h1.2v1.2h-1.2zM249.2 402.3h1.2v1.2h-1.2zM238.4 398.4h1.2v1.2h-1.2zM233.2 402.7h1.2v1.2h-1.2zM245.3 407.7h1.2v1.2h-1.2zM242.9 406.3h1.2v1.2h-1.2zM241.8 398.7h1.2v1.2h-1.2zM236.0 399.8h1.2v1.2h-1.2zM230.3 404.8h1.2v1.2h-1.2zM255.9 407.5h1.2v1.2h-1.2zM242.4 407.6h1.2v1.2h-1.2zM243.4 410.3h1.2v1.2h-1.2zM244.3 403.0h1.2v1.2h-1.2zM243.6 405.6h1.2v1.2h-1.2zM253.7 407.5h1.2v1.2h-1.2zM239.7 403.3h1.2v1.2h-1.2zM248.1 403.4h1.2v1.2h-1.2zM247.6 407.1h1.2v1.2h-1.2zM236.8 404.2h1.2v1.2h-1.2zM250.6 403.8h1.2v1.2h-1.2zM247.1 402.0h1.2v1.2h-1.2zM244.9 407.7h1.2v1.2h-1.2zM241.6 404.4h1.2v1.2h-1.2zM245.2 410.3h1.2v1.2h-1.2zM240.9 408.1h1.2v1.2h-1.2zM244.7 398.5h1.2v1.2h-1.2zM243.1 410.3h1.2v1.2h-1.2zM238.3 401.4h1.2v1.2h-1.2zM248.8 394.1h1.2v1.2h-1.2zM247.1 409.3h1.2v1.2h-1.2zM237.7 404.3h1.2v1.2h-1.2zM234.2 404.1h1.2v1.2h-1.2zM240.5 406.5h1.2v1.2h-1.2zM246.9 407.3h1.2v1.2h-1.2zM235.4 403.2h1.2v1.2h-1.2zM252.5 397.7h1.2v1.2h-1.2zM230.1 402.9h1.2v1.2h-1.2zM239.0 404.1h1.2v1.2h-1.2zM245.6 397.7h1.2v1.2h-1.2zM240.5 406.5h1.2v1.2h-1.2zM230.6 403.9h1.2v1.2h-1.2zM249.7 399.3h1.2v1.2h-1.2zM238.5 406.9h1.2v1.2h-1.2zM245.3 399.9h1.2v1.2h-1.2zM235.1 403.5h1.2v1.2h-1.2zM248.8 409.1h1.2v1.2h-1.2zM240.3 406.7h1.2v1.2h-1.2zM233.0 410.3h1.2v1.2h-1.2zM233.8 409.8h1.2v1.2h-1.2zM242.8 409.6h1.2v1.2h-1.2zM252.7 410.3h1.2v1.2h-1.2zM250.4 408.1h1.2v1.2h-1.2zM237.6 406.7h1.2v1.2h-1.2zM238.1 410.3h1.2v1.2h-1.2zM238.2 408.1h1.2v1.2h-1.2zM249.6 406.3h1.2v1.2h-1.2zM238.7 408.4h1.2v1.2h-1.2zM244.4 407.9h1.2v1.2h-1.2zM240.9 410.3h1.2v1.2h-1.2zM241.9 410.3h1.2v1.2h-1.2zM259.6 410.3h1.2v1.2h-1.2zM229.6 408.3h1.2v1.2h-1.2zM241.9 408.7h1.2v1.2h-1.2zM240.7 410.3h1.2v1.2h-1.2zM244.3 410.3h1.2v1.2h-1.2zM243.6 408.5h1.2v1.2h-1.2zM232.1 409.5h1.2v1.2h-1.2zM247.1 408.2h1.2v1.2h-1.2zM231.3 409.5h1.2v1.2h-1.2zM248.3 409.4h1.2v1.2h-1.2zM246.6 408.5h1.2v1.2h-1.2zM236.6 408.6h1.2v1.2h-1.2zM365.6 246.8h1.2v1.2h-1.2zM360.9 244.2h1.2v1.2h-1.2zM364.5 244.1h1.2v1.2h-1.2zM364.7 244.4h1.2v1.2h-1.2zM359.6 246.4h1.2v1.2h-1.2zM363.7 243.1h1.2v1.2h-1.2zM361.7 240.8h1.2v1.2h-1.2zM363.3 247.9h1.2v1.2h-1.2zM361.3 243.3h1.2v1.2h-1.2zM364.0 245.1h1.2v1.2h-1.2zM358.0 245.0h1.2v1.2h-1.2zM360.7 242.1h1.2v1.2h-1.2zM362.2 244.8h1.2v1.2h-1.2zM363.4 248.5h1.2v1.2h-1.2zM364.1 246.3h1.2v1.2h-1.2zM363.7 245.8h1.2v1.2h-1.2zM361.1 241.5h1.2v1.2h-1.2zM361.6 245.7h1.2v1.2h-1.2zM363.8 243.7h1.2v1.2h-1.2zM363.5 245.8h1.2v1.2h-1.2zM360.8 242.3h1.2v1.2h-1.2zM364.0 245.4h1.2v1.2h-1.2zM337.9 293.4h1.2v1.2h-1.2zM339.6 292.4h1.2v1.2h-1.2zM338.6 292.2h1.2v1.2h-1.2zM340.7 296.3h1.2v1.2h-1.2zM338.5 292.3h1.2v1.2h-1.2zM341.0 291.1h1.2v1.2h-1.2zM342.2 293.6h1.2v1.2h-1.2zM339.5 294.8h1.2v1.2h-1.2zM335.1 292.3h1.2v1.2h-1.2zM332.9 289.3h1.2v1.2h-1.2zM334.4 293.3h1.2v1.2h-1.2zM339.1 290.4h1.2v1.2h-1.2zM335.0 293.0h1.2v1.2h-1.2zM337.4 294.6h1.2v1.2h-1.2zM344.2 294.3h1.2v1.2h-1.2zM335.4 296.2h1.2v1.2h-1.2zM339.2 295.8h1.2v1.2h-1.2zM336.0 295.0h1.2v1.2h-1.2zM336.0 289.5h1.2v1.2h-1.2zM342.8 296.3h1.2v1.2h-1.2zM340.7 290.2h1.2v1.2h-1.2zM340.7 295.2h1.2v1.2h-1.2zM336.3 294.8h1.2v1.2h-1.2zM332.9 290.8h1.2v1.2h-1.2zM338.6 292.4h1.2v1.2h-1.2zM336.4 293.6h1.2v1.2h-1.2zM332.9 288.2h1.2v1.2h-1.2zM343.7 296.2h1.2v1.2h-1.2zM335.0 296.3h1.2v1.2h-1.2zM332.9 293.9h1.2v1.2h-1.2zM342.6 294.8h1.2v1.2h-1.2zM334.9 296.3h1.2v1.2h-1.2zM339.2 291.5h1.2v1.2h-1.2zM334.6 290.1h1.2v1.2h-1.2zM336.7 296.3h1.2v1.2h-1.2zM338.4 293.0h1.2v1.2h-1.2zM334.1 291.1h1.2v1.2h-1.2zM338.3 289.1h1.2v1.2h-1.2zM338.0 285.5h1.2v1.2h-1.2zM339.5 286.4h1.2v1.2h-1.2zM332.9 291.8h1.2v1.2h-1.2zM335.8 295.7h1.2v1.2h-1.2zM338.2 292.8h1.2v1.2h-1.2zM334.3 292.6h1.2v1.2h-1.2zM335.7 290.7h1.2v1.2h-1.2zM336.4 296.3h1.2v1.2h-1.2zM338.3 295.1h1.2v1.2h-1.2zM337.9 294.9h1.2v1.2h-1.2zM343.3 288.3h1.2v1.2h-1.2zM340.8 290.4h1.2v1.2h-1.2zM340.5 290.5h1.2v1.2h-1.2zM338.7 295.2h1.2v1.2h-1.2zM332.9 296.0h1.2v1.2h-1.2zM338.3 295.1h1.2v1.2h-1.2zM339.0 296.0h1.2v1.2h-1.2zM341.1 295.5h1.2v1.2h-1.2zM339.5 294.9h1.2v1.2h-1.2zM337.2 295.2h1.2v1.2h-1.2zM341.9 295.5h1.2v1.2h-1.2zM334.9 295.5h1.2v1.2h-1.2zM340.2 296.3h1.2v1.2h-1.2zM340.5 294.1h1.2v1.2h-1.2zM340.9 295.6h1.2v1.2h-1.2zM334.1 293.8h1.2v1.2h-1.2zM333.6 296.2h1.2v1.2h-1.2zM334.6 294.7h1.2v1.2h-1.2zM334.1 293.3h1.2v1.2h-1.2zM341.6 296.3h1.2v1.2h-1.2zM339.1 295.3h1.2v1.2h-1.2zM339.0 294.6h1.2v1.2h-1.2zM346.8 350.3h1.2v1.2h-1.2zM344.9 352.1h1.2v1.2h-1.2zM342.4 355.7h1.2v1.2h-1.2zM348.0 355.1h1.2v1.2h-1.2zM350.6 353.9h1.2v1.2h-1.2zM344.1 353.4h1.2v1.2h-1.2zM348.7 352.0h1.2v1.2h-1.2zM346.2 351.5h1.2v1.2h-1.2zM353.4 353.8h1.2v1.2h-1.2zM345.6 352.8h1.2v1.2h-1.2zM348.3 352.1h1.2v1.2h-1.2zM347.6 351.9h1.2v1.2h-1.2zM342.0 351.7h1.2v1.2h-1.2zM346.9 355.4h1.2v1.2h-1.2zM349.0 350.3h1.2v1.2h-1.2zM342.5 353.3h1.2v1.2h-1.2zM348.0 349.2h1.2v1.2h-1.2zM339.4 355.4h1.2v1.2h-1.2zM346.3 354.7h1.2v1.2h-1.2zM346.4 359.8h1.2v1.2h-1.2zM345.2 353.3h1.2v1.2h-1.2zM347.3 350.3h1.2v1.2h-1.2zM347.6 352.7h1.2v1.2h-1.2zM347.1 351.4h1.2v1.2h-1.2zM342.8 349.3h1.2v1.2h-1.2zM350.2 360.4h1.2v1.2h-1.2zM342.1 351.0h1.2v1.2h-1.2zM342.8 354.4h1.2v1.2h-1.2zM347.0 354.6h1.2v1.2h-1.2zM346.3 356.3h1.2v1.2h-1.2zM348.3 349.0h1.2v1.2h-1.2zM344.4 353.8h1.2v1.2h-1.2zM343.3 350.7h1.2v1.2h-1.2zM352.2 355.4h1.2v1.2h-1.2zM340.4 352.8h1.2v1.2h-1.2zM347.3 356.4h1.2v1.2h-1.2zM346.1 351.1h1.2v1.2h-1.2zM348.0 352.8h1.2v1.2h-1.2zM349.2 352.9h1.2v1.2h-1.2zM352.1 354.2h1.2v1.2h-1.2zM351.3 352.8h1.2v1.2h-1.2zM346.9 352.4h1.2v1.2h-1.2zM347.7 353.8h1.2v1.2h-1.2zM346.0 355.2h1.2v1.2h-1.2zM345.9 352.1h1.2v1.2h-1.2zM346.8 349.5h1.2v1.2h-1.2zM346.7 354.2h1.2v1.2h-1.2zM346.3 353.2h1.2v1.2h-1.2zM342.4 348.9h1.2v1.2h-1.2zM344.5 357.3h1.2v1.2h-1.2zM341.5 353.1h1.2v1.2h-1.2zM349.8 351.2h1.2v1.2h-1.2zM350.4 353.4h1.2v1.2h-1.2zM346.9 354.5h1.2v1.2h-1.2zM341.3 353.9h1.2v1.2h-1.2zM347.5 352.9h1.2v1.2h-1.2zM337.4 409.3h1.2v1.2h-1.2zM336.1 410.1h1.2v1.2h-1.2zM339.5 410.2h1.2v1.2h-1.2zM336.1 410.3h1.2v1.2h-1.2zM335.8 409.5h1.2v1.2h-1.2zM332.9 405.5h1.2v1.2h-1.2zM333.3 407.0h1.2v1.2h-1.2zM332.4 404.4h1.2v1.2h-1.2zM336.1 408.7h1.2v1.2h-1.2zM334.4 408.0h1.2v1.2h-1.2zM335.7 409.8h1.2v1.2h-1.2zM332.4 404.1h1.2v1.2h-1.2zM332.6 410.3h1.2v1.2h-1.2zM340.5 407.7h1.2v1.2h-1.2zM332.4 410.3h1.2v1.2h-1.2zM333.7 410.3h1.2v1.2h-1.2zM332.7 404.0h1.2v1.2h-1.2zM336.3 407.9h1.2v1.2h-1.2zM336.8 406.8h1.2v1.2h-1.2zM332.4 407.3h1.2v1.2h-1.2zM332.4 402.0h1.2v1.2h-1.2zM337.2 406.7h1.2v1.2h-1.2zM333.0 410.3h1.2v1.2h-1.2zM332.4 406.6h1.2v1.2h-1.2zM333.7 410.3h1.2v1.2h-1.2zM339.4 407.0h1.2v1.2h-1.2zM336.0 410.2h1.2v1.2h-1.2zM334.0 404.6h1.2v1.2h-1.2zM338.5 406.4h1.2v1.2h-1.2zM334.9 410.3h1.2v1.2h-1.2zM339.0 407.1h1.2v1.2h-1.2zM338.7 410.3h1.2v1.2h-1.2zM339.7 404.8h1.2v1.2h-1.2zM333.5 408.4h1.2v1.2h-1.2zM339.3 407.1h1.2v1.2h-1.2zM333.4 409.3h1.2v1.2h-1.2zM340.8 406.6h1.2v1.2h-1.2zM338.7 407.8h1.2v1.2h-1.2zM340.7 410.3h1.2v1.2h-1.2zM332.4 408.0h1.2v1.2h-1.2zM336.4 404.6h1.2v1.2h-1.2zM335.1 402.8h1.2v1.2h-1.2zM334.6 408.2h1.2v1.2h-1.2zM332.7 405.3h1.2v1.2h-1.2zM336.6 404.1h1.2v1.2h-1.2zM338.8 405.3h1.2v1.2h-1.2zM338.9 407.3h1.2v1.2h-1.2zM336.9 403.8h1.2v1.2h-1.2zM334.3 410.3h1.2v1.2h-1.2zM335.9 410.3h1.2v1.2h-1.2zM338.7 407.6h1.2v1.2h-1.2zM341.6 408.6h1.2v1.2h-1.2zM332.4 405.3h1.2v1.2h-1.2zM333.7 405.3h1.2v1.2h-1.2zM336.7 406.1h1.2v1.2h-1.2zM336.0 403.2h1.2v1.2h-1.2zM336.6 410.2h1.2v1.2h-1.2zM334.0 407.7h1.2v1.2h-1.2zM335.0 410.0h1.2v1.2h-1.2zM334.9 407.6h1.2v1.2h-1.2zM332.4 407.0h1.2v1.2h-1.2zM339.3 409.3h1.2v1.2h-1.2zM336.9 408.4h1.2v1.2h-1.2zM337.8 403.2h1.2v1.2h-1.2zM335.8 410.3h1.2v1.2h-1.2zM335.4 407.2h1.2v1.2h-1.2zM334.2 408.1h1.2v1.2h-1.2zM332.4 405.8h1.2v1.2h-1.2zM334.9 410.3h1.2v1.2h-1.2zM333.9 410.2h1.2v1.2h-1.2zM337.3 409.9h1.2v1.2h-1.2zM336.1 408.3h1.2v1.2h-1.2zM332.4 410.3h1.2v1.2h-1.2zM337.0 409.6h1.2v1.2h-1.2zM333.5 409.3h1.2v1.2h-1.2zM332.4 410.3h1.2v1.2h-1.2zM333.9 407.7h1.2v1.2h-1.2zM341.2 410.3h1.2v1.2h-1.2zM334.3 409.8h1.2v1.2h-1.2zM332.4 410.3h1.2v1.2h-1.2zM332.4 408.1h1.2v1.2h-1.2zM335.6 410.3h1.2v1.2h-1.2zM334.0 408.0h1.2v1.2h-1.2zM337.8 408.1h1.2v1.2h-1.2zM341.9 410.3h1.2v1.2h-1.2zM337.7 410.3h1.2v1.2h-1.2zM333.4 410.3h1.2v1.2h-1.2zM332.4 408.5h1.2v1.2h-1.2zM338.9 407.4h1.2v1.2h-1.2zM334.6 409.2h1.2v1.2h-1.2zM337.2 408.4h1.2v1.2h-1.2zM334.3 410.1h1.2v1.2h-1.2zM332.8 408.6h1.2v1.2h-1.2zM337.5 410.3h1.2v1.2h-1.2zM470.3 269.5h1.2v1.2h-1.2zM469.2 269.1h1.2v1.2h-1.2zM470.7 273.4h1.2v1.2h-1.2zM472.0 266.7h1.2v1.2h-1.2zM469.9 266.5h1.2v1.2h-1.2zM472.4 273.3h1.2v1.2h-1.2zM472.1 269.7h1.2v1.2h-1.2zM472.8 265.5h1.2v1.2h-1.2zM471.1 272.2h1.2v1.2h-1.2zM471.8 265.2h1.2v1.2h-1.2zM437.3 292.9h1.2v1.2h-1.2zM437.2 294.0h1.2v1.2h-1.2zM435.9 296.3h1.2v1.2h-1.2zM438.5 288.2h1.2v1.2h-1.2zM439.6 292.3h1.2v1.2h-1.2zM449.1 293.1h1.2v1.2h-1.2zM450.8 291.6h1.2v1.2h-1.2zM447.9 289.8h1.2v1.2h-1.2zM438.6 294.7h1.2v1.2h-1.2zM442.7 291.1h1.2v1.2h-1.2zM435.9 290.4h1.2v1.2h-1.2zM437.6 291.5h1.2v1.2h-1.2zM438.5 293.7h1.2v1.2h-1.2zM441.0 293.9h1.2v1.2h-1.2zM440.6 290.5h1.2v1.2h-1.2zM436.7 294.7h1.2v1.2h-1.2zM443.6 296.3h1.2v1.2h-1.2zM439.8 292.8h1.2v1.2h-1.2zM435.9 291.4h1.2v1.2h-1.2zM441.0 294.4h1.2v1.2h-1.2zM448.5 296.3h1.2v1.2h-1.2zM443.0 291.5h1.2v1.2h-1.2zM435.9 295.2h1.2v1.2h-1.2zM454.3 291.2h1.2v1.2h-1.2zM438.2 291.1h1.2v1.2h-1.2zM435.9 291.7h1.2v1.2h-1.2zM441.1 292.6h1.2v1.2h-1.2zM435.9 293.0h1.2v1.2h-1.2zM442.0 290.1h1.2v1.2h-1.2zM441.1 289.9h1.2v1.2h-1.2zM441.9 291.1h1.2v1.2h-1.2zM440.2 296.3h1.2v1.2h-1.2zM441.5 296.0h1.2v1.2h-1.2zM439.3 292.5h1.2v1.2h-1.2zM439.4 291.6h1.2v1.2h-1.2zM449.1 296.3h1.2v1.2h-1.2zM438.7 288.7h1.2v1.2h-1.2zM441.3 292.8h1.2v1.2h-1.2zM445.4 292.2h1.2v1.2h-1.2zM444.3 295.8h1.2v1.2h-1.2zM440.7 291.3h1.2v1.2h-1.2zM439.3 294.2h1.2v1.2h-1.2zM444.6 296.3h1.2v1.2h-1.2zM441.7 295.1h1.2v1.2h-1.2zM439.5 292.0h1.2v1.2h-1.2zM435.9 292.2h1.2v1.2h-1.2zM446.0 290.7h1.2v1.2h-1.2zM435.9 290.3h1.2v1.2h-1.2zM446.1 293.8h1.2v1.2h-1.2zM440.9 291.5h1.2v1.2h-1.2zM443.8 294.0h1.2v1.2h-1.2zM441.8 294.3h1.2v1.2h-1.2zM444.1 291.7h1.2v1.2h-1.2zM449.4 295.0h1.2v1.2h-1.2zM435.9 294.0h1.2v1.2h-1.2zM444.7 295.4h1.2v1.2h-1.2zM448.6 294.6h1.2v1.2h-1.2zM435.9 296.3h1.2v1.2h-1.2zM448.5 293.2h1.2v1.2h-1.2zM436.4 295.6h1.2v1.2h-1.2zM446.4 295.9h1.2v1.2h-1.2zM446.4 296.3h1.2v1.2h-1.2zM443.8 295.0h1.2v1.2h-1.2zM454.2 295.0h1.2v1.2h-1.2zM437.6 296.3h1.2v1.2h-1.2zM436.6 295.5h1.2v1.2h-1.2zM441.6 294.6h1.2v1.2h-1.2zM435.9 296.3h1.2v1.2h-1.2zM463.1 286.7h1.2v1.2h-1.2zM466.1 287.5h1.2v1.2h-1.2zM465.5 285.4h1.2v1.2h-1.2zM439.9 403.9h1.2v1.2h-1.2zM443.1 407.1h1.2v1.2h-1.2zM441.9 403.4h1.2v1.2h-1.2zM435.6 403.4h1.2v1.2h-1.2zM443.5 403.1h1.2v1.2h-1.2zM439.3 407.1h1.2v1.2h-1.2zM439.8 410.3h1.2v1.2h-1.2zM442.9 402.4h1.2v1.2h-1.2zM436.6 406.1h1.2v1.2h-1.2zM444.1 405.1h1.2v1.2h-1.2zM435.6 400.4h1.2v1.2h-1.2zM446.5 405.7h1.2v1.2h-1.2zM442.8 406.2h1.2v1.2h-1.2zM435.6 406.2h1.2v1.2h-1.2zM441.3 404.4h1.2v1.2h-1.2zM435.6 401.5h1.2v1.2h-1.2zM438.6 408.7h1.2v1.2h-1.2zM439.8 410.3h1.2v1.2h-1.2zM436.7 408.4h1.2v1.2h-1.2zM443.5 410.3h1.2v1.2h-1.2zM443.3 405.1h1.2v1.2h-1.2zM435.6 410.3h1.2v1.2h-1.2zM440.2 406.6h1.2v1.2h-1.2zM447.3 410.3h1.2v1.2h-1.2zM445.7 410.3h1.2v1.2h-1.2zM443.4 410.3h1.2v1.2h-1.2zM435.6 409.6h1.2v1.2h-1.2zM435.6 401.3h1.2v1.2h-1.2zM452.9 403.0h1.2v1.2h-1.2zM439.5 400.7h1.2v1.2h-1.2zM440.3 410.3h1.2v1.2h-1.2zM435.6 402.3h1.2v1.2h-1.2zM449.0 407.6h1.2v1.2h-1.2zM442.1 409.4h1.2v1.2h-1.2zM448.7 399.5h1.2v1.2h-1.2zM445.6 410.3h1.2v1.2h-1.2zM441.6 410.3h1.2v1.2h-1.2zM444.8 404.7h1.2v1.2h-1.2zM449.0 400.5h1.2v1.2h-1.2zM444.9 401.1h1.2v1.2h-1.2zM443.6 406.1h1.2v1.2h-1.2zM441.0 404.9h1.2v1.2h-1.2zM438.6 408.6h1.2v1.2h-1.2zM444.0 407.3h1.2v1.2h-1.2zM443.6 399.5h1.2v1.2h-1.2zM438.9 405.0h1.2v1.2h-1.2zM449.7 408.2h1.2v1.2h-1.2zM446.3 402.6h1.2v1.2h-1.2zM444.5 407.0h1.2v1.2h-1.2zM438.7 405.3h1.2v1.2h-1.2zM442.7 409.3h1.2v1.2h-1.2zM437.4 400.1h1.2v1.2h-1.2zM439.7 403.6h1.2v1.2h-1.2zM435.7 399.7h1.2v1.2h-1.2zM445.9 401.4h1.2v1.2h-1.2zM450.1 407.8h1.2v1.2h-1.2zM442.6 408.3h1.2v1.2h-1.2zM435.6 404.6h1.2v1.2h-1.2zM435.6 410.3h1.2v1.2h-1.2zM435.6 409.1h1.2v1.2h-1.2zM435.6 404.8h1.2v1.2h-1.2zM437.6 406.1h1.2v1.2h-1.2zM436.6 408.7h1.2v1.2h-1.2zM442.8 398.9h1.2v1.2h-1.2zM445.5 399.7h1.2v1.2h-1.2zM435.6 410.3h1.2v1.2h-1.2zM451.3 410.3h1.2v1.2h-1.2zM439.7 410.3h1.2v1.2h-1.2zM442.4 410.3h1.2v1.2h-1.2zM436.0 408.3h1.2v1.2h-1.2zM442.0 409.3h1.2v1.2h-1.2zM443.0 409.3h1.2v1.2h-1.2zM440.6 410.3h1.2v1.2h-1.2zM440.0 408.2h1.2v1.2h-1.2zM438.6 410.3h1.2v1.2h-1.2zM435.6 407.0h1.2v1.2h-1.2zM446.8 410.3h1.2v1.2h-1.2zM438.5 410.2h1.2v1.2h-1.2zM437.1 410.3h1.2v1.2h-1.2zM448.1 410.3h1.2v1.2h-1.2zM446.4 410.3h1.2v1.2h-1.2zM440.2 410.3h1.2v1.2h-1.2zM441.5 410.1h1.2v1.2h-1.2zM446.5 410.3h1.2v1.2h-1.2zM440.0 410.3h1.2v1.2h-1.2zM443.0 410.3h1.2v1.2h-1.2zM435.6 410.0h1.2v1.2h-1.2zM443.8 410.3h1.2v1.2h-1.2zM435.6 410.3h1.2v1.2h-1.2zM441.1 410.3h1.2v1.2h-1.2zM448.6 407.4h1.2v1.2h-1.2zM446.6 409.1h1.2v1.2h-1.2zM435.6 410.3h1.2v1.2h-1.2zM435.6 409.7h1.2v1.2h-1.2zM446.7 409.0h1.2v1.2h-1.2zM443.0 408.5h1.2v1.2h-1.2z"/>
<path fill="rgb(95,95,95)" d="M29.6 247.2h1.0v1.0h-1.0zM26.3 241.5h1.0v1.0h-1.0zM38.5 244.6h1.0v1.0h-1.0zM35.6 247.0h1.0v1.0h-1.0zM38.0 246.9h1.0v1.0h-1.0zM37.8 246.7h1.0v1.0h-1.0zM51.4 293.1h1.0v1.0h-1.0zM54.5 286.7h1.0v1.0h-1.0zM55.3 292.2h1.0v1.0h-1.0zM59.3 296.0h1.0v1.0h-1.0zM58.4 296.5h1.0v1.0h-1.0zM54.7 290.9h1.0v1.0h-1.0zM45.7 287.4h1.0v1.0h-1.0zM53.9 291.9h1.0v1.0h-1.0zM52.6 289.4h1.0v1.0h-1.0zM55.8 296.5h1.0v1.0h-1.0zM55.4 292.0h1.0v1.0h-1.0zM56.9 296.0h1.0v1.0h-1.0zM51.7 295.6h1.0v1.0h-1.0zM47.1 294.4h1.0v1.0h-1.0zM30.7 358.7h1.0v1.0h-1.0zM42.7 366.8h1.0v1.0h-1.0zM31.7 361.4h1.0v1.0h-1.0zM35.8 358.7h1.0v1.0h-1.0zM33.4 365.0h1.0v1.0h-1.0zM36.5 362.8h1.0v1.0h-1.0zM30.7 359.7h1.0v1.0h-1.0zM30.8 362.0h1.0v1.0h-1.0zM22.4 364.5h1.0v1.0h-1.0zM34.7 365.7h1.0v1.0h-1.0zM33.8 358.4h1.0v1.0h-1.0zM65.0 358.6h1.0v1.0h-1.0zM60.4 362.5h1.0v1.0h-1.0zM66.0 365.1h1.0v1.0h-1.0zM132.9 252.7h1.0v1.0h-1.0zM132.9 254.9h1.0v1.0h-1.0zM131.8 252.0h1.0v1.0h-1.0zM133.7 250.0h1.0v1.0h-1.0zM162.5 287.9h1.0v1.0h-1.0zM157.6 291.9h1.0v1.0h-1.0zM154.7 290.6h1.0v1.0h-1.0zM153.0 291.7h1.0v1.0h-1.0zM157.5 291.0h1.0v1.0h-1.0zM154.4 290.7h1.0v1.0h-1.0zM163.2 296.5h1.0v1.0h-1.0zM161.3 283.0h1.0v1.0h-1.0zM158.0 293.9h1.0v1.0h-1.0zM158.0 292.0h1.0v1.0h-1.0zM156.9 289.5h1.0v1.0h-1.0zM169.6 291.2h1.0v1.0h-1.0zM149.3 286.1h1.0v1.0h-1.0zM158.4 292.7h1.0v1.0h-1.0zM162.9 294.8h1.0v1.0h-1.0zM164.1 296.5h1.0v1.0h-1.0zM163.9 285.4h1.0v1.0h-1.0zM162.8 294.1h1.0v1.0h-1.0zM148.3 356.1h1.0v1.0h-1.0zM138.0 360.8h1.0v1.0h-1.0zM130.7 366.8h1.0v1.0h-1.0zM135.7 366.3h1.0v1.0h-1.0zM142.5 352.3h1.0v1.0h-1.0zM139.5 357.3h1.0v1.0h-1.0zM136.1 364.5h1.0v1.0h-1.0zM142.5 354.2h1.0v1.0h-1.0zM145.3 366.6h1.0v1.0h-1.0zM133.9 355.8h1.0v1.0h-1.0zM132.0 345.9h1.0v1.0h-1.0zM142.4 351.0h1.0v1.0h-1.0zM140.4 358.7h1.0v1.0h-1.0zM136.2 360.4h1.0v1.0h-1.0zM138.2 354.9h1.0v1.0h-1.0zM140.8 350.2h1.0v1.0h-1.0zM137.2 366.2h1.0v1.0h-1.0zM142.7 348.9h1.0v1.0h-1.0zM137.0 364.0h1.0v1.0h-1.0zM139.5 368.2h1.0v1.0h-1.0zM141.4 365.4h1.0v1.0h-1.0zM141.5 378.3h1.0v1.0h-1.0zM137.9 355.1h1.0v1.0h-1.0zM144.2 356.6h1.0v1.0h-1.0zM235.6 253.4h1.0v1.0h-1.0zM237.3 253.3h1.0v1.0h-1.0zM233.9 252.7h1.0v1.0h-1.0zM231.1 254.7h1.0v1.0h-1.0zM233.3 248.5h1.0v1.0h-1.0zM229.7 247.2h1.0v1.0h-1.0zM236.6 254.9h1.0v1.0h-1.0zM258.8 295.3h1.0v1.0h-1.0zM261.9 293.1h1.0v1.0h-1.0zM256.1 293.9h1.0v1.0h-1.0zM262.7 295.5h1.0v1.0h-1.0zM263.1 290.4h1.0v1.0h-1.0zM256.5 289.8h1.0v1.0h-1.0zM269.0 296.2h1.0v1.0h-1.0zM264.8 295.3h1.0v1.0h-1.0zM257.3 288.6h1.0v1.0h-1.0zM253.1 293.9h1.0v1.0h-1.0zM258.5 291.2h1.0v1.0h-1.0zM258.2 296.5h1.0v1.0h-1.0zM255.2 288.9h1.0v1.0h-1.0zM254.3 290.4h1.0v1.0h-1.0zM263.7 296.5h1.0v1.0h-1.0zM268.8 293.0h1.0v1.0h-1.0zM263.3 288.4h1.0v1.0h-1.0zM259.9 293.0h1.0v1.0h-1.0zM262.1 293.6h1.0v1.0h-1.0zM359.2 245.5h1.0v1.0h-1.0zM367.2 247.4h1.0v1.0h-1.0zM363.6 245.2h1.0v1.0h-1.0zM364.5 258.7h1.0v1.0h-1.0zM362.9 258.3h1.0v1.0h-1.0zM367.5 247.0h1.0v1.0h-1.0zM367.8 250.5h1.0v1.0h-1.0zM362.7 252.0h1.0v1.0h-1.0zM365.6 251.0h1.0v1.0h-1.0zM360.7 255.2h1.0v1.0h-1.0zM368.4 286.7h1.0v1.0h-1.0zM366.0 296.0h1.0v1.0h-1.0zM371.2 291.4h1.0v1.0h-1.0zM366.3 296.5h1.0v1.0h-1.0zM367.6 288.7h1.0v1.0h-1.0zM367.0 296.5h1.0v1.0h-1.0zM368.2 290.5h1.0v1.0h-1.0zM368.9 293.3h1.0v1.0h-1.0zM368.9 286.4h1.0v1.0h-1.0zM351.3 373.7h1.0v1.0h-1.0zM344.5 369.5h1.0v1.0h-1.0zM345.5 378.1h1.0v1.0h-1.0zM339.1 349.8h1.0v1.0h-1.0zM340.6 384.1h1.0v1.0h-1.0zM340.7 375.0h1.0v1.0h-1.0zM343.9 376.1h1.0v1.0h-1.0zM336.1 377.2h1.0v1.0h-1.0zM340.5 370.8h1.0v1.0h-1.0zM348.9 371.7h1.0v1.0h-1.0zM350.6 352.5h1.0v1.0h-1.0zM341.5 366.7h1.0v1.0h-1.0zM351.6 368.9h1.0v1.0h-1.0zM351.1 376.3h1.0v1.0h-1.0zM350.0 369.1h1.0v1.0h-1.0zM346.3 389.2h1.0v1.0h-1.0zM336.9 366.8h1.0v1.0h-1.0zM348.5 373.1h1.0v1.0h-1.0zM333.1 400.0h1.0v1.0h-1.0zM348.5 368.2h1.0v1.0h-1.0zM374.9 398.9h1.0v1.0h-1.0zM372.8 404.7h1.0v1.0h-1.0zM372.7 407.0h1.0v1.0h-1.0zM371.9 398.8h1.0v1.0h-1.0zM466.4 275.1h1.0v1.0h-1.0zM466.9 288.5h1.0v1.0h-1.0zM461.4 291.3h1.0v1.0h-1.0zM463.1 284.6h1.0v1.0h-1.0zM466.9 288.4h1.0v1.0h-1.0zM468.7 286.9h1.0v1.0h-1.0zM465.0 291.4h1.0v1.0h-1.0zM465.4 289.8h1.0v1.0h-1.0zM464.6 283.8h1.0v1.0h-1.0zM457.7 374.9h1.0v1.0h-1.0zM449.6 371.5h1.0v1.0h-1.0zM455.2 379.2h1.0v1.0h-1.0zM453.0 382.2h1.0v1.0h-1.0zM448.8 371.8h1.0v1.0h-1.0zM451.6 367.9h1.0v1.0h-1.0zM451.9 374.2h1.0v1.0h-1.0zM460.3 380.8h1.0v1.0h-1.0zM449.8 371.2h1.0v1.0h-1.0zM447.6 374.8h1.0v1.0h-1.0zM449.3 371.0h1.0v1.0h-1.0zM462.1 378.9h1.0v1.0h-1.0zM450.5 377.5h1.0v1.0h-1.0zM452.1 384.0h1.0v1.0h-1.0zM459.2 375.3h1.0v1.0h-1.0zM459.1 372.6h1.0v1.0h-1.0zM454.7 370.1h1.0v1.0h-1.0zM450.9 371.1h1.0v1.0h-1.0zM452.6 379.3h1.0v1.0h-1.0zM450.3 374.7h1.0v1.0h-1.0zM455.9 382.5h1.0v1.0h-1.0zM446.8 369.0h1.0v1.0h-1.0zM465.2 374.8h1.0v1.0h-1.0zM443.4 374.7h1.0v1.0h-1.0zM445.7 382.5h1.0v1.0h-1.0zM438.0 404.9h1.0v1.0h-1.0zM445.3 398.1h1.0v1.0h-1.0zM435.8 396.8h1.0v1.0h-1.0zM439.5 401.8h1.0v1.0h-1.0zM444.1 407.8h1.0v1.0h-1.0zM445.7 402.0h1.0v1.0h-1.0zM440.9 391.8h1.0v1.0h-1.0zM441.9 405.6h1.0v1.0h-1.0zM438.5 396.5h1.0v1.0h-1.0zM447.9 398.2h1.0v1.0h-1.0zM451.5 399.7h1.0v1.0h-1.0zM475.7 404.8h1.0v1.0h-1.0z"/>
<path fill="rgb(95,95,95)" d="M25.2 249.9h1.2v1.2h-1.2zM22.7 246.6h1.2v1.2h-1.2zM24.5 245.9h1.2v1.2h-1.2zM22.2 250.3h1.2v1.2h-1.2zM22.8 249.1h1.2v1.2h-1.2zM24.4 246.9h1.2v1.2h-1.2zM27.8 249.8h1.2v1.2h-1.2zM24.9 286.0h1.2v1.2h-1.2zM34.5 296.3h1.2v1.2h-1.2zM36.6 290.8h1.2v1.2h-1.2zM28.6 293.4h1.2v1.2h-1.2zM25.7 295.2h1.2v1.2h-1.2zM27.7 296.3h1.2v1.2h-1.2zM25.5 290.6h1.2v1.2h-1.2zM22.2 293.1h1.2v1.2h-1.2zM32.1 294.7h1.2v1.2h-1.2zM35.1 288.9h1.2v1.2h-1.2zM22.2 285.7h1.2v1.2h-1.2zM32.4 296.3h1.2v1.2h-1.2zM33.7 295.9h1.2v1.2h-1.2zM33.2 293.8h1.2v1.2h-1.2zM22.2 295.6h1.2v1.2h-1.2zM29.4 295.0h1.2v1.2h-1.2zM26.0 296.3h1.2v1.2h-1.2zM26.8 291.8h1.2v1.2h-1.2zM27.2 296.3h1.2v1.2h-1.2zM30.5 296.0h1.2v1.2h-1.2zM52.7 296.3h1.2v1.2h-1.2zM53.8 296.3h1.2v1.2h-1.2zM54.7 295.2h1.2v1.2h-1.2zM43.7 296.1h1.2v1.2h-1.2zM57.3 296.3h1.2v1.2h-1.2zM54.7 296.3h1.2v1.2h-1.2zM26.3 365.8h1.2v1.2h-1.2zM24.8 363.8h1.2v1.2h-1.2zM63.1 362.7h1.2v1.2h-1.2zM63.3 361.4h1.2v1.2h-1.2zM64.2 362.8h1.2v1.2h-1.2zM24.8 407.7h1.2v1.2h-1.2zM29.1 407.0h1.2v1.2h-1.2zM35.9 409.3h1.2v1.2h-1.2zM31.5 408.1h1.2v1.2h-1.2zM37.5 405.2h1.2v1.2h-1.2zM31.2 407.9h1.2v1.2h-1.2zM36.0 410.3h1.2v1.2h-1.2zM33.0 410.3h1.2v1.2h-1.2zM33.3 407.5h1.2v1.2h-1.2zM33.4 402.4h1.2v1.2h-1.2zM33.5 399.1h1.2v1.2h-1.2zM40.1 410.3h1.2v1.2h-1.2zM32.6 407.5h1.2v1.2h-1.2zM34.6 406.3h1.2v1.2h-1.2zM22.4 410.3h1.2v1.2h-1.2zM35.3 410.3h1.2v1.2h-1.2zM30.5 406.5h1.2v1.2h-1.2zM47.0 409.5h1.2v1.2h-1.2zM30.3 406.3h1.2v1.2h-1.2zM39.6 410.3h1.2v1.2h-1.2zM24.0 405.9h1.2v1.2h-1.2zM27.5 410.2h1.2v1.2h-1.2zM45.5 405.2h1.2v1.2h-1.2zM36.3 408.3h1.2v1.2h-1.2zM28.9 405.7h1.2v1.2h-1.2zM23.3 404.6h1.2v1.2h-1.2zM33.4 401.6h1.2v1.2h-1.2zM22.4 410.3h1.2v1.2h-1.2zM30.0 410.3h1.2v1.2h-1.2zM27.9 410.3h1.2v1.2h-1.2zM30.6 409.0h1.2v1.2h-1.2zM33.6 409.6h1.2v1.2h-1.2zM26.9 410.3h1.2v1.2h-1.2zM28.8 409.0h1.2v1.2h-1.2zM27.5 410.3h1.2v1.2h-1.2zM22.5 410.3h1.2v1.2h-1.2zM135.1 292.8h1.2v1.2h-1.2zM129.2 294.7h1.2v1.2h-1.2zM134.1 291.4h1.2v1.2h-1.2zM134.9 293.8h1.2v1.2h-1.2zM132.9 296.3h1.2v1.2h-1.2zM130.1 296.0h1.2v1.2h-1.2zM131.4 290.2h1.2v1.2h-1.2zM125.4 296.0h1.2v1.2h-1.2zM133.8 293.9h1.2v1.2h-1.2zM129.3 286.3h1.2v1.2h-1.2zM128.6 290.9h1.2v1.2h-1.2zM125.9 294.2h1.2v1.2h-1.2zM158.0 296.3h1.2v1.2h-1.2zM152.6 296.3h1.2v1.2h-1.2zM162.9 296.3h1.2v1.2h-1.2zM159.8 295.7h1.2v1.2h-1.2zM158.3 296.3h1.2v1.2h-1.2zM126.3 405.7h1.2v1.2h-1.2zM137.9 410.3h1.2v1.2h-1.2zM140.9 410.3h1.2v1.2h-1.2zM145.1 403.1h1.2v1.2h-1.2zM137.2 409.4h1.2v1.2h-1.2zM140.6 407.6h1.2v1.2h-1.2zM138.8 406.9h1.2v1.2h-1.2zM141.5 410.3h1.2v1.2h-1.2zM128.0 402.8h1.2v1.2h-1.2zM134.4 399.4h1.2v1.2h-1.2zM139.0 404.8h1.2v1.2h-1.2zM142.1 408.9h1.2v1.2h-1.2zM142.4 404.9h1.2v1.2h-1.2zM137.1 409.7h1.2v1.2h-1.2zM137.8 407.9h1.2v1.2h-1.2zM138.0 404.8h1.2v1.2h-1.2zM126.3 403.4h1.2v1.2h-1.2zM137.9 405.0h1.2v1.2h-1.2zM133.5 408.0h1.2v1.2h-1.2zM137.2 410.3h1.2v1.2h-1.2zM135.7 401.2h1.2v1.2h-1.2zM138.2 404.2h1.2v1.2h-1.2zM131.0 407.3h1.2v1.2h-1.2zM136.0 408.5h1.2v1.2h-1.2zM128.5 399.8h1.2v1.2h-1.2zM140.5 398.4h1.2v1.2h-1.2zM136.8 408.0h1.2v1.2h-1.2zM133.2 404.5h1.2v1.2h-1.2zM144.0 409.0h1.2v1.2h-1.2zM134.8 407.9h1.2v1.2h-1.2zM126.3 410.3h1.2v1.2h-1.2zM131.3 406.8h1.2v1.2h-1.2zM126.3 408.0h1.2v1.2h-1.2zM133.4 409.4h1.2v1.2h-1.2zM126.3 410.3h1.2v1.2h-1.2zM129.7 410.3h1.2v1.2h-1.2zM129.3 410.3h1.2v1.2h-1.2zM131.1 409.3h1.2v1.2h-1.2zM233.8 290.9h1.2v1.2h-1.2zM231.2 293.5h1.2v1.2h-1.2zM228.9 296.3h1.2v1.2h-1.2zM237.1 291.5h1.2v1.2h-1.2zM235.1 291.6h1.2v1.2h-1.2zM228.9 294.5h1.2v1.2h-1.2zM237.3 291.8h1.2v1.2h-1.2zM237.3 293.0h1.2v1.2h-1.2zM235.3 292.4h1.2v1.2h-1.2zM229.2 288.1h1.2v1.2h-1.2zM229.9 294.3h1.2v1.2h-1.2zM239.6 295.4h1.2v1.2h-1.2zM228.9 291.4h1.2v1.2h-1.2zM235.6 291.5h1.2v1.2h-1.2zM232.7 290.3h1.2v1.2h-1.2zM238.3 295.9h1.2v1.2h-1.2zM240.7 295.6h1.2v1.2h-1.2zM236.4 296.3h1.2v1.2h-1.2zM258.8 296.3h1.2v1.2h-1.2zM261.3 295.0h1.2v1.2h-1.2zM257.9 296.1h1.2v1.2h-1.2zM260.9 296.3h1.2v1.2h-1.2zM254.9 296.3h1.2v1.2h-1.2zM231.0 369.1h1.2v1.2h-1.2zM238.3 368.7h1.2v1.2h-1.2zM231.8 368.2h1.2v1.2h-1.2zM244.2 402.0h1.2v1.2h-1.2zM229.6 406.3h1.2v1.2h-1.2zM249.2 402.5h1.2v1.2h-1.2zM247.1 401.5h1.2v1.2h-1.2zM238.4 405.7h1.2v1.2h-1.2zM230.6 401.2h1.2v1.2h-1.2zM240.3 410.3h1.2v1.2h-1.2zM237.1 403.3h1.2v1.2h-1.2zM241.7 405.1h1.2v1.2h-1.2zM241.1 400.9h1.2v1.2h-1.2zM239.6 403.4h1.2v1.2h-1.2zM242.8 400.0h1.2v1.2h-1.2zM238.4 407.9h1.2v1.2h-1.2zM244.8 409.3h1.2v1.2h-1.2zM229.6 409.4h1.2v1.2h-1.2zM243.1 406.7h1.2v1.2h-1.2zM240.0 405.2h1.2v1.2h-1.2zM233.1 404.0h1.2v1.2h-1.2zM256.3 405.3h1.2v1.2h-1.2zM229.6 405.9h1.2v1.2h-1.2zM237.4 405.9h1.2v1.2h-1.2zM240.9 401.0h1.2v1.2h-1.2zM238.7 409.7h1.2v1.2h-1.2zM241.5 408.8h1.2v1.2h-1.2zM232.5 408.7h1.2v1.2h-1.2zM240.9 405.5h1.2v1.2h-1.2zM247.4 406.4h1.2v1.2h-1.2zM245.9 398.7h1.2v1.2h-1.2zM236.3 409.2h1.2v1.2h-1.2zM236.7 407.9h1.2v1.2h-1.2zM245.5 410.3h1.2v1.2h-1.2zM239.8 410.2h1.2v1.2h-1.2zM231.7 408.1h1.2v1.2h-1.2zM248.5 409.0h1.2v1.2h-1.2zM241.1 409.5h1.2v1.2h-1.2zM229.6 406.8h1.2v1.2h-1.2zM247.3 409.2h1.2v1.2h-1.2zM230.8 409.9h1.2v1.2h-1.2zM238.1 408.5h1.2v1.2h-1.2zM242.2 410.3h1.2v1.2h-1.2zM229.6 407.7h1.2v1.2h-1.2zM363.2 241.5h1.2v1.2h-1.2zM363.1 239.2h1.2v1.2h-1.2zM361.6 246.3h1.2v1.2h-1.2zM364.3 242.0h1.2v1.2h-1.2zM362.4 244.5h1.2v1.2h-1.2zM364.5 240.5h1.2v1.2h-1.2zM340.5 294.8h1.2v1.2h-1.2zM332.9 287.4h1.2v1.2h-1.2zM337.7 290.0h1.2v1.2h-1.2zM334.3 292.6h1.2v1.2h-1.2zM341.3 287.9h1.2v1.2h-1.2zM334.5 290.4h1.2v1.2h-1.2zM333.4 293.2h1.2v1.2h-1.2zM340.2 296.3h1.2v1.2h-1.2zM336.8 291.6h1.2v1.2h-1.2zM336.8 294.1h1.2v1.2h-1.2zM335.9 291.0h1.2v1.2h-1.2zM341.1 295.0h1.2v1.2h-1.2zM338.2 292.5h1.2v1.2h-1.2zM338.6 293.9h1.2v1.2h-1.2zM334.8 296.0h1.2v1.2h-1.2zM338.0 291.0h1.2v1.2h-1.2zM340.2 295.0h1.2v1.2h-1.2zM332.9 293.0h1.2v1.2h-1.2zM339.2 293.6h1.2v1.2h-1.2zM336.8 296.3h1.2v1.2h-1.2zM334.3 294.5h1.2v1.2h-1.2zM335.8 294.8h1.2v1.2h-1.2zM336.8 296.3h1.2v1.2h-1.2zM333.2 295.0h1.2v1.2h-1.2zM345.2 351.7h1.2v1.2h-1.2zM345.1 350.9h1.2v1.2h-1.2zM349.6 345.9h1.2v1.2h-1.2zM349.6 353.6h1.2v1.2h-1.2zM348.7 353.2h1.2v1.2h-1.2zM351.3 350.7h1.2v1.2h-1.2zM343.9 353.6h1.2v1.2h-1.2zM341.7 354.4h1.2v1.2h-1.2zM345.8 352.2h1.2v1.2h-1.2zM345.7 356.1h1.2v1.2h-1.2zM347.1 354.9h1.2v1.2h-1.2zM347.0 351.5h1.2v1.2h-1.2zM345.0 354.5h1.2v1.2h-1.2zM337.1 410.3h1.2v1.2h-1.2zM338.3 403.7h1.2v1.2h-1.2zM332.4 405.6h1.2v1.2h-1.2zM336.9 407.0h1.2v1.2h-1.2zM339.9 405.7h1.2v1.2h-1.2zM336.7 407.5h1.2v1.2h-1.2zM332.6 410.3h1.2v1.2h-1.2zM334.7 406.9h1.2v1.2h-1.2zM332.7 410.3h1.2v1.2h-1.2zM340.8 407.6h1.2v1.2h-1.2zM339.0 401.5h1.2v1.2h-1.2zM338.5 407.4h1.2v1.2h-1.2zM332.4 410.3h1.2v1.2h-1.2zM338.9 405.0h1.2v1.2h-1.2zM332.6 407.7h1.2v1.2h-1.2zM332.4 401.6h1.2v1.2h-1.2zM336.5 406.6h1.2v1.2h-1.2zM336.2 407.3h1.2v1.2h-1.2zM333.6 405.5h1.2v1.2h-1.2zM332.4 410.3h1.2v1.2h-1.2zM332.4 410.0h1.2v1.2h-1.2zM335.1 407.0h1.2v1.2h-1.2zM339.3 410.3h1.2v1.2h-1.2zM332.4 410.2h1.2v1.2h-1.2zM332.4 410.3h1.2v1.2h-1.2zM335.1 409.2h1.2v1.2h-1.2zM341.0 410.0h1.2v1.2h-1.2zM471.6 267.7h1.2v1.2h-1.2zM470.7 263.8h1.2v1.2h-1.2zM438.2 295.1h1.2v1.2h-1.2zM438.0 292.8h1.2v1.2h-1.2zM438.3 296.3h1.2v1.2h-1.2zM437.7 296.3h1.2v1.2h-1.2zM437.5 290.0h1.2v1.2h-1.2zM441.0 292.0h1.2v1.2h-1.2zM439.9 290.5h1.2v1.2h-1.2zM441.6 296.3h1.2v1.2h-1.2zM443.6 296.3h1.2v1.2h-1.2zM435.9 296.3h1.2v1.2h-1.2zM443.7 296.3h1.2v1.2h-1.2zM435.9 296.2h1.2v1.2h-1.2zM445.1 288.5h1.2v1.2h-1.2zM441.6 292.7h1.2v1.2h-1.2zM443.9 291.6h1.2v1.2h-1.2zM441.5 296.3h1.2v1.2h-1.2zM448.2 296.3h1.2v1.2h-1.2zM439.6 288.2h1.2v1.2h-1.2zM441.8 291.3h1.2v1.2h-1.2zM438.7 289.8h1.2v1.2h-1.2zM438.0 292.4h1.2v1.2h-1.2zM443.5 295.0h1.2v1.2h-1.2zM445.4 295.3h1.2v1.2h-1.2zM442.2 294.3h1.2v1.2h-1.2zM447.3 293.2h1.2v1.2h-1.2zM440.5 401.0h1.2v1.2h-1.2zM435.7 406.0h1.2v1.2h-1.2zM447.9 410.3h1.2v1.2h-1.2zM439.1 401.2h1.2v1.2h-1.2zM443.5 398.2h1.2v1.2h-1.2zM440.4 405.4h1.2v1.2h-1.2zM440.8 409.2h1.2v1.2h-1.2zM441.8 404.8h1.2v1.2h-1.2zM440.8 410.3h1.2v1.2h-1.2zM445.0 410.3h1.2v1.2h-1.2zM445.8 405.6h1.2v1.2h-1.2zM440.4 404.9h1.2v1.2h-1.2zM440.6 408.7h1.2v1.2h-1.2zM447.2 402.2h1.2v1.2h-1.2zM439.7 400.5h1.2v1.2h-1.2zM436.0 410.2h1.2v1.2h-1.2zM443.2 410.3h1.2v1.2h-1.2zM439.4 403.4h1.2v1.2h-1.2zM447.7 404.1h1.2v1.2h-1.2zM444.4 408.3h1.2v1.2h-1.2zM440.7 407.5h1.2v1.2h-1.2zM435.6 408.8h1.2v1.2h-1.2zM442.3 402.6h1.2v1.2h-1.2zM441.2 408.5h1.2v1.2h-1.2zM439.4 406.6h1.2v1.2h-1.2zM437.8 409.9h1.2v1.2h-1.2zM449.0 409.3h1.2v1.2h-1.2zM446.5 410.3h1.2v1.2h-1.2zM435.6 408.9h1.2v1.2h-1.2zM447.3 409.8h1.2v1.2h-1.2zM444.5 409.5h1.2v1.2h-1.2zM441.7 410.3h1.2v1.2h-1.2zM436.0 410.3h1.2v1.2h-1.2zM444.7 409.7h1.2v1.2h-1.2z"/>
<path fill="rgb(127,127,127)" d="M40.6 246.7h1.0v1.0h-1.0zM31.5 244.3h1.0v1.0h-1.0zM29.0 249.0h1.0v1.0h-1.0zM40.4 246.9h1.0v1.0h-1.0zM31.8 249.0h1.0v1.0h-1.0zM24.9 242.8h1.0v1.0h-1.0zM31.8 245.2h1.0v1.0h-1.0zM32.7 248.4h1.0v1.0h-1.0zM31.7 246.1h1.0v1.0h-1.0zM53.4 296.5h1.0v1.0h-1.0zM51.4 289.6h1.0v1.0h-1.0zM54.0 283.6h1.0v1.0h-1.0zM55.8 286.0h1.0v1.0h-1.0zM52.1 294.4h1.0v1.0h-1.0zM56.0 292.5h1.0v1.0h-1.0zM48.9 293.8h1.0v1.0h-1.0zM53.6 284.6h1.0v1.0h-1.0zM50.2 290.0h1.0v1.0h-1.0zM50.8 291.3h1.0v1.0h-1.0zM46.4 292.4h1.0v1.0h-1.0zM53.5 296.1h1.0v1.0h-1.0zM52.0 293.2h1.0v1.0h-1.0zM53.8 291.8h1.0v1.0h-1.0zM58.7 291.8h1.0v1.0h-1.0zM50.1 248.4h1.0v1.0h-1.0zM59.3 251.4h1.0v1.0h-1.0zM60.2 250.1h1.0v1.0h-1.0zM28.9 358.5h1.0v1.0h-1.0zM24.7 366.7h1.0v1.0h-1.0zM33.6 361.8h1.0v1.0h-1.0zM38.2 358.0h1.0v1.0h-1.0zM34.1 363.3h1.0v1.0h-1.0zM38.8 361.7h1.0v1.0h-1.0zM33.6 361.5h1.0v1.0h-1.0zM24.9 362.7h1.0v1.0h-1.0zM31.0 364.5h1.0v1.0h-1.0zM29.0 362.5h1.0v1.0h-1.0zM41.1 365.1h1.0v1.0h-1.0zM27.0 364.2h1.0v1.0h-1.0zM33.2 364.8h1.0v1.0h-1.0zM26.0 362.5h1.0v1.0h-1.0zM60.3 365.1h1.0v1.0h-1.0zM36.4 398.3h1.0v1.0h-1.0zM40.9 403.2h1.0v1.0h-1.0zM35.9 403.8h1.0v1.0h-1.0zM39.8 405.3h1.0v1.0h-1.0zM52.8 392.1h1.0v1.0h-1.0zM27.0 408.4h1.0v1.0h-1.0zM53.3 405.2h1.0v1.0h-1.0zM22.4 406.1h1.0v1.0h-1.0zM50.3 402.8h1.0v1.0h-1.0zM31.4 399.7h1.0v1.0h-1.0zM131.3 251.0h1.0v1.0h-1.0zM135.8 248.5h1.0v1.0h-1.0zM132.6 250.0h1.0v1.0h-1.0zM132.5 251.8h1.0v1.0h-1.0zM133.6 253.9h1.0v1.0h-1.0zM126.3 254.2h1.0v1.0h-1.0zM134.4 250.1h1.0v1.0h-1.0zM129.7 255.7h1.0v1.0h-1.0zM132.2 244.1h1.0v1.0h-1.0zM164.3 286.7h1.0v1.0h-1.0zM157.3 293.9h1.0v1.0h-1.0zM157.1 296.5h1.0v1.0h-1.0zM160.0 290.4h1.0v1.0h-1.0zM160.6 287.5h1.0v1.0h-1.0zM157.0 289.1h1.0v1.0h-1.0zM158.5 290.4h1.0v1.0h-1.0zM162.3 289.8h1.0v1.0h-1.0zM163.1 293.6h1.0v1.0h-1.0zM157.8 294.5h1.0v1.0h-1.0zM150.0 292.1h1.0v1.0h-1.0zM157.6 296.5h1.0v1.0h-1.0zM158.8 289.2h1.0v1.0h-1.0zM163.6 293.9h1.0v1.0h-1.0zM156.9 291.3h1.0v1.0h-1.0zM160.1 292.7h1.0v1.0h-1.0zM140.0 347.6h1.0v1.0h-1.0zM145.2 367.6h1.0v1.0h-1.0zM133.5 370.6h1.0v1.0h-1.0zM140.7 361.9h1.0v1.0h-1.0zM141.9 364.8h1.0v1.0h-1.0zM129.6 365.7h1.0v1.0h-1.0zM144.1 354.5h1.0v1.0h-1.0zM149.2 354.2h1.0v1.0h-1.0zM143.3 359.5h1.0v1.0h-1.0zM128.3 365.8h1.0v1.0h-1.0zM126.3 372.1h1.0v1.0h-1.0zM147.0 358.6h1.0v1.0h-1.0zM142.4 368.9h1.0v1.0h-1.0zM142.2 351.8h1.0v1.0h-1.0zM136.4 365.7h1.0v1.0h-1.0zM130.3 363.4h1.0v1.0h-1.0zM162.2 369.8h1.0v1.0h-1.0zM171.8 355.8h1.0v1.0h-1.0zM148.6 399.9h1.0v1.0h-1.0zM134.8 401.0h1.0v1.0h-1.0zM143.7 397.8h1.0v1.0h-1.0zM140.6 402.2h1.0v1.0h-1.0zM147.3 394.3h1.0v1.0h-1.0zM136.8 408.8h1.0v1.0h-1.0zM138.8 398.6h1.0v1.0h-1.0zM144.5 403.6h1.0v1.0h-1.0zM140.0 406.9h1.0v1.0h-1.0zM147.2 407.8h1.0v1.0h-1.0zM165.3 391.6h1.0v1.0h-1.0zM231.9 258.4h1.0v1.0h-1.0zM234.2 253.5h1.0v1.0h-1.0zM235.6 256.4h1.0v1.0h-1.0zM238.5 259.3h1.0v1.0h-1.0zM234.4 257.3h1.0v1.0h-1.0zM267.1 258.2h1.0v1.0h-1.0zM265.7 255.8h1.0v1.0h-1.0zM255.5 288.7h1.0v1.0h-1.0zM256.6 291.5h1.0v1.0h-1.0zM262.9 293.8h1.0v1.0h-1.0zM258.7 294.8h1.0v1.0h-1.0zM258.0 293.6h1.0v1.0h-1.0zM266.3 291.3h1.0v1.0h-1.0zM263.1 296.2h1.0v1.0h-1.0zM261.2 295.6h1.0v1.0h-1.0zM250.4 294.9h1.0v1.0h-1.0zM259.3 291.2h1.0v1.0h-1.0zM260.0 290.1h1.0v1.0h-1.0zM262.1 290.9h1.0v1.0h-1.0zM261.8 292.9h1.0v1.0h-1.0zM267.0 372.6h1.0v1.0h-1.0zM244.1 375.2h1.0v1.0h-1.0zM256.5 388.9h1.0v1.0h-1.0zM229.6 365.7h1.0v1.0h-1.0zM229.6 377.3h1.0v1.0h-1.0zM255.2 400.9h1.0v1.0h-1.0zM252.9 378.6h1.0v1.0h-1.0zM238.4 367.9h1.0v1.0h-1.0zM248.1 372.9h1.0v1.0h-1.0zM243.2 389.2h1.0v1.0h-1.0zM247.9 357.1h1.0v1.0h-1.0zM252.9 349.9h1.0v1.0h-1.0zM236.3 367.1h1.0v1.0h-1.0zM238.0 345.0h1.0v1.0h-1.0zM236.2 394.7h1.0v1.0h-1.0zM234.9 390.3h1.0v1.0h-1.0zM270.6 370.6h1.0v1.0h-1.0zM272.6 403.6h1.0v1.0h-1.0zM272.8 400.3h1.0v1.0h-1.0zM270.8 397.3h1.0v1.0h-1.0zM269.9 401.0h1.0v1.0h-1.0zM273.3 401.1h1.0v1.0h-1.0zM270.1 406.6h1.0v1.0h-1.0zM273.2 403.6h1.0v1.0h-1.0zM271.4 401.5h1.0v1.0h-1.0zM367.7 253.7h1.0v1.0h-1.0zM364.0 242.0h1.0v1.0h-1.0zM360.7 251.0h1.0v1.0h-1.0zM357.8 253.6h1.0v1.0h-1.0zM378.1 248.0h1.0v1.0h-1.0zM339.1 260.2h1.0v1.0h-1.0zM332.9 241.9h1.0v1.0h-1.0zM332.9 256.5h1.0v1.0h-1.0zM332.9 251.4h1.0v1.0h-1.0zM339.7 284.7h1.0v1.0h-1.0zM339.1 231.2h1.0v1.0h-1.0zM332.9 242.9h1.0v1.0h-1.0zM361.0 257.1h1.0v1.0h-1.0zM389.9 250.8h1.0v1.0h-1.0zM379.4 250.2h1.0v1.0h-1.0zM361.3 258.7h1.0v1.0h-1.0zM371.4 240.8h1.0v1.0h-1.0zM376.1 247.9h1.0v1.0h-1.0zM367.7 296.1h1.0v1.0h-1.0zM366.2 289.1h1.0v1.0h-1.0zM364.9 283.1h1.0v1.0h-1.0zM367.8 293.3h1.0v1.0h-1.0zM367.1 295.9h1.0v1.0h-1.0zM365.1 287.4h1.0v1.0h-1.0zM365.6 291.4h1.0v1.0h-1.0zM367.5 287.4h1.0v1.0h-1.0zM348.5 377.2h1.0v1.0h-1.0zM343.7 367.7h1.0v1.0h-1.0zM349.0 369.4h1.0v1.0h-1.0zM345.8 373.4h1.0v1.0h-1.0zM343.1 354.2h1.0v1.0h-1.0zM345.4 380.8h1.0v1.0h-1.0zM356.8 365.0h1.0v1.0h-1.0zM343.9 370.4h1.0v1.0h-1.0zM349.2 378.6h1.0v1.0h-1.0zM347.4 371.0h1.0v1.0h-1.0zM347.5 366.9h1.0v1.0h-1.0zM332.4 364.3h1.0v1.0h-1.0zM338.1 369.1h1.0v1.0h-1.0zM343.9 350.0h1.0v1.0h-1.0zM341.0 373.9h1.0v1.0h-1.0zM343.5 379.4h1.0v1.0h-1.0zM343.8 371.8h1.0v1.0h-1.0zM349.1 357.5h1.0v1.0h-1.0zM335.9 373.1h1.0v1.0h-1.0zM341.4 402.1h1.0v1.0h-1.0zM347.6 407.8h1.0v1.0h-1.0zM352.2 406.6h1.0v1.0h-1.0zM347.7 401.9h1.0v1.0h-1.0zM358.8 406.3h1.0v1.0h-1.0zM348.2 410.5h1.0v1.0h-1.0zM371.0 404.9h1.0v1.0h-1.0zM371.8 400.7h1.0v1.0h-1.0zM373.4 401.8h1.0v1.0h-1.0zM371.3 407.7h1.0v1.0h-1.0zM369.3 410.5h1.0v1.0h-1.0zM373.3 402.0h1.0v1.0h-1.0zM475.5 267.8h1.0v1.0h-1.0zM469.1 265.9h1.0v1.0h-1.0zM481.8 269.2h1.0v1.0h-1.0zM463.8 262.2h1.0v1.0h-1.0zM467.4 257.6h1.0v1.0h-1.0zM473.2 254.6h1.0v1.0h-1.0zM468.0 266.8h1.0v1.0h-1.0zM468.8 254.1h1.0v1.0h-1.0zM465.6 267.3h1.0v1.0h-1.0zM463.8 291.2h1.0v1.0h-1.0zM465.1 295.3h1.0v1.0h-1.0zM466.6 290.7h1.0v1.0h-1.0zM466.6 289.6h1.0v1.0h-1.0zM467.4 290.5h1.0v1.0h-1.0zM463.1 283.2h1.0v1.0h-1.0zM463.9 290.2h1.0v1.0h-1.0zM462.7 288.8h1.0v1.0h-1.0zM445.5 277.2h1.0v1.0h-1.0zM439.9 381.2h1.0v1.0h-1.0zM450.9 381.1h1.0v1.0h-1.0zM455.1 371.1h1.0v1.0h-1.0zM453.0 386.7h1.0v1.0h-1.0zM440.8 377.2h1.0v1.0h-1.0zM456.6 376.8h1.0v1.0h-1.0zM453.5 367.2h1.0v1.0h-1.0zM458.3 374.5h1.0v1.0h-1.0zM448.7 379.3h1.0v1.0h-1.0zM448.9 373.2h1.0v1.0h-1.0zM456.4 384.8h1.0v1.0h-1.0zM456.0 374.1h1.0v1.0h-1.0zM452.6 369.2h1.0v1.0h-1.0zM457.1 372.8h1.0v1.0h-1.0zM442.7 407.7h1.0v1.0h-1.0zM448.9 403.0h1.0v1.0h-1.0zM441.7 406.4h1.0v1.0h-1.0zM445.0 403.3h1.0v1.0h-1.0zM436.0 392.3h1.0v1.0h-1.0zM444.4 400.8h1.0v1.0h-1.0zM445.2 404.3h1.0v1.0h-1.0zM441.2 397.6h1.0v1.0h-1.0zM439.1 393.0h1.0v1.0h-1.0zM478.1 401.6h1.0v1.0h-1.0zM479.3 406.2h1.0v1.0h-1.0z"/>
<path fill="rgb(159,159,159)" d="M44.4 244.5h1.0v1.0h-1.0zM52.0 293.8h1.0v1.0h-1.0zM43.8 292.8h1.0v1.0h-1.0zM50.3 290.4h1.0v1.0h-1.0zM51.8 294.5h1.0v1.0h-1.0zM55.6 292.9h1.0v1.0h-1.0zM53.0 294.3h1.0v1.0h-1.0zM46.8 294.9h1.0v1.0h-1.0zM52.9 248.6h1.0v1.0h-1.0zM34.2 360.5h1.0v1.0h-1.0zM48.0 406.5h1.0v1.0h-1.0zM47.1 408.0h1.0v1.0h-1.0zM46.1 404.2h1.0v1.0h-1.0zM45.0 408.9h1.0v1.0h-1.0zM46.6 404.4h1.0v1.0h-1.0zM35.5 400.6h1.0v1.0h-1.0zM34.0 402.8h1.0v1.0h-1.0zM62.3 402.1h1.0v1.0h-1.0zM23.6 393.1h1.0v1.0h-1.0zM38.1 404.6h1.0v1.0h-1.0zM35.8 405.8h1.0v1.0h-1.0zM52.4 403.2h1.0v1.0h-1.0zM50.9 399.5h1.0v1.0h-1.0zM44.5 405.0h1.0v1.0h-1.0zM50.7 394.6h1.0v1.0h-1.0zM36.8 408.7h1.0v1.0h-1.0zM31.9 403.7h1.0v1.0h-1.0zM44.2 405.1h1.0v1.0h-1.0zM67.2 406.3h1.0v1.0h-1.0zM72.5 402.9h1.0v1.0h-1.0zM65.3 403.2h1.0v1.0h-1.0zM63.0 402.4h1.0v1.0h-1.0zM68.2 403.2h1.0v1.0h-1.0zM63.7 405.0h1.0v1.0h-1.0zM62.2 408.3h1.0v1.0h-1.0zM61.1 403.5h1.0v1.0h-1.0zM133.0 249.9h1.0v1.0h-1.0zM131.2 252.6h1.0v1.0h-1.0zM136.0 248.6h1.0v1.0h-1.0zM159.9 289.2h1.0v1.0h-1.0zM154.8 289.3h1.0v1.0h-1.0zM160.2 289.7h1.0v1.0h-1.0zM163.6 296.5h1.0v1.0h-1.0zM160.0 289.8h1.0v1.0h-1.0zM132.2 367.3h1.0v1.0h-1.0zM141.5 361.5h1.0v1.0h-1.0zM136.3 365.4h1.0v1.0h-1.0zM126.3 375.5h1.0v1.0h-1.0zM139.8 367.9h1.0v1.0h-1.0zM181.7 361.4h1.0v1.0h-1.0zM170.9 360.8h1.0v1.0h-1.0zM171.0 349.5h1.0v1.0h-1.0zM161.2 346.1h1.0v1.0h-1.0zM167.1 348.8h1.0v1.0h-1.0zM147.7 407.3h1.0v1.0h-1.0zM150.9 410.5h1.0v1.0h-1.0zM144.8 391.4h1.0v1.0h-1.0zM139.7 400.5h1.0v1.0h-1.0zM146.6 396.5h1.0v1.0h-1.0zM143.4 405.5h1.0v1.0h-1.0zM138.9 401.2h1.0v1.0h-1.0zM148.2 399.6h1.0v1.0h-1.0zM145.3 404.3h1.0v1.0h-1.0zM126.3 402.5h1.0v1.0h-1.0zM167.8 401.6h1.0v1.0h-1.0zM165.5 398.3h1.0v1.0h-1.0zM167.6 400.3h1.0v1.0h-1.0zM165.0 408.0h1.0v1.0h-1.0zM163.3 398.9h1.0v1.0h-1.0zM168.2 400.6h1.0v1.0h-1.0zM165.9 401.5h1.0v1.0h-1.0zM163.5 403.2h1.0v1.0h-1.0zM231.2 257.6h1.0v1.0h-1.0zM232.2 247.8h1.0v1.0h-1.0zM233.4 257.9h1.0v1.0h-1.0zM263.1 260.5h1.0v1.0h-1.0zM262.3 257.0h1.0v1.0h-1.0zM262.1 257.5h1.0v1.0h-1.0zM263.4 253.3h1.0v1.0h-1.0zM265.4 254.7h1.0v1.0h-1.0zM262.0 291.5h1.0v1.0h-1.0zM261.1 289.0h1.0v1.0h-1.0zM259.0 288.9h1.0v1.0h-1.0zM258.2 295.0h1.0v1.0h-1.0zM269.5 293.8h1.0v1.0h-1.0zM241.1 357.2h1.0v1.0h-1.0zM237.2 370.2h1.0v1.0h-1.0zM249.2 390.1h1.0v1.0h-1.0zM246.4 355.9h1.0v1.0h-1.0zM258.6 362.2h1.0v1.0h-1.0zM234.6 396.9h1.0v1.0h-1.0zM255.9 365.3h1.0v1.0h-1.0zM258.5 364.5h1.0v1.0h-1.0zM247.5 377.2h1.0v1.0h-1.0zM229.6 379.6h1.0v1.0h-1.0zM235.1 373.1h1.0v1.0h-1.0zM236.2 372.1h1.0v1.0h-1.0zM250.2 372.3h1.0v1.0h-1.0zM260.9 367.7h1.0v1.0h-1.0zM242.8 371.6h1.0v1.0h-1.0zM235.7 369.4h1.0v1.0h-1.0zM245.0 355.9h1.0v1.0h-1.0zM229.6 365.1h1.0v1.0h-1.0zM253.9 374.9h1.0v1.0h-1.0zM240.7 345.0h1.0v1.0h-1.0zM231.5 374.8h1.0v1.0h-1.0zM244.7 369.6h1.0v1.0h-1.0zM246.2 364.1h1.0v1.0h-1.0zM246.2 391.0h1.0v1.0h-1.0zM237.8 365.9h1.0v1.0h-1.0zM244.3 387.0h1.0v1.0h-1.0zM251.2 373.6h1.0v1.0h-1.0zM273.8 407.9h1.0v1.0h-1.0zM269.0 402.9h1.0v1.0h-1.0zM274.8 405.2h1.0v1.0h-1.0zM356.0 246.5h1.0v1.0h-1.0zM356.9 237.8h1.0v1.0h-1.0zM346.1 262.4h1.0v1.0h-1.0zM342.2 241.9h1.0v1.0h-1.0zM338.6 286.0h1.0v1.0h-1.0zM332.9 260.6h1.0v1.0h-1.0zM342.2 263.4h1.0v1.0h-1.0zM383.8 266.3h1.0v1.0h-1.0zM378.9 255.0h1.0v1.0h-1.0zM379.8 251.7h1.0v1.0h-1.0zM399.0 250.3h1.0v1.0h-1.0zM384.9 263.5h1.0v1.0h-1.0zM366.3 296.5h1.0v1.0h-1.0zM367.3 284.6h1.0v1.0h-1.0zM367.9 287.9h1.0v1.0h-1.0zM337.4 370.2h1.0v1.0h-1.0zM336.3 378.5h1.0v1.0h-1.0zM348.5 372.1h1.0v1.0h-1.0zM336.3 373.1h1.0v1.0h-1.0zM351.8 401.4h1.0v1.0h-1.0zM362.0 408.5h1.0v1.0h-1.0zM341.4 406.0h1.0v1.0h-1.0zM355.2 405.6h1.0v1.0h-1.0zM353.3 406.6h1.0v1.0h-1.0zM350.3 394.6h1.0v1.0h-1.0zM374.8 394.4h1.0v1.0h-1.0zM472.7 261.4h1.0v1.0h-1.0zM475.2 269.2h1.0v1.0h-1.0zM472.9 266.2h1.0v1.0h-1.0zM467.8 270.0h1.0v1.0h-1.0zM442.3 281.2h1.0v1.0h-1.0zM440.9 284.1h1.0v1.0h-1.0zM441.1 278.2h1.0v1.0h-1.0zM443.6 279.2h1.0v1.0h-1.0zM449.7 380.7h1.0v1.0h-1.0zM471.0 373.5h1.0v1.0h-1.0zM443.3 377.0h1.0v1.0h-1.0zM462.4 383.3h1.0v1.0h-1.0zM452.9 369.6h1.0v1.0h-1.0zM455.4 367.7h1.0v1.0h-1.0zM449.7 369.5h1.0v1.0h-1.0zM447.1 380.1h1.0v1.0h-1.0zM447.5 379.9h1.0v1.0h-1.0zM446.9 392.8h1.0v1.0h-1.0zM450.9 397.4h1.0v1.0h-1.0zM446.5 403.0h1.0v1.0h-1.0zM441.9 403.8h1.0v1.0h-1.0zM478.7 405.6h1.0v1.0h-1.0zM477.0 399.0h1.0v1.0h-1.0zM477.4 405.8h1.0v1.0h-1.0z"/>
<path fill="rgb(191,191,191)" d="M57.6 250.1h1.0v1.0h-1.0zM57.5 257.1h1.0v1.0h-1.0zM29.1 401.0h1.0v1.0h-1.0zM34.9 404.9h1.0v1.0h-1.0zM44.9 395.7h1.0v1.0h-1.0zM23.4 403.6h1.0v1.0h-1.0zM71.0 402.6h1.0v1.0h-1.0zM53.6 405.5h1.0v1.0h-1.0zM56.9 403.0h1.0v1.0h-1.0zM44.0 392.3h1.0v1.0h-1.0zM36.9 404.3h1.0v1.0h-1.0zM46.5 394.4h1.0v1.0h-1.0zM39.8 401.1h1.0v1.0h-1.0zM30.5 393.4h1.0v1.0h-1.0zM71.4 402.9h1.0v1.0h-1.0zM64.1 408.0h1.0v1.0h-1.0zM66.8 405.0h1.0v1.0h-1.0zM66.3 406.2h1.0v1.0h-1.0zM167.6 355.1h1.0v1.0h-1.0zM141.6 399.1h1.0v1.0h-1.0zM154.1 401.5h1.0v1.0h-1.0zM126.7 401.3h1.0v1.0h-1.0zM153.0 399.8h1.0v1.0h-1.0zM151.1 401.7h1.0v1.0h-1.0zM141.4 393.3h1.0v1.0h-1.0zM142.2 397.6h1.0v1.0h-1.0zM146.1 400.8h1.0v1.0h-1.0zM132.7 403.3h1.0v1.0h-1.0zM135.3 402.2h1.0v1.0h-1.0zM166.2 404.0h1.0v1.0h-1.0zM164.1 404.4h1.0v1.0h-1.0zM164.9 404.1h1.0v1.0h-1.0zM165.6 402.3h1.0v1.0h-1.0zM163.2 409.1h1.0v1.0h-1.0zM166.2 404.5h1.0v1.0h-1.0zM256.7 264.2h1.0v1.0h-1.0zM244.3 382.4h1.0v1.0h-1.0zM229.6 398.5h1.0v1.0h-1.0zM240.1 351.3h1.0v1.0h-1.0zM250.6 379.0h1.0v1.0h-1.0zM253.8 383.1h1.0v1.0h-1.0zM244.3 390.7h1.0v1.0h-1.0zM233.0 397.8h1.0v1.0h-1.0zM234.9 374.0h1.0v1.0h-1.0zM229.6 384.6h1.0v1.0h-1.0zM229.6 383.1h1.0v1.0h-1.0zM240.7 375.6h1.0v1.0h-1.0zM229.6 358.3h1.0v1.0h-1.0zM244.2 368.8h1.0v1.0h-1.0zM240.4 364.2h1.0v1.0h-1.0zM254.1 364.5h1.0v1.0h-1.0zM259.1 366.6h1.0v1.0h-1.0zM229.6 365.1h1.0v1.0h-1.0zM269.7 368.8h1.0v1.0h-1.0zM265.1 371.8h1.0v1.0h-1.0zM269.8 371.4h1.0v1.0h-1.0zM266.8 368.8h1.0v1.0h-1.0zM266.4 369.4h1.0v1.0h-1.0zM270.3 408.7h1.0v1.0h-1.0zM275.6 403.0h1.0v1.0h-1.0zM275.4 402.3h1.0v1.0h-1.0zM270.5 396.3h1.0v1.0h-1.0zM338.2 265.3h1.0v1.0h-1.0zM336.0 263.6h1.0v1.0h-1.0zM332.9 262.2h1.0v1.0h-1.0zM335.6 240.8h1.0v1.0h-1.0zM341.3 258.7h1.0v1.0h-1.0zM341.2 271.4h1.0v1.0h-1.0zM346.5 261.8h1.0v1.0h-1.0zM349.8 262.0h1.0v1.0h-1.0zM348.2 247.0h1.0v1.0h-1.0zM347.0 258.0h1.0v1.0h-1.0zM372.1 282.4h1.0v1.0h-1.0zM358.0 254.5h1.0v1.0h-1.0zM388.6 230.9h1.0v1.0h-1.0zM365.6 258.3h1.0v1.0h-1.0zM363.0 407.1h1.0v1.0h-1.0zM345.9 408.0h1.0v1.0h-1.0zM334.4 402.1h1.0v1.0h-1.0zM347.9 400.2h1.0v1.0h-1.0zM352.4 403.1h1.0v1.0h-1.0zM348.8 393.8h1.0v1.0h-1.0zM353.7 407.5h1.0v1.0h-1.0zM351.7 402.5h1.0v1.0h-1.0zM340.4 404.0h1.0v1.0h-1.0zM357.8 409.4h1.0v1.0h-1.0zM337.7 399.3h1.0v1.0h-1.0zM350.3 410.1h1.0v1.0h-1.0zM360.1 400.7h1.0v1.0h-1.0zM471.1 261.0h1.0v1.0h-1.0zM469.7 266.5h1.0v1.0h-1.0zM446.8 278.4h1.0v1.0h-1.0zM442.6 281.5h1.0v1.0h-1.0zM443.1 286.9h1.0v1.0h-1.0z"/>
<text x="0.8" y="18.1" font-family="Liberation Sans" font-weight="bold" stroke="#111" stroke-width="0.15" font-size="26" fill="#111">A</text>
<text x="-0.6" y="207.8" font-family="Liberation Sans" font-weight="bold" stroke="#111" stroke-width="0.15" font-size="25" fill="#111">B</text>
<path d="M53.3 33.0H212.3V137.8H53.3Z" fill="none" stroke="#3a3a3a" stroke-width="1.4"/>
<text x="48.4" y="37.0" font-family="Liberation Sans" font-weight="bold" stroke="#111" stroke-width="0.4" font-size="12" text-anchor="end" fill="#111">100</text>
<text x="49.3" y="92.8" font-family="Liberation Sans" font-weight="bold" stroke="#111" stroke-width="0.4" font-size="12" text-anchor="end" fill="#111">10</text>
<text x="48.6" y="140.3" font-family="Liberation Sans" font-weight="bold" stroke="#111" stroke-width="0.4" font-size="12" text-anchor="end" fill="#111">1</text>
<text x="54.3" y="154.1" font-family="Liberation Sans" font-weight="bold" stroke="#111" stroke-width="0.4" font-size="12" text-anchor="middle" fill="#111">0</text>
<text x="106.1" y="154.1" font-family="Liberation Sans" font-weight="bold" stroke="#111" stroke-width="0.4" font-size="12" text-anchor="middle" fill="#111">5</text>
<text x="160.2" y="154.1" font-family="Liberation Sans" font-weight="bold" stroke="#111" stroke-width="0.4" font-size="12" text-anchor="middle" fill="#111">10</text>
<text x="210.9" y="154.1" font-family="Liberation Sans" font-weight="bold" stroke="#111" stroke-width="0.4" font-size="12" text-anchor="middle" fill="#111">15</text>
<text x="138.3" y="168.6" font-family="Liberation Sans" font-weight="bold" stroke="#111" stroke-width="0.4" font-size="12" text-anchor="middle" fill="#111" textLength="122.5" lengthAdjust="spacingAndGlyphs">Weeks after injection</text>
<text transform="translate(24.3 87) rotate(-90)" x="0" y="0" font-family="Liberation Sans" font-weight="bold" stroke="#111" stroke-width="0.4" font-size="12.2" text-anchor="middle" fill="#111" textLength="116.5" lengthAdjust="spacingAndGlyphs">Total Percent Donor</text>
<polyline points="85,61.1 116.7,103.6 149,111.8 201.9,127" fill="none" stroke="#111" stroke-width="1.3"/>
<path d="M85 54.3V71.7M83.2 54.3H86.8M83.2 71.7H86.8" stroke="#222" stroke-width="1.1" fill="none"/>
<ellipse cx="85" cy="61.1" rx="2.5" ry="2.7" fill="#0a0a0a"/>
<ellipse cx="116.7" cy="103.6" rx="2.5" ry="2.7" fill="#0a0a0a"/>
<path d="M149 105.2V121.3M147.2 105.2H150.8M147.2 121.3H150.8" stroke="#222" stroke-width="1.1" fill="none"/>
<ellipse cx="149" cy="111.8" rx="2.5" ry="2.7" fill="#0a0a0a"/>
<path d="M201.9 119.9V137.8M200.1 119.9H203.70000000000002M200.1 137.8H203.70000000000002" stroke="#222" stroke-width="1.1" fill="none"/>
<ellipse cx="201.9" cy="127" rx="2.5" ry="2.7" fill="#0a0a0a"/>
<path d="M306.5 32.2H465.8V137.3H306.5Z" fill="none" stroke="#3a3a3a" stroke-width="1.3"/>
<text x="299.3" y="37.1" font-family="Liberation Sans" font-weight="bold" stroke="#111" stroke-width="0.4" font-size="12" text-anchor="end" fill="#111">10</text>
<text x="299.6" y="92.2" font-family="Liberation Sans" font-weight="bold" stroke="#111" stroke-width="0.4" font-size="12" text-anchor="end" fill="#111">1</text>
<text x="299.4" y="140.2" font-family="Liberation Sans" font-weight="bold" stroke="#111" stroke-width="0.4" font-size="12" text-anchor="end" fill="#111">0.1</text>
<text x="307.7" y="154.1" font-family="Liberation Sans" font-weight="bold" stroke="#111" stroke-width="0.4" font-size="12" text-anchor="middle" fill="#111">0</text>
<text x="359.4" y="154.1" font-family="Liberation Sans" font-weight="bold" stroke="#111" stroke-width="0.4" font-size="12" text-anchor="middle" fill="#111">5</text>
<text x="414.2" y="154.1" font-family="Liberation Sans" font-weight="bold" stroke="#111" stroke-width="0.4" font-size="12" text-anchor="middle" fill="#111">10</text>
<text x="465.3" y="154.1" font-family="Liberation Sans" font-weight="bold" stroke="#111" stroke-width="0.4" font-size="12" text-anchor="middle" fill="#111">15</text>
<text x="396" y="169.2" font-family="Liberation Sans" font-weight="bold" stroke="#111" stroke-width="0.4" font-size="12" text-anchor="middle" fill="#111" textLength="122.8" lengthAdjust="spacingAndGlyphs">Weeks after injection</text>
<text transform="translate(280.4 85.1) rotate(-90)" x="0" y="0" font-family="Liberation Sans" font-weight="bold" stroke="#111" stroke-width="0.4" font-size="12" text-anchor="middle" fill="#111" textLength="82.4" lengthAdjust="spacingAndGlyphs">Percent Donor</text>
<polyline points="338.2,73.9 370.2,69.3 402.1,67.4 455.4,80.6" fill="none" stroke="#111" stroke-width="1.35"/>
<polyline points="338.2,57.5 370.2,82.2 402.1,92.2 455.4,118.9" fill="none" stroke="#111" stroke-width="1.35"/>
<path d="M338.2 64.5V93.0M336.59999999999997 64.5H339.8M336.59999999999997 93.0H339.8" stroke="#222" stroke-width="1.1" fill="none"/>
<path d="M370.2 64.5V76.6M368.59999999999997 64.5H371.8M368.59999999999997 76.6H371.8" stroke="#222" stroke-width="1.1" fill="none"/>
<path d="M402.1 59.7V79.9M400.5 59.7H403.70000000000005M400.5 79.9H403.70000000000005" stroke="#222" stroke-width="1.1" fill="none"/>
<path d="M455.4 70.2V100.3M453.79999999999995 70.2H457.0M453.79999999999995 100.3H457.0" stroke="#222" stroke-width="1.1" fill="none"/>
<path d="M338.2 44.3V89.5M336.59999999999997 44.3H339.8M336.59999999999997 89.5H339.8" stroke="#222" stroke-width="1.1" fill="none"/>
<path d="M370.2 69.3V106.3M368.59999999999997 69.3H371.8M368.59999999999997 106.3H371.8" stroke="#222" stroke-width="1.1" fill="none"/>
<path d="M402.1 82.2V110.3M400.5 82.2H403.70000000000005M400.5 110.3H403.70000000000005" stroke="#222" stroke-width="1.1" fill="none"/>
<path d="M455.4 110.8V132.8M453.79999999999995 110.8H457.0M453.79999999999995 132.8H457.0" stroke="#222" stroke-width="1.1" fill="none"/>
<path d="M338.2 70.7L341.09999999999997 73.9L338.2 77.10000000000001L335.3 73.9Z" fill="#0a0a0a"/>
<path d="M370.2 66.1L373.09999999999997 69.3L370.2 72.5L367.3 69.3Z" fill="#0a0a0a"/>
<path d="M402.1 64.2L405.0 67.4L402.1 70.60000000000001L399.20000000000005 67.4Z" fill="#0a0a0a"/>
<path d="M455.4 77.39999999999999L458.29999999999995 80.6L455.4 83.8L452.5 80.6Z" fill="#0a0a0a"/>
<rect x="335.5" y="54.5" width="5.4" height="6" fill="#0a0a0a"/>
<rect x="367.5" y="79.2" width="5.4" height="6" fill="#0a0a0a"/>
<rect x="399.40000000000003" y="89.2" width="5.4" height="6" fill="#0a0a0a"/>
<rect x="452.7" y="115.9" width="5.4" height="6" fill="#0a0a0a"/>
<text x="12.5" y="224.8" font-family="Liberation Sans" font-weight="bold" stroke="#111" stroke-width="0.4" font-size="14.2" text-anchor="start" fill="#111" textLength="55" lengthAdjust="spacingAndGlyphs">3 weeks</text>
<text x="12" y="337.8" font-family="Liberation Sans" font-weight="bold" stroke="#111" stroke-width="0.4" font-size="14.2" text-anchor="start" fill="#111" textLength="55" lengthAdjust="spacingAndGlyphs">6 weeks</text>
<path d="M21.7 230.4H101.7V298.0" fill="none" stroke="#444" stroke-width="0.9"/>
<path d="M21.7 230.4V298.0H101.7" fill="none" stroke="#222" stroke-width="1.1"/>
<path d="M41.7 230.4V298.0M21.7 279.2H101.7" stroke="#111" stroke-width="1.4" fill="none"/>
<path d="M20.7 292.9h2.2M27.7 299.0v-2.2M20.7 289.9h2.2M31.2 299.0v-2.2M20.7 287.8h2.2M33.7 299.0v-2.2M20.7 286.2h2.2M35.7 299.0v-2.2M20.7 284.8h2.2M37.3 299.0v-2.2M20.7 283.7h2.2M38.6 299.0v-2.2M20.7 282.7h2.2M39.8 299.0v-2.2M20.7 281.9h2.2M40.8 299.0v-2.2M20.7 276.0h2.2M47.7 299.0v-2.2M20.7 273.0h2.2M51.2 299.0v-2.2M20.7 270.9h2.2M53.7 299.0v-2.2M20.7 269.3h2.2M55.7 299.0v-2.2M20.7 267.9h2.2M57.3 299.0v-2.2M20.7 266.8h2.2M58.6 299.0v-2.2M20.7 265.8h2.2M59.8 299.0v-2.2M20.7 265.0h2.2M60.8 299.0v-2.2M20.7 259.1h2.2M67.7 299.0v-2.2M20.7 256.1h2.2M71.2 299.0v-2.2M20.7 254.0h2.2M73.7 299.0v-2.2M20.7 252.4h2.2M75.7 299.0v-2.2M20.7 251.0h2.2M77.3 299.0v-2.2M20.7 249.9h2.2M78.6 299.0v-2.2M20.7 248.9h2.2M79.8 299.0v-2.2M20.7 248.1h2.2M80.8 299.0v-2.2M20.7 242.2h2.2M87.7 299.0v-2.2M20.7 239.2h2.2M91.2 299.0v-2.2M20.7 237.1h2.2M93.7 299.0v-2.2M20.7 235.5h2.2M95.7 299.0v-2.2M20.7 234.1h2.2M97.3 299.0v-2.2M20.7 233.0h2.2M98.6 299.0v-2.2M20.7 232.0h2.2M99.8 299.0v-2.2M20.7 231.2h2.2M100.8 299.0v-2.2" stroke="#444" stroke-width="0.7" fill="none"/>
<text transform="translate(17.9 302.0) rotate(-90) scale(0.7 1)" font-family="Liberation Sans" font-weight="bold" font-size="5" fill="#333">10<tspan dx="1.8" dy="-3.0" font-size="3.5">0</tspan></text>
<text x="19.0" y="304.1" font-family="Liberation Sans" font-weight="bold" font-size="5" fill="#333">10<tspan dy="-2" font-size="3.5">0</tspan></text>
<text transform="translate(17.9 285.1) rotate(-90) scale(0.7 1)" font-family="Liberation Sans" font-weight="bold" font-size="5" fill="#333">10<tspan dx="1.8" dy="-3.0" font-size="3.5">1</tspan></text>
<text x="39.0" y="304.1" font-family="Liberation Sans" font-weight="bold" font-size="5" fill="#333">10<tspan dy="-2" font-size="3.5">1</tspan></text>
<text transform="translate(17.9 268.2) rotate(-90) scale(0.7 1)" font-family="Liberation Sans" font-weight="bold" font-size="5" fill="#333">10<tspan dx="1.8" dy="-3.0" font-size="3.5">2</tspan></text>
<text x="59.0" y="304.1" font-family="Liberation Sans" font-weight="bold" font-size="5" fill="#333">10<tspan dy="-2" font-size="3.5">2</tspan></text>
<text transform="translate(17.9 251.3) rotate(-90) scale(0.7 1)" font-family="Liberation Sans" font-weight="bold" font-size="5" fill="#333">10<tspan dx="1.8" dy="-3.0" font-size="3.5">3</tspan></text>
<text x="79.0" y="304.1" font-family="Liberation Sans" font-weight="bold" font-size="5" fill="#333">10<tspan dy="-2" font-size="3.5">3</tspan></text>
<text transform="translate(17.9 234.4) rotate(-90) scale(0.7 1)" font-family="Liberation Sans" font-weight="bold" font-size="5" fill="#333">10<tspan dx="1.8" dy="-3.0" font-size="3.5">4</tspan></text>
<text x="99.0" y="304.1" font-family="Liberation Sans" font-weight="bold" font-size="5" fill="#333">10<tspan dy="-2" font-size="3.5">4</tspan></text>
<text transform="translate(7.9 278.5) rotate(-90)" font-family="Liberation Sans" font-weight="bold" stroke="#111" stroke-width="0.4" font-size="10" fill="#111">CD4</text>
<text x="58.3" y="314.1" font-family="Liberation Sans" font-weight="bold" stroke="#111" stroke-width="0.4" font-size="10" text-anchor="middle" fill="#111">Ly5.2</text>
<path d="M21.9 344.5H101.9V412.0" fill="none" stroke="#444" stroke-width="0.9"/>
<path d="M21.9 344.5V412.0H101.9" fill="none" stroke="#222" stroke-width="1.1"/>
<path d="M54.4 344.5V412.0M21.9 393.2H101.9" stroke="#111" stroke-width="1.4" fill="none"/>
<path d="M20.9 406.9h2.2M27.9 413.0v-2.2M20.9 403.9h2.2M31.4 413.0v-2.2M20.9 401.8h2.2M33.9 413.0v-2.2M20.9 400.2h2.2M35.9 413.0v-2.2M20.9 398.9h2.2M37.5 413.0v-2.2M20.9 397.7h2.2M38.8 413.0v-2.2M20.9 396.8h2.2M40.0 413.0v-2.2M20.9 395.9h2.2M41.0 413.0v-2.2M20.9 390.0h2.2M47.9 413.0v-2.2M20.9 387.1h2.2M51.4 413.0v-2.2M20.9 385.0h2.2M53.9 413.0v-2.2M20.9 383.3h2.2M55.9 413.0v-2.2M20.9 382.0h2.2M57.5 413.0v-2.2M20.9 380.9h2.2M58.8 413.0v-2.2M20.9 379.9h2.2M60.0 413.0v-2.2M20.9 379.0h2.2M61.0 413.0v-2.2M20.9 373.2h2.2M67.9 413.0v-2.2M20.9 370.2h2.2M71.4 413.0v-2.2M20.9 368.1h2.2M73.9 413.0v-2.2M20.9 366.5h2.2M75.9 413.0v-2.2M20.9 365.1h2.2M77.5 413.0v-2.2M20.9 364.0h2.2M78.8 413.0v-2.2M20.9 363.0h2.2M80.0 413.0v-2.2M20.9 362.1h2.2M81.0 413.0v-2.2M20.9 356.3h2.2M87.9 413.0v-2.2M20.9 353.3h2.2M91.4 413.0v-2.2M20.9 351.2h2.2M93.9 413.0v-2.2M20.9 349.6h2.2M95.9 413.0v-2.2M20.9 348.2h2.2M97.5 413.0v-2.2M20.9 347.1h2.2M98.8 413.0v-2.2M20.9 346.1h2.2M100.0 413.0v-2.2M20.9 345.3h2.2M101.0 413.0v-2.2" stroke="#444" stroke-width="0.7" fill="none"/>
<text transform="translate(18.1 416.0) rotate(-90) scale(0.7 1)" font-family="Liberation Sans" font-weight="bold" font-size="5" fill="#333">10<tspan dx="1.8" dy="-3.0" font-size="3.5">0</tspan></text>
<text x="19.2" y="418.1" font-family="Liberation Sans" font-weight="bold" font-size="5" fill="#333">10<tspan dy="-2" font-size="3.5">0</tspan></text>
<text transform="translate(18.1 399.1) rotate(-90) scale(0.7 1)" font-family="Liberation Sans" font-weight="bold" font-size="5" fill="#333">10<tspan dx="1.8" dy="-3.0" font-size="3.5">1</tspan></text>
<text x="39.2" y="418.1" font-family="Liberation Sans" font-weight="bold" font-size="5" fill="#333">10<tspan dy="-2" font-size="3.5">1</tspan></text>
<text transform="translate(18.1 382.2) rotate(-90) scale(0.7 1)" font-family="Liberation Sans" font-weight="bold" font-size="5" fill="#333">10<tspan dx="1.8" dy="-3.0" font-size="3.5">2</tspan></text>
<text x="59.2" y="418.1" font-family="Liberation Sans" font-weight="bold" font-size="5" fill="#333">10<tspan dy="-2" font-size="3.5">2</tspan></text>
<text transform="translate(18.1 365.4) rotate(-90) scale(0.7 1)" font-family="Liberation Sans" font-weight="bold" font-size="5" fill="#333">10<tspan dx="1.8" dy="-3.0" font-size="3.5">3</tspan></text>
<text x="79.2" y="418.1" font-family="Liberation Sans" font-weight="bold" font-size="5" fill="#333">10<tspan dy="-2" font-size="3.5">3</tspan></text>
<text transform="translate(18.1 348.5) rotate(-90) scale(0.7 1)" font-family="Liberation Sans" font-weight="bold" font-size="5" fill="#333">10<tspan dx="1.8" dy="-3.0" font-size="3.5">4</tspan></text>
<text x="99.2" y="418.1" font-family="Liberation Sans" font-weight="bold" font-size="5" fill="#333">10<tspan dy="-2" font-size="3.5">4</tspan></text>
<text transform="translate(8.8 390.7) rotate(-90)" font-family="Liberation Sans" font-weight="bold" stroke="#111" stroke-width="0.4" font-size="10" fill="#111">CD4</text>
<text x="58.5" y="428.1" font-family="Liberation Sans" font-weight="bold" stroke="#111" stroke-width="0.4" font-size="10" text-anchor="middle" fill="#111">Ly5.2</text>
<path d="M124.9 230.4H204.9V298.0" fill="none" stroke="#444" stroke-width="0.9"/>
<path d="M124.9 230.4V298.0H204.9" fill="none" stroke="#222" stroke-width="1.1"/>
<path d="M144.9 230.4V298.0M124.9 279.2H204.9" stroke="#111" stroke-width="1.4" fill="none"/>
<path d="M123.9 292.9h2.2M130.9 299.0v-2.2M123.9 289.9h2.2M134.4 299.0v-2.2M123.9 287.8h2.2M136.9 299.0v-2.2M123.9 286.2h2.2M138.9 299.0v-2.2M123.9 284.8h2.2M140.5 299.0v-2.2M123.9 283.7h2.2M141.8 299.0v-2.2M123.9 282.7h2.2M143.0 299.0v-2.2M123.9 281.9h2.2M144.0 299.0v-2.2M123.9 276.0h2.2M150.9 299.0v-2.2M123.9 273.0h2.2M154.4 299.0v-2.2M123.9 270.9h2.2M156.9 299.0v-2.2M123.9 269.3h2.2M158.9 299.0v-2.2M123.9 267.9h2.2M160.5 299.0v-2.2M123.9 266.8h2.2M161.8 299.0v-2.2M123.9 265.8h2.2M163.0 299.0v-2.2M123.9 265.0h2.2M164.0 299.0v-2.2M123.9 259.1h2.2M170.9 299.0v-2.2M123.9 256.1h2.2M174.4 299.0v-2.2M123.9 254.0h2.2M176.9 299.0v-2.2M123.9 252.4h2.2M178.9 299.0v-2.2M123.9 251.0h2.2M180.5 299.0v-2.2M123.9 249.9h2.2M181.8 299.0v-2.2M123.9 248.9h2.2M183.0 299.0v-2.2M123.9 248.1h2.2M184.0 299.0v-2.2M123.9 242.2h2.2M190.9 299.0v-2.2M123.9 239.2h2.2M194.4 299.0v-2.2M123.9 237.1h2.2M196.9 299.0v-2.2M123.9 235.5h2.2M198.9 299.0v-2.2M123.9 234.1h2.2M200.5 299.0v-2.2M123.9 233.0h2.2M201.8 299.0v-2.2M123.9 232.0h2.2M203.0 299.0v-2.2M123.9 231.2h2.2M204.0 299.0v-2.2" stroke="#444" stroke-width="0.7" fill="none"/>
<text transform="translate(121.1 302.0) rotate(-90) scale(0.7 1)" font-family="Liberation Sans" font-weight="bold" font-size="5" fill="#333">10<tspan dx="1.8" dy="-3.0" font-size="3.5">0</tspan></text>
<text x="122.2" y="304.1" font-family="Liberation Sans" font-weight="bold" font-size="5" fill="#333">10<tspan dy="-2" font-size="3.5">0</tspan></text>
<text transform="translate(121.1 285.1) rotate(-90) scale(0.7 1)" font-family="Liberation Sans" font-weight="bold" font-size="5" fill="#333">10<tspan dx="1.8" dy="-3.0" font-size="3.5">1</tspan></text>
<text x="142.2" y="304.1" font-family="Liberation Sans" font-weight="bold" font-size="5" fill="#333">10<tspan dy="-2" font-size="3.5">1</tspan></text>
<text transform="translate(121.1 268.2) rotate(-90) scale(0.7 1)" font-family="Liberation Sans" font-weight="bold" font-size="5" fill="#333">10<tspan dx="1.8" dy="-3.0" font-size="3.5">2</tspan></text>
<text x="162.2" y="304.1" font-family="Liberation Sans" font-weight="bold" font-size="5" fill="#333">10<tspan dy="-2" font-size="3.5">2</tspan></text>
<text transform="translate(121.1 251.3) rotate(-90) scale(0.7 1)" font-family="Liberation Sans" font-weight="bold" font-size="5" fill="#333">10<tspan dx="1.8" dy="-3.0" font-size="3.5">3</tspan></text>
<text x="182.2" y="304.1" font-family="Liberation Sans" font-weight="bold" font-size="5" fill="#333">10<tspan dy="-2" font-size="3.5">3</tspan></text>
<text transform="translate(121.1 234.4) rotate(-90) scale(0.7 1)" font-family="Liberation Sans" font-weight="bold" font-size="5" fill="#333">10<tspan dx="1.8" dy="-3.0" font-size="3.5">4</tspan></text>
<text x="202.2" y="304.1" font-family="Liberation Sans" font-weight="bold" font-size="5" fill="#333">10<tspan dy="-2" font-size="3.5">4</tspan></text>
<text transform="translate(113.0 278.5) rotate(-90)" font-family="Liberation Sans" font-weight="bold" stroke="#111" stroke-width="0.4" font-size="10" fill="#111">CD8</text>
<text x="165.0" y="314.1" font-family="Liberation Sans" font-weight="bold" stroke="#111" stroke-width="0.4" font-size="10" text-anchor="middle" fill="#111">Ly5.2</text>
<path d="M125.8 344.5H205.8V412.0" fill="none" stroke="#444" stroke-width="0.9"/>
<path d="M125.8 344.5V412.0H205.8" fill="none" stroke="#222" stroke-width="1.1"/>
<path d="M157.8 344.5V412.0M125.8 393.2H205.8" stroke="#111" stroke-width="1.4" fill="none"/>
<path d="M124.8 406.9h2.2M131.8 413.0v-2.2M124.8 403.9h2.2M135.3 413.0v-2.2M124.8 401.8h2.2M137.8 413.0v-2.2M124.8 400.2h2.2M139.8 413.0v-2.2M124.8 398.9h2.2M141.4 413.0v-2.2M124.8 397.7h2.2M142.7 413.0v-2.2M124.8 396.8h2.2M143.9 413.0v-2.2M124.8 395.9h2.2M144.9 413.0v-2.2M124.8 390.0h2.2M151.8 413.0v-2.2M124.8 387.1h2.2M155.3 413.0v-2.2M124.8 385.0h2.2M157.8 413.0v-2.2M124.8 383.3h2.2M159.8 413.0v-2.2M124.8 382.0h2.2M161.4 413.0v-2.2M124.8 380.9h2.2M162.7 413.0v-2.2M124.8 379.9h2.2M163.9 413.0v-2.2M124.8 379.0h2.2M164.9 413.0v-2.2M124.8 373.2h2.2M171.8 413.0v-2.2M124.8 370.2h2.2M175.3 413.0v-2.2M124.8 368.1h2.2M177.8 413.0v-2.2M124.8 366.5h2.2M179.8 413.0v-2.2M124.8 365.1h2.2M181.4 413.0v-2.2M124.8 364.0h2.2M182.7 413.0v-2.2M124.8 363.0h2.2M183.9 413.0v-2.2M124.8 362.1h2.2M184.9 413.0v-2.2M124.8 356.3h2.2M191.8 413.0v-2.2M124.8 353.3h2.2M195.3 413.0v-2.2M124.8 351.2h2.2M197.8 413.0v-2.2M124.8 349.6h2.2M199.8 413.0v-2.2M124.8 348.2h2.2M201.4 413.0v-2.2M124.8 347.1h2.2M202.7 413.0v-2.2M124.8 346.1h2.2M203.9 413.0v-2.2M124.8 345.3h2.2M204.9 413.0v-2.2" stroke="#444" stroke-width="0.7" fill="none"/>
<text transform="translate(122.0 416.0) rotate(-90) scale(0.7 1)" font-family="Liberation Sans" font-weight="bold" font-size="5" fill="#333">10<tspan dx="1.8" dy="-3.0" font-size="3.5">0</tspan></text>
<text x="123.1" y="418.1" font-family="Liberation Sans" font-weight="bold" font-size="5" fill="#333">10<tspan dy="-2" font-size="3.5">0</tspan></text>
<text transform="translate(122.0 399.1) rotate(-90) scale(0.7 1)" font-family="Liberation Sans" font-weight="bold" font-size="5" fill="#333">10<tspan dx="1.8" dy="-3.0" font-size="3.5">1</tspan></text>
<text x="143.1" y="418.1" font-family="Liberation Sans" font-weight="bold" font-size="5" fill="#333">10<tspan dy="-2" font-size="3.5">1</tspan></text>
<text transform="translate(122.0 382.2) rotate(-90) scale(0.7 1)" font-family="Liberation Sans" font-weight="bold" font-size="5" fill="#333">10<tspan dx="1.8" dy="-3.0" font-size="3.5">2</tspan></text>
<text x="163.1" y="418.1" font-family="Liberation Sans" font-weight="bold" font-size="5" fill="#333">10<tspan dy="-2" font-size="3.5">2</tspan></text>
<text transform="translate(122.0 365.4) rotate(-90) scale(0.7 1)" font-family="Liberation Sans" font-weight="bold" font-size="5" fill="#333">10<tspan dx="1.8" dy="-3.0" font-size="3.5">3</tspan></text>
<text x="183.1" y="418.1" font-family="Liberation Sans" font-weight="bold" font-size="5" fill="#333">10<tspan dy="-2" font-size="3.5">3</tspan></text>
<text transform="translate(122.0 348.5) rotate(-90) scale(0.7 1)" font-family="Liberation Sans" font-weight="bold" font-size="5" fill="#333">10<tspan dx="1.8" dy="-3.0" font-size="3.5">4</tspan></text>
<text x="203.1" y="418.1" font-family="Liberation Sans" font-weight="bold" font-size="5" fill="#333">10<tspan dy="-2" font-size="3.5">4</tspan></text>
<text transform="translate(113.9 390.7) rotate(-90)" font-family="Liberation Sans" font-weight="bold" stroke="#111" stroke-width="0.4" font-size="10" fill="#111">CD8</text>
<text x="165.4" y="428.1" font-family="Liberation Sans" font-weight="bold" stroke="#111" stroke-width="0.4" font-size="10" text-anchor="middle" fill="#111">Ly5.2</text>
<path d="M228.4 230.4H308.4V298.0" fill="none" stroke="#444" stroke-width="0.9"/>
<path d="M228.4 230.4V298.0H308.4" fill="none" stroke="#222" stroke-width="1.1"/>
<path d="M248.3 230.4V298.0M228.4 279.2H308.4" stroke="#111" stroke-width="1.4" fill="none"/>
<path d="M227.4 292.9h2.2M234.4 299.0v-2.2M227.4 289.9h2.2M237.9 299.0v-2.2M227.4 287.8h2.2M240.4 299.0v-2.2M227.4 286.2h2.2M242.4 299.0v-2.2M227.4 284.8h2.2M244.0 299.0v-2.2M227.4 283.7h2.2M245.3 299.0v-2.2M227.4 282.7h2.2M246.5 299.0v-2.2M227.4 281.9h2.2M247.5 299.0v-2.2M227.4 276.0h2.2M254.4 299.0v-2.2M227.4 273.0h2.2M257.9 299.0v-2.2M227.4 270.9h2.2M260.4 299.0v-2.2M227.4 269.3h2.2M262.4 299.0v-2.2M227.4 267.9h2.2M264.0 299.0v-2.2M227.4 266.8h2.2M265.3 299.0v-2.2M227.4 265.8h2.2M266.5 299.0v-2.2M227.4 265.0h2.2M267.5 299.0v-2.2M227.4 259.1h2.2M274.4 299.0v-2.2M227.4 256.1h2.2M277.9 299.0v-2.2M227.4 254.0h2.2M280.4 299.0v-2.2M227.4 252.4h2.2M282.4 299.0v-2.2M227.4 251.0h2.2M284.0 299.0v-2.2M227.4 249.9h2.2M285.3 299.0v-2.2M227.4 248.9h2.2M286.5 299.0v-2.2M227.4 248.1h2.2M287.5 299.0v-2.2M227.4 242.2h2.2M294.4 299.0v-2.2M227.4 239.2h2.2M297.9 299.0v-2.2M227.4 237.1h2.2M300.4 299.0v-2.2M227.4 235.5h2.2M302.4 299.0v-2.2M227.4 234.1h2.2M304.0 299.0v-2.2M227.4 233.0h2.2M305.3 299.0v-2.2M227.4 232.0h2.2M306.5 299.0v-2.2M227.4 231.2h2.2M307.5 299.0v-2.2" stroke="#444" stroke-width="0.7" fill="none"/>
<text transform="translate(224.6 302.0) rotate(-90) scale(0.7 1)" font-family="Liberation Sans" font-weight="bold" font-size="5" fill="#333">10<tspan dx="1.8" dy="-3.0" font-size="3.5">0</tspan></text>
<text x="225.7" y="304.1" font-family="Liberation Sans" font-weight="bold" font-size="5" fill="#333">10<tspan dy="-2" font-size="3.5">0</tspan></text>
<text transform="translate(224.6 285.1) rotate(-90) scale(0.7 1)" font-family="Liberation Sans" font-weight="bold" font-size="5" fill="#333">10<tspan dx="1.8" dy="-3.0" font-size="3.5">1</tspan></text>
<text x="245.7" y="304.1" font-family="Liberation Sans" font-weight="bold" font-size="5" fill="#333">10<tspan dy="-2" font-size="3.5">1</tspan></text>
<text transform="translate(224.6 268.2) rotate(-90) scale(0.7 1)" font-family="Liberation Sans" font-weight="bold" font-size="5" fill="#333">10<tspan dx="1.8" dy="-3.0" font-size="3.5">2</tspan></text>
<text x="265.7" y="304.1" font-family="Liberation Sans" font-weight="bold" font-size="5" fill="#333">10<tspan dy="-2" font-size="3.5">2</tspan></text>
<text transform="translate(224.6 251.3) rotate(-90) scale(0.7 1)" font-family="Liberation Sans" font-weight="bold" font-size="5" fill="#333">10<tspan dx="1.8" dy="-3.0" font-size="3.5">3</tspan></text>
<text x="285.7" y="304.1" font-family="Liberation Sans" font-weight="bold" font-size="5" fill="#333">10<tspan dy="-2" font-size="3.5">3</tspan></text>
<text transform="translate(224.6 234.4) rotate(-90) scale(0.7 1)" font-family="Liberation Sans" font-weight="bold" font-size="5" fill="#333">10<tspan dx="1.8" dy="-3.0" font-size="3.5">4</tspan></text>
<text x="305.7" y="304.1" font-family="Liberation Sans" font-weight="bold" font-size="5" fill="#333">10<tspan dy="-2" font-size="3.5">4</tspan></text>
<text transform="translate(214.9 278.5) rotate(-90)" font-family="Liberation Sans" font-weight="bold" stroke="#111" stroke-width="0.4" font-size="10" fill="#111">CD19</text>
<text x="267.5" y="314.1" font-family="Liberation Sans" font-weight="bold" stroke="#111" stroke-width="0.4" font-size="10" text-anchor="middle" fill="#111">Ly5.2</text>
<path d="M229.1 344.5H309.1V412.0" fill="none" stroke="#444" stroke-width="0.9"/>
<path d="M229.1 344.5V412.0H309.1" fill="none" stroke="#222" stroke-width="1.1"/>
<path d="M261.2 344.5V412.0M229.1 393.2H309.1" stroke="#111" stroke-width="1.4" fill="none"/>
<path d="M228.1 406.9h2.2M235.1 413.0v-2.2M228.1 403.9h2.2M238.6 413.0v-2.2M228.1 401.8h2.2M241.1 413.0v-2.2M228.1 400.2h2.2M243.1 413.0v-2.2M228.1 398.9h2.2M244.7 413.0v-2.2M228.1 397.7h2.2M246.0 413.0v-2.2M228.1 396.8h2.2M247.2 413.0v-2.2M228.1 395.9h2.2M248.2 413.0v-2.2M228.1 390.0h2.2M255.1 413.0v-2.2M228.1 387.1h2.2M258.6 413.0v-2.2M228.1 385.0h2.2M261.1 413.0v-2.2M228.1 383.3h2.2M263.1 413.0v-2.2M228.1 382.0h2.2M264.7 413.0v-2.2M228.1 380.9h2.2M266.0 413.0v-2.2M228.1 379.9h2.2M267.2 413.0v-2.2M228.1 379.0h2.2M268.2 413.0v-2.2M228.1 373.2h2.2M275.1 413.0v-2.2M228.1 370.2h2.2M278.6 413.0v-2.2M228.1 368.1h2.2M281.1 413.0v-2.2M228.1 366.5h2.2M283.1 413.0v-2.2M228.1 365.1h2.2M284.7 413.0v-2.2M228.1 364.0h2.2M286.0 413.0v-2.2M228.1 363.0h2.2M287.2 413.0v-2.2M228.1 362.1h2.2M288.2 413.0v-2.2M228.1 356.3h2.2M295.1 413.0v-2.2M228.1 353.3h2.2M298.6 413.0v-2.2M228.1 351.2h2.2M301.1 413.0v-2.2M228.1 349.6h2.2M303.1 413.0v-2.2M228.1 348.2h2.2M304.7 413.0v-2.2M228.1 347.1h2.2M306.0 413.0v-2.2M228.1 346.1h2.2M307.2 413.0v-2.2M228.1 345.3h2.2M308.2 413.0v-2.2" stroke="#444" stroke-width="0.7" fill="none"/>
<text transform="translate(225.3 416.0) rotate(-90) scale(0.7 1)" font-family="Liberation Sans" font-weight="bold" font-size="5" fill="#333">10<tspan dx="1.8" dy="-3.0" font-size="3.5">0</tspan></text>
<text x="226.4" y="418.1" font-family="Liberation Sans" font-weight="bold" font-size="5" fill="#333">10<tspan dy="-2" font-size="3.5">0</tspan></text>
<text transform="translate(225.3 399.1) rotate(-90) scale(0.7 1)" font-family="Liberation Sans" font-weight="bold" font-size="5" fill="#333">10<tspan dx="1.8" dy="-3.0" font-size="3.5">1</tspan></text>
<text x="246.4" y="418.1" font-family="Liberation Sans" font-weight="bold" font-size="5" fill="#333">10<tspan dy="-2" font-size="3.5">1</tspan></text>
<text transform="translate(225.3 382.2) rotate(-90) scale(0.7 1)" font-family="Liberation Sans" font-weight="bold" font-size="5" fill="#333">10<tspan dx="1.8" dy="-3.0" font-size="3.5">2</tspan></text>
<text x="266.4" y="418.1" font-family="Liberation Sans" font-weight="bold" font-size="5" fill="#333">10<tspan dy="-2" font-size="3.5">2</tspan></text>
<text transform="translate(225.3 365.4) rotate(-90) scale(0.7 1)" font-family="Liberation Sans" font-weight="bold" font-size="5" fill="#333">10<tspan dx="1.8" dy="-3.0" font-size="3.5">3</tspan></text>
<text x="286.4" y="418.1" font-family="Liberation Sans" font-weight="bold" font-size="5" fill="#333">10<tspan dy="-2" font-size="3.5">3</tspan></text>
<text transform="translate(225.3 348.5) rotate(-90) scale(0.7 1)" font-family="Liberation Sans" font-weight="bold" font-size="5" fill="#333">10<tspan dx="1.8" dy="-3.0" font-size="3.5">4</tspan></text>
<text x="306.4" y="418.1" font-family="Liberation Sans" font-weight="bold" font-size="5" fill="#333">10<tspan dy="-2" font-size="3.5">4</tspan></text>
<text transform="translate(215.1 390.7) rotate(-90)" font-family="Liberation Sans" font-weight="bold" stroke="#111" stroke-width="0.4" font-size="10" fill="#111">CD19</text>
<text x="267.5" y="428.1" font-family="Liberation Sans" font-weight="bold" stroke="#111" stroke-width="0.4" font-size="10" text-anchor="middle" fill="#111">Ly5.2</text>
<path d="M332.4 230.4H412.4V298.0" fill="none" stroke="#444" stroke-width="0.9"/>
<path d="M332.4 230.4V298.0H412.4" fill="none" stroke="#222" stroke-width="1.1"/>
<path d="M351.7 230.4V298.0M332.4 279.2H412.4" stroke="#111" stroke-width="1.4" fill="none"/>
<path d="M331.4 292.9h2.2M338.4 299.0v-2.2M331.4 289.9h2.2M341.9 299.0v-2.2M331.4 287.8h2.2M344.4 299.0v-2.2M331.4 286.2h2.2M346.4 299.0v-2.2M331.4 284.8h2.2M348.0 299.0v-2.2M331.4 283.7h2.2M349.3 299.0v-2.2M331.4 282.7h2.2M350.5 299.0v-2.2M331.4 281.9h2.2M351.5 299.0v-2.2M331.4 276.0h2.2M358.4 299.0v-2.2M331.4 273.0h2.2M361.9 299.0v-2.2M331.4 270.9h2.2M364.4 299.0v-2.2M331.4 269.3h2.2M366.4 299.0v-2.2M331.4 267.9h2.2M368.0 299.0v-2.2M331.4 266.8h2.2M369.3 299.0v-2.2M331.4 265.8h2.2M370.5 299.0v-2.2M331.4 265.0h2.2M371.5 299.0v-2.2M331.4 259.1h2.2M378.4 299.0v-2.2M331.4 256.1h2.2M381.9 299.0v-2.2M331.4 254.0h2.2M384.4 299.0v-2.2M331.4 252.4h2.2M386.4 299.0v-2.2M331.4 251.0h2.2M388.0 299.0v-2.2M331.4 249.9h2.2M389.3 299.0v-2.2M331.4 248.9h2.2M390.5 299.0v-2.2M331.4 248.1h2.2M391.5 299.0v-2.2M331.4 242.2h2.2M398.4 299.0v-2.2M331.4 239.2h2.2M401.9 299.0v-2.2M331.4 237.1h2.2M404.4 299.0v-2.2M331.4 235.5h2.2M406.4 299.0v-2.2M331.4 234.1h2.2M408.0 299.0v-2.2M331.4 233.0h2.2M409.3 299.0v-2.2M331.4 232.0h2.2M410.5 299.0v-2.2M331.4 231.2h2.2M411.5 299.0v-2.2" stroke="#444" stroke-width="0.7" fill="none"/>
<text transform="translate(328.6 302.0) rotate(-90) scale(0.7 1)" font-family="Liberation Sans" font-weight="bold" font-size="5" fill="#333">10<tspan dx="1.8" dy="-3.0" font-size="3.5">0</tspan></text>
<text x="329.7" y="304.1" font-family="Liberation Sans" font-weight="bold" font-size="5" fill="#333">10<tspan dy="-2" font-size="3.5">0</tspan></text>
<text transform="translate(328.6 285.1) rotate(-90) scale(0.7 1)" font-family="Liberation Sans" font-weight="bold" font-size="5" fill="#333">10<tspan dx="1.8" dy="-3.0" font-size="3.5">1</tspan></text>
<text x="349.7" y="304.1" font-family="Liberation Sans" font-weight="bold" font-size="5" fill="#333">10<tspan dy="-2" font-size="3.5">1</tspan></text>
<text transform="translate(328.6 268.2) rotate(-90) scale(0.7 1)" font-family="Liberation Sans" font-weight="bold" font-size="5" fill="#333">10<tspan dx="1.8" dy="-3.0" font-size="3.5">2</tspan></text>
<text x="369.7" y="304.1" font-family="Liberation Sans" font-weight="bold" font-size="5" fill="#333">10<tspan dy="-2" font-size="3.5">2</tspan></text>
<text transform="translate(328.6 251.3) rotate(-90) scale(0.7 1)" font-family="Liberation Sans" font-weight="bold" font-size="5" fill="#333">10<tspan dx="1.8" dy="-3.0" font-size="3.5">3</tspan></text>
<text x="389.7" y="304.1" font-family="Liberation Sans" font-weight="bold" font-size="5" fill="#333">10<tspan dy="-2" font-size="3.5">3</tspan></text>
<text transform="translate(328.6 234.4) rotate(-90) scale(0.7 1)" font-family="Liberation Sans" font-weight="bold" font-size="5" fill="#333">10<tspan dx="1.8" dy="-3.0" font-size="3.5">4</tspan></text>
<text x="409.7" y="304.1" font-family="Liberation Sans" font-weight="bold" font-size="5" fill="#333">10<tspan dy="-2" font-size="3.5">4</tspan></text>
<text transform="translate(319.9 278.5) rotate(-90)" font-family="Liberation Sans" font-weight="bold" stroke="#111" stroke-width="0.4" font-size="10" fill="#111">GR-1</text>
<text x="371.7" y="314.1" font-family="Liberation Sans" font-weight="bold" stroke="#111" stroke-width="0.4" font-size="10" text-anchor="middle" fill="#111">Ly5.2</text>
<path d="M331.9 344.5H411.9V412.0" fill="none" stroke="#444" stroke-width="0.9"/>
<path d="M331.9 344.5V412.0H411.9" fill="none" stroke="#222" stroke-width="1.1"/>
<path d="M364.7 344.5V412.0M331.9 393.2H411.9" stroke="#111" stroke-width="1.4" fill="none"/>
<path d="M330.9 406.9h2.2M337.9 413.0v-2.2M330.9 403.9h2.2M341.4 413.0v-2.2M330.9 401.8h2.2M343.9 413.0v-2.2M330.9 400.2h2.2M345.9 413.0v-2.2M330.9 398.9h2.2M347.5 413.0v-2.2M330.9 397.7h2.2M348.8 413.0v-2.2M330.9 396.8h2.2M350.0 413.0v-2.2M330.9 395.9h2.2M351.0 413.0v-2.2M330.9 390.0h2.2M357.9 413.0v-2.2M330.9 387.1h2.2M361.4 413.0v-2.2M330.9 385.0h2.2M363.9 413.0v-2.2M330.9 383.3h2.2M365.9 413.0v-2.2M330.9 382.0h2.2M367.5 413.0v-2.2M330.9 380.9h2.2M368.8 413.0v-2.2M330.9 379.9h2.2M370.0 413.0v-2.2M330.9 379.0h2.2M371.0 413.0v-2.2M330.9 373.2h2.2M377.9 413.0v-2.2M330.9 370.2h2.2M381.4 413.0v-2.2M330.9 368.1h2.2M383.9 413.0v-2.2M330.9 366.5h2.2M385.9 413.0v-2.2M330.9 365.1h2.2M387.5 413.0v-2.2M330.9 364.0h2.2M388.8 413.0v-2.2M330.9 363.0h2.2M390.0 413.0v-2.2M330.9 362.1h2.2M391.0 413.0v-2.2M330.9 356.3h2.2M397.9 413.0v-2.2M330.9 353.3h2.2M401.4 413.0v-2.2M330.9 351.2h2.2M403.9 413.0v-2.2M330.9 349.6h2.2M405.9 413.0v-2.2M330.9 348.2h2.2M407.5 413.0v-2.2M330.9 347.1h2.2M408.8 413.0v-2.2M330.9 346.1h2.2M410.0 413.0v-2.2M330.9 345.3h2.2M411.0 413.0v-2.2" stroke="#444" stroke-width="0.7" fill="none"/>
<text transform="translate(328.1 416.0) rotate(-90) scale(0.7 1)" font-family="Liberation Sans" font-weight="bold" font-size="5" fill="#333">10<tspan dx="1.8" dy="-3.0" font-size="3.5">0</tspan></text>
<text x="329.2" y="418.1" font-family="Liberation Sans" font-weight="bold" font-size="5" fill="#333">10<tspan dy="-2" font-size="3.5">0</tspan></text>
<text transform="translate(328.1 399.1) rotate(-90) scale(0.7 1)" font-family="Liberation Sans" font-weight="bold" font-size="5" fill="#333">10<tspan dx="1.8" dy="-3.0" font-size="3.5">1</tspan></text>
<text x="349.2" y="418.1" font-family="Liberation Sans" font-weight="bold" font-size="5" fill="#333">10<tspan dy="-2" font-size="3.5">1</tspan></text>
<text transform="translate(328.1 382.2) rotate(-90) scale(0.7 1)" font-family="Liberation Sans" font-weight="bold" font-size="5" fill="#333">10<tspan dx="1.8" dy="-3.0" font-size="3.5">2</tspan></text>
<text x="369.2" y="418.1" font-family="Liberation Sans" font-weight="bold" font-size="5" fill="#333">10<tspan dy="-2" font-size="3.5">2</tspan></text>
<text transform="translate(328.1 365.4) rotate(-90) scale(0.7 1)" font-family="Liberation Sans" font-weight="bold" font-size="5" fill="#333">10<tspan dx="1.8" dy="-3.0" font-size="3.5">3</tspan></text>
<text x="389.2" y="418.1" font-family="Liberation Sans" font-weight="bold" font-size="5" fill="#333">10<tspan dy="-2" font-size="3.5">3</tspan></text>
<text transform="translate(328.1 348.5) rotate(-90) scale(0.7 1)" font-family="Liberation Sans" font-weight="bold" font-size="5" fill="#333">10<tspan dx="1.8" dy="-3.0" font-size="3.5">4</tspan></text>
<text x="409.2" y="418.1" font-family="Liberation Sans" font-weight="bold" font-size="5" fill="#333">10<tspan dy="-2" font-size="3.5">4</tspan></text>
<text transform="translate(319.9 390.7) rotate(-90)" font-family="Liberation Sans" font-weight="bold" stroke="#111" stroke-width="0.4" font-size="10" fill="#111">GR-1</text>
<text x="372.1" y="428.1" font-family="Liberation Sans" font-weight="bold" stroke="#111" stroke-width="0.4" font-size="10" text-anchor="middle" fill="#111">Ly5.2</text>
<path d="M435.4 230.4H515.4V298.0" fill="none" stroke="#444" stroke-width="0.9"/>
<path d="M435.4 230.4V298.0H515.4" fill="none" stroke="#222" stroke-width="1.1"/>
<path d="M455.2 230.4V298.0M435.4 279.2H515.4" stroke="#111" stroke-width="1.4" fill="none"/>
<path d="M434.4 292.9h2.2M441.4 299.0v-2.2M434.4 289.9h2.2M444.9 299.0v-2.2M434.4 287.8h2.2M447.4 299.0v-2.2M434.4 286.2h2.2M449.4 299.0v-2.2M434.4 284.8h2.2M451.0 299.0v-2.2M434.4 283.7h2.2M452.3 299.0v-2.2M434.4 282.7h2.2M453.5 299.0v-2.2M434.4 281.9h2.2M454.5 299.0v-2.2M434.4 276.0h2.2M461.4 299.0v-2.2M434.4 273.0h2.2M464.9 299.0v-2.2M434.4 270.9h2.2M467.4 299.0v-2.2M434.4 269.3h2.2M469.4 299.0v-2.2M434.4 267.9h2.2M471.0 299.0v-2.2M434.4 266.8h2.2M472.3 299.0v-2.2M434.4 265.8h2.2M473.5 299.0v-2.2M434.4 265.0h2.2M474.5 299.0v-2.2M434.4 259.1h2.2M481.4 299.0v-2.2M434.4 256.1h2.2M484.9 299.0v-2.2M434.4 254.0h2.2M487.4 299.0v-2.2M434.4 252.4h2.2M489.4 299.0v-2.2M434.4 251.0h2.2M491.0 299.0v-2.2M434.4 249.9h2.2M492.3 299.0v-2.2M434.4 248.9h2.2M493.5 299.0v-2.2M434.4 248.1h2.2M494.5 299.0v-2.2M434.4 242.2h2.2M501.4 299.0v-2.2M434.4 239.2h2.2M504.9 299.0v-2.2M434.4 237.1h2.2M507.4 299.0v-2.2M434.4 235.5h2.2M509.4 299.0v-2.2M434.4 234.1h2.2M511.0 299.0v-2.2M434.4 233.0h2.2M512.3 299.0v-2.2M434.4 232.0h2.2M513.5 299.0v-2.2M434.4 231.2h2.2M514.5 299.0v-2.2" stroke="#444" stroke-width="0.7" fill="none"/>
<text transform="translate(431.6 302.0) rotate(-90) scale(0.7 1)" font-family="Liberation Sans" font-weight="bold" font-size="5" fill="#333">10<tspan dx="1.8" dy="-3.0" font-size="3.5">0</tspan></text>
<text x="432.7" y="304.1" font-family="Liberation Sans" font-weight="bold" font-size="5" fill="#333">10<tspan dy="-2" font-size="3.5">0</tspan></text>
<text transform="translate(431.6 285.1) rotate(-90) scale(0.7 1)" font-family="Liberation Sans" font-weight="bold" font-size="5" fill="#333">10<tspan dx="1.8" dy="-3.0" font-size="3.5">1</tspan></text>
<text x="452.7" y="304.1" font-family="Liberation Sans" font-weight="bold" font-size="5" fill="#333">10<tspan dy="-2" font-size="3.5">1</tspan></text>
<text transform="translate(431.6 268.2) rotate(-90) scale(0.7 1)" font-family="Liberation Sans" font-weight="bold" font-size="5" fill="#333">10<tspan dx="1.8" dy="-3.0" font-size="3.5">2</tspan></text>
<text x="472.7" y="304.1" font-family="Liberation Sans" font-weight="bold" font-size="5" fill="#333">10<tspan dy="-2" font-size="3.5">2</tspan></text>
<text transform="translate(431.6 251.3) rotate(-90) scale(0.7 1)" font-family="Liberation Sans" font-weight="bold" font-size="5" fill="#333">10<tspan dx="1.8" dy="-3.0" font-size="3.5">3</tspan></text>
<text x="492.7" y="304.1" font-family="Liberation Sans" font-weight="bold" font-size="5" fill="#333">10<tspan dy="-2" font-size="3.5">3</tspan></text>
<text transform="translate(431.6 234.4) rotate(-90) scale(0.7 1)" font-family="Liberation Sans" font-weight="bold" font-size="5" fill="#333">10<tspan dx="1.8" dy="-3.0" font-size="3.5">4</tspan></text>
<text x="512.7" y="304.1" font-family="Liberation Sans" font-weight="bold" font-size="5" fill="#333">10<tspan dy="-2" font-size="3.5">4</tspan></text>
<text transform="translate(422.9 278.5) rotate(-90)" font-family="Liberation Sans" font-weight="bold" stroke="#111" stroke-width="0.4" font-size="10" fill="#111">F4/80</text>
<text x="475.1" y="314.1" font-family="Liberation Sans" font-weight="bold" stroke="#111" stroke-width="0.4" font-size="10" text-anchor="middle" fill="#111">Ly5.2</text>
<path d="M435.1 344.5H515.1V412.0" fill="none" stroke="#444" stroke-width="0.9"/>
<path d="M435.1 344.5V412.0H515.1" fill="none" stroke="#222" stroke-width="1.1"/>
<path d="M467.8 344.5V412.0M435.1 393.2H515.1" stroke="#111" stroke-width="1.4" fill="none"/>
<path d="M434.1 406.9h2.2M441.1 413.0v-2.2M434.1 403.9h2.2M444.6 413.0v-2.2M434.1 401.8h2.2M447.1 413.0v-2.2M434.1 400.2h2.2M449.1 413.0v-2.2M434.1 398.9h2.2M450.7 413.0v-2.2M434.1 397.7h2.2M452.0 413.0v-2.2M434.1 396.8h2.2M453.2 413.0v-2.2M434.1 395.9h2.2M454.2 413.0v-2.2M434.1 390.0h2.2M461.1 413.0v-2.2M434.1 387.1h2.2M464.6 413.0v-2.2M434.1 385.0h2.2M467.1 413.0v-2.2M434.1 383.3h2.2M469.1 413.0v-2.2M434.1 382.0h2.2M470.7 413.0v-2.2M434.1 380.9h2.2M472.0 413.0v-2.2M434.1 379.9h2.2M473.2 413.0v-2.2M434.1 379.0h2.2M474.2 413.0v-2.2M434.1 373.2h2.2M481.1 413.0v-2.2M434.1 370.2h2.2M484.6 413.0v-2.2M434.1 368.1h2.2M487.1 413.0v-2.2M434.1 366.5h2.2M489.1 413.0v-2.2M434.1 365.1h2.2M490.7 413.0v-2.2M434.1 364.0h2.2M492.0 413.0v-2.2M434.1 363.0h2.2M493.2 413.0v-2.2M434.1 362.1h2.2M494.2 413.0v-2.2M434.1 356.3h2.2M501.1 413.0v-2.2M434.1 353.3h2.2M504.6 413.0v-2.2M434.1 351.2h2.2M507.1 413.0v-2.2M434.1 349.6h2.2M509.1 413.0v-2.2M434.1 348.2h2.2M510.7 413.0v-2.2M434.1 347.1h2.2M512.0 413.0v-2.2M434.1 346.1h2.2M513.2 413.0v-2.2M434.1 345.3h2.2M514.2 413.0v-2.2" stroke="#444" stroke-width="0.7" fill="none"/>
<text transform="translate(431.3 416.0) rotate(-90) scale(0.7 1)" font-family="Liberation Sans" font-weight="bold" font-size="5" fill="#333">10<tspan dx="1.8" dy="-3.0" font-size="3.5">0</tspan></text>
<text x="432.4" y="418.1" font-family="Liberation Sans" font-weight="bold" font-size="5" fill="#333">10<tspan dy="-2" font-size="3.5">0</tspan></text>
<text transform="translate(431.3 399.1) rotate(-90) scale(0.7 1)" font-family="Liberation Sans" font-weight="bold" font-size="5" fill="#333">10<tspan dx="1.8" dy="-3.0" font-size="3.5">1</tspan></text>
<text x="452.4" y="418.1" font-family="Liberation Sans" font-weight="bold" font-size="5" fill="#333">10<tspan dy="-2" font-size="3.5">1</tspan></text>
<text transform="translate(431.3 382.2) rotate(-90) scale(0.7 1)" font-family="Liberation Sans" font-weight="bold" font-size="5" fill="#333">10<tspan dx="1.8" dy="-3.0" font-size="3.5">2</tspan></text>
<text x="472.4" y="418.1" font-family="Liberation Sans" font-weight="bold" font-size="5" fill="#333">10<tspan dy="-2" font-size="3.5">2</tspan></text>
<text transform="translate(431.3 365.4) rotate(-90) scale(0.7 1)" font-family="Liberation Sans" font-weight="bold" font-size="5" fill="#333">10<tspan dx="1.8" dy="-3.0" font-size="3.5">3</tspan></text>
<text x="492.4" y="418.1" font-family="Liberation Sans" font-weight="bold" font-size="5" fill="#333">10<tspan dy="-2" font-size="3.5">3</tspan></text>
<text transform="translate(431.3 348.5) rotate(-90) scale(0.7 1)" font-family="Liberation Sans" font-weight="bold" font-size="5" fill="#333">10<tspan dx="1.8" dy="-3.0" font-size="3.5">4</tspan></text>
<text x="512.4" y="418.1" font-family="Liberation Sans" font-weight="bold" font-size="5" fill="#333">10<tspan dy="-2" font-size="3.5">4</tspan></text>
<text transform="translate(422.9 390.7) rotate(-90)" font-family="Liberation Sans" font-weight="bold" stroke="#111" stroke-width="0.4" font-size="10" fill="#111">F4/80</text>
<text x="475.5" y="428.1" font-family="Liberation Sans" font-weight="bold" stroke="#111" stroke-width="0.4" font-size="10" text-anchor="middle" fill="#111">Ly5.2</text>
</svg>
</body></html>
